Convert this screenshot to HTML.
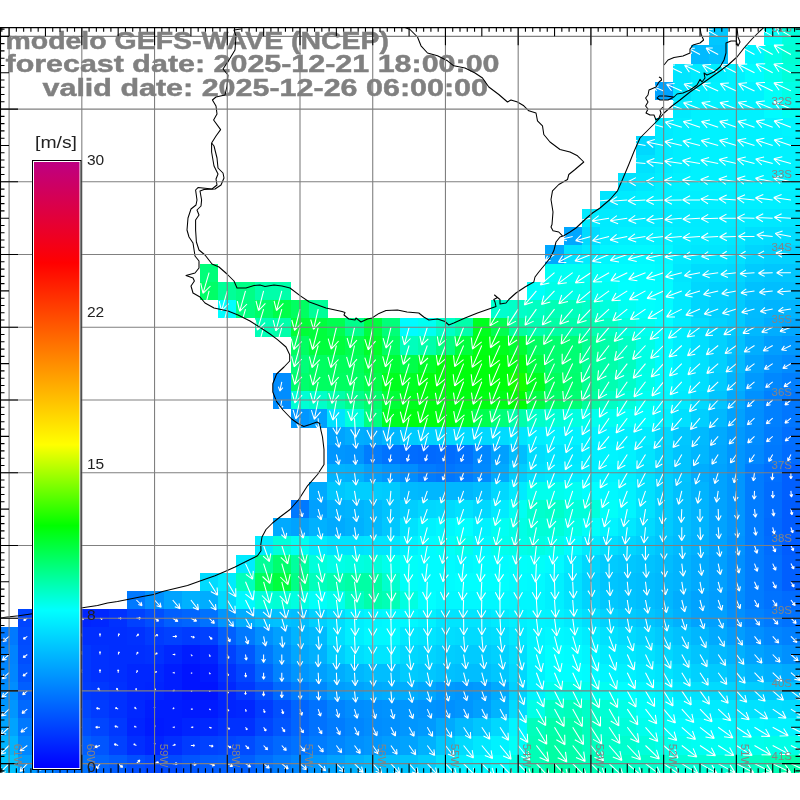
<!DOCTYPE html><html><head><meta charset="utf-8"><style>html,body{margin:0;padding:0;background:#fff;width:800px;height:800px;overflow:hidden}</style></head><body><svg width="800" height="800" viewBox="0 0 800 800" style="position:absolute;left:0;top:0">
<defs><filter id="gs" x="0" y="0" width="100%" height="100%" filterUnits="userSpaceOnUse" color-interpolation-filters="sRGB"><feColorMatrix type="saturate" values="0"/></filter></defs>
<rect width="800" height="800" fill="#fff"/>
<g shape-rendering="crispEdges">
<rect x="709.09" y="27.27" width="18.48" height="18.48" fill="#00c7ff"/>
<rect x="763.64" y="27.27" width="18.48" height="18.48" fill="#00fff9"/>
<rect x="781.82" y="27.27" width="18.48" height="18.48" fill="#00ffdb"/>
<rect x="690.91" y="45.45" width="18.48" height="18.49" fill="#00baff"/>
<rect x="709.09" y="45.45" width="18.48" height="18.49" fill="#00c1ff"/>
<rect x="745.45" y="45.45" width="18.49" height="18.49" fill="#00f5ff"/>
<rect x="763.64" y="45.45" width="18.48" height="18.49" fill="#00ffe7"/>
<rect x="781.82" y="45.45" width="18.48" height="18.49" fill="#00ffd4"/>
<rect x="672.73" y="63.64" width="18.48" height="18.48" fill="#00e5ff"/>
<rect x="690.91" y="63.64" width="18.48" height="18.48" fill="#00ebff"/>
<rect x="709.09" y="63.64" width="18.48" height="18.48" fill="#00efff"/>
<rect x="727.27" y="63.64" width="18.48" height="18.48" fill="#00f2ff"/>
<rect x="745.45" y="63.64" width="18.49" height="18.48" fill="#00fcff"/>
<rect x="763.64" y="63.64" width="18.48" height="18.48" fill="#00ffed"/>
<rect x="781.82" y="63.64" width="18.48" height="18.48" fill="#00ffdb"/>
<rect x="654.55" y="81.82" width="18.48" height="18.48" fill="#00a3ff"/>
<rect x="672.73" y="81.82" width="18.48" height="18.48" fill="#00e5ff"/>
<rect x="690.91" y="81.82" width="18.48" height="18.48" fill="#00efff"/>
<rect x="709.09" y="81.82" width="54.85" height="18.48" fill="#00f2ff"/>
<rect x="763.64" y="81.82" width="18.48" height="18.48" fill="#00fff9"/>
<rect x="781.82" y="81.82" width="18.48" height="18.48" fill="#00ffe7"/>
<rect x="672.73" y="100.0" width="18.48" height="18.48" fill="#00ebff"/>
<rect x="690.91" y="100.0" width="73.03" height="18.48" fill="#00f2ff"/>
<rect x="763.64" y="100.0" width="18.48" height="18.48" fill="#00fcff"/>
<rect x="781.82" y="100.0" width="18.48" height="18.48" fill="#00fff3"/>
<rect x="654.55" y="118.18" width="18.48" height="18.48" fill="#00ebff"/>
<rect x="672.73" y="118.18" width="18.48" height="18.48" fill="#00efff"/>
<rect x="690.91" y="118.18" width="91.21" height="18.48" fill="#00f2ff"/>
<rect x="781.82" y="118.18" width="18.48" height="18.48" fill="#00f5ff"/>
<rect x="636.36" y="136.36" width="18.49" height="18.49" fill="#00d8ff"/>
<rect x="654.55" y="136.36" width="18.48" height="18.49" fill="#00ebff"/>
<rect x="672.73" y="136.36" width="18.48" height="18.49" fill="#00efff"/>
<rect x="690.91" y="136.36" width="109.39" height="18.49" fill="#00f2ff"/>
<rect x="636.36" y="154.55" width="18.49" height="18.48" fill="#00e2ff"/>
<rect x="654.55" y="154.55" width="18.48" height="18.48" fill="#00ebff"/>
<rect x="672.73" y="154.55" width="18.48" height="18.48" fill="#00efff"/>
<rect x="690.91" y="154.55" width="109.39" height="18.48" fill="#00f2ff"/>
<rect x="618.18" y="172.73" width="18.48" height="18.48" fill="#00e2ff"/>
<rect x="636.36" y="172.73" width="18.49" height="18.48" fill="#00e8ff"/>
<rect x="654.55" y="172.73" width="18.48" height="18.48" fill="#00efff"/>
<rect x="672.73" y="172.73" width="127.57" height="18.48" fill="#00f2ff"/>
<rect x="600.0" y="190.91" width="18.48" height="18.48" fill="#00e5ff"/>
<rect x="618.18" y="190.91" width="18.48" height="18.48" fill="#00ebff"/>
<rect x="636.36" y="190.91" width="163.94" height="18.48" fill="#00efff"/>
<rect x="581.82" y="209.09" width="182.12" height="18.48" fill="#00ebff"/>
<rect x="763.64" y="209.09" width="18.48" height="18.48" fill="#00e8ff"/>
<rect x="781.82" y="209.09" width="18.48" height="18.48" fill="#00e5ff"/>
<rect x="563.64" y="227.27" width="18.48" height="18.48" fill="#00a7ff"/>
<rect x="581.82" y="227.27" width="18.48" height="18.48" fill="#00dbff"/>
<rect x="600.0" y="227.27" width="18.48" height="18.48" fill="#00ecff"/>
<rect x="618.18" y="227.27" width="36.67" height="18.48" fill="#00f0ff"/>
<rect x="654.55" y="227.27" width="18.48" height="18.48" fill="#00f1ff"/>
<rect x="672.73" y="227.27" width="18.48" height="18.48" fill="#00edff"/>
<rect x="690.91" y="227.27" width="18.48" height="18.48" fill="#00ecff"/>
<rect x="709.09" y="227.27" width="18.48" height="18.48" fill="#00ebff"/>
<rect x="727.27" y="227.27" width="18.48" height="18.48" fill="#00e8ff"/>
<rect x="745.45" y="227.27" width="18.49" height="18.48" fill="#00e0ff"/>
<rect x="763.64" y="227.27" width="18.48" height="18.48" fill="#00deff"/>
<rect x="781.82" y="227.27" width="18.48" height="18.48" fill="#00ddff"/>
<rect x="545.45" y="245.45" width="18.49" height="18.49" fill="#00a7ff"/>
<rect x="563.64" y="245.45" width="18.48" height="18.49" fill="#00e2ff"/>
<rect x="581.82" y="245.45" width="18.48" height="18.49" fill="#00ebff"/>
<rect x="600.0" y="245.45" width="18.48" height="18.49" fill="#00f6ff"/>
<rect x="618.18" y="245.45" width="18.48" height="18.49" fill="#00f8ff"/>
<rect x="636.36" y="245.45" width="18.49" height="18.49" fill="#00f9ff"/>
<rect x="654.55" y="245.45" width="18.48" height="18.49" fill="#00f7ff"/>
<rect x="672.73" y="245.45" width="18.48" height="18.49" fill="#00ebff"/>
<rect x="690.91" y="245.45" width="18.48" height="18.49" fill="#00e7ff"/>
<rect x="709.09" y="245.45" width="18.48" height="18.49" fill="#00e6ff"/>
<rect x="727.27" y="245.45" width="18.48" height="18.49" fill="#00e2ff"/>
<rect x="745.45" y="245.45" width="18.49" height="18.49" fill="#00d6ff"/>
<rect x="763.64" y="245.45" width="36.66" height="18.49" fill="#00d2ff"/>
<rect x="200.0" y="263.64" width="18.48" height="18.48" fill="#00ff79"/>
<rect x="545.45" y="263.64" width="54.85" height="18.48" fill="#00fff3"/>
<rect x="600.0" y="263.64" width="18.48" height="18.48" fill="#00fffe"/>
<rect x="618.18" y="263.64" width="18.48" height="18.48" fill="#00feff"/>
<rect x="636.36" y="263.64" width="18.49" height="18.48" fill="#00fdff"/>
<rect x="654.55" y="263.64" width="18.48" height="18.48" fill="#00faff"/>
<rect x="672.73" y="263.64" width="18.48" height="18.48" fill="#00e6ff"/>
<rect x="690.91" y="263.64" width="36.66" height="18.48" fill="#00dcff"/>
<rect x="727.27" y="263.64" width="18.48" height="18.48" fill="#00d8ff"/>
<rect x="745.45" y="263.64" width="18.49" height="18.48" fill="#00cbff"/>
<rect x="763.64" y="263.64" width="36.66" height="18.48" fill="#00c7ff"/>
<rect x="200.0" y="281.82" width="18.48" height="18.48" fill="#00ff67"/>
<rect x="218.18" y="281.82" width="18.48" height="18.48" fill="#00ff98"/>
<rect x="236.36" y="281.82" width="18.49" height="18.48" fill="#00ff86"/>
<rect x="254.55" y="281.82" width="36.66" height="18.48" fill="#00ffaa"/>
<rect x="527.27" y="281.82" width="18.48" height="18.48" fill="#00fff9"/>
<rect x="545.45" y="281.82" width="36.67" height="18.48" fill="#00ffe7"/>
<rect x="581.82" y="281.82" width="18.48" height="18.48" fill="#00ffed"/>
<rect x="600.0" y="281.82" width="18.48" height="18.48" fill="#00fff4"/>
<rect x="618.18" y="281.82" width="18.48" height="18.48" fill="#00ffff"/>
<rect x="636.36" y="281.82" width="18.49" height="18.48" fill="#00fdff"/>
<rect x="654.55" y="281.82" width="18.48" height="18.48" fill="#00fcff"/>
<rect x="672.73" y="281.82" width="18.48" height="18.48" fill="#00e9ff"/>
<rect x="690.91" y="281.82" width="18.48" height="18.48" fill="#00d7ff"/>
<rect x="709.09" y="281.82" width="18.48" height="18.48" fill="#00d2ff"/>
<rect x="727.27" y="281.82" width="18.48" height="18.48" fill="#00cfff"/>
<rect x="745.45" y="281.82" width="18.49" height="18.48" fill="#00c1ff"/>
<rect x="763.64" y="281.82" width="36.66" height="18.48" fill="#00beff"/>
<rect x="218.18" y="300.0" width="18.48" height="18.48" fill="#00ffff"/>
<rect x="236.36" y="300.0" width="18.49" height="18.48" fill="#00ff7f"/>
<rect x="254.55" y="300.0" width="18.48" height="18.48" fill="#00ff67"/>
<rect x="272.73" y="300.0" width="18.48" height="18.48" fill="#00ff49"/>
<rect x="290.91" y="300.0" width="18.48" height="18.48" fill="#00ff61"/>
<rect x="309.09" y="300.0" width="18.48" height="18.48" fill="#00ff98"/>
<rect x="490.91" y="300.0" width="18.48" height="18.48" fill="#00ffce"/>
<rect x="509.09" y="300.0" width="18.48" height="18.48" fill="#00ffc8"/>
<rect x="527.27" y="300.0" width="18.48" height="18.48" fill="#00ffc2"/>
<rect x="545.45" y="300.0" width="18.49" height="18.48" fill="#00ffb6"/>
<rect x="563.64" y="300.0" width="18.48" height="18.48" fill="#00ffbc"/>
<rect x="581.82" y="300.0" width="18.48" height="18.48" fill="#00ffc8"/>
<rect x="600.0" y="300.0" width="18.48" height="18.48" fill="#00ffde"/>
<rect x="618.18" y="300.0" width="18.48" height="18.48" fill="#00fff2"/>
<rect x="636.36" y="300.0" width="18.49" height="18.48" fill="#00fffd"/>
<rect x="654.55" y="300.0" width="18.48" height="18.48" fill="#00fcff"/>
<rect x="672.73" y="300.0" width="18.48" height="18.48" fill="#00eaff"/>
<rect x="690.91" y="300.0" width="18.48" height="18.48" fill="#00d6ff"/>
<rect x="709.09" y="300.0" width="18.48" height="18.48" fill="#00cfff"/>
<rect x="727.27" y="300.0" width="18.48" height="18.48" fill="#00cbff"/>
<rect x="745.45" y="300.0" width="18.49" height="18.48" fill="#00bbff"/>
<rect x="763.64" y="300.0" width="36.66" height="18.48" fill="#00b4ff"/>
<rect x="254.55" y="318.18" width="18.48" height="18.48" fill="#00ffb6"/>
<rect x="272.73" y="318.18" width="18.48" height="18.48" fill="#00ffaa"/>
<rect x="290.91" y="318.18" width="18.48" height="18.48" fill="#00ff37"/>
<rect x="309.09" y="318.18" width="18.48" height="18.48" fill="#00ff3d"/>
<rect x="327.27" y="318.18" width="18.48" height="18.48" fill="#00ff4f"/>
<rect x="345.45" y="318.18" width="18.49" height="18.48" fill="#00ff8c"/>
<rect x="363.64" y="318.18" width="18.48" height="18.48" fill="#00ff3d"/>
<rect x="381.82" y="318.18" width="18.48" height="18.48" fill="#00ff79"/>
<rect x="400.0" y="318.18" width="18.48" height="18.48" fill="#00fcff"/>
<rect x="418.18" y="318.18" width="18.48" height="18.48" fill="#00fff3"/>
<rect x="436.36" y="318.18" width="18.49" height="18.48" fill="#00ffc8"/>
<rect x="454.55" y="318.18" width="18.48" height="18.48" fill="#00ffaa"/>
<rect x="472.73" y="318.18" width="18.48" height="18.48" fill="#00ff1e"/>
<rect x="490.91" y="318.18" width="18.48" height="18.48" fill="#00ff4f"/>
<rect x="509.09" y="318.18" width="18.48" height="18.48" fill="#00ff9e"/>
<rect x="527.27" y="318.18" width="18.48" height="18.48" fill="#00ffb0"/>
<rect x="545.45" y="318.18" width="18.49" height="18.48" fill="#00ffa4"/>
<rect x="563.64" y="318.18" width="18.48" height="18.48" fill="#00ffaa"/>
<rect x="581.82" y="318.18" width="18.48" height="18.48" fill="#00ffb0"/>
<rect x="600.0" y="318.18" width="18.48" height="18.48" fill="#00ffc2"/>
<rect x="618.18" y="318.18" width="18.48" height="18.48" fill="#00ffdc"/>
<rect x="636.36" y="318.18" width="18.49" height="18.48" fill="#00ffef"/>
<rect x="654.55" y="318.18" width="18.48" height="18.48" fill="#00feff"/>
<rect x="672.73" y="318.18" width="18.48" height="18.48" fill="#00eeff"/>
<rect x="690.91" y="318.18" width="18.48" height="18.48" fill="#00ddff"/>
<rect x="709.09" y="318.18" width="18.48" height="18.48" fill="#00d3ff"/>
<rect x="727.27" y="318.18" width="18.48" height="18.48" fill="#00cbff"/>
<rect x="745.45" y="318.18" width="18.49" height="18.48" fill="#00b9ff"/>
<rect x="763.64" y="318.18" width="18.48" height="18.48" fill="#00adff"/>
<rect x="781.82" y="318.18" width="18.48" height="18.48" fill="#00a7ff"/>
<rect x="290.91" y="336.36" width="18.48" height="18.49" fill="#00ff61"/>
<rect x="309.09" y="336.36" width="36.66" height="18.49" fill="#00ff3d"/>
<rect x="345.45" y="336.36" width="18.49" height="18.49" fill="#00ff4f"/>
<rect x="363.64" y="336.36" width="18.48" height="18.49" fill="#00ff2a"/>
<rect x="381.82" y="336.36" width="18.48" height="18.49" fill="#00ff61"/>
<rect x="400.0" y="336.36" width="18.48" height="18.49" fill="#00ffbc"/>
<rect x="418.18" y="336.36" width="18.48" height="18.49" fill="#00ffaa"/>
<rect x="436.36" y="336.36" width="18.49" height="18.49" fill="#00ff7f"/>
<rect x="454.55" y="336.36" width="18.48" height="18.49" fill="#00ff3d"/>
<rect x="472.73" y="336.36" width="18.48" height="18.49" fill="#00ff12"/>
<rect x="490.91" y="336.36" width="18.48" height="18.49" fill="#00ff1e"/>
<rect x="509.09" y="336.36" width="18.48" height="18.49" fill="#00ff31"/>
<rect x="527.27" y="336.36" width="18.48" height="18.49" fill="#00ff61"/>
<rect x="545.45" y="336.36" width="18.49" height="18.49" fill="#00ff6d"/>
<rect x="563.64" y="336.36" width="18.48" height="18.49" fill="#00ff73"/>
<rect x="581.82" y="336.36" width="18.48" height="18.49" fill="#00ff92"/>
<rect x="600.0" y="336.36" width="18.48" height="18.49" fill="#00ffa9"/>
<rect x="618.18" y="336.36" width="18.48" height="18.49" fill="#00ffc4"/>
<rect x="636.36" y="336.36" width="18.49" height="18.49" fill="#00ffe5"/>
<rect x="654.55" y="336.36" width="18.48" height="18.49" fill="#00fdff"/>
<rect x="672.73" y="336.36" width="18.48" height="18.49" fill="#00edff"/>
<rect x="690.91" y="336.36" width="18.48" height="18.49" fill="#00dfff"/>
<rect x="709.09" y="336.36" width="18.48" height="18.49" fill="#00d2ff"/>
<rect x="727.27" y="336.36" width="18.48" height="18.49" fill="#00c3ff"/>
<rect x="745.45" y="336.36" width="18.49" height="18.49" fill="#00aeff"/>
<rect x="763.64" y="336.36" width="18.48" height="18.49" fill="#009eff"/>
<rect x="781.82" y="336.36" width="18.48" height="18.49" fill="#0098ff"/>
<rect x="290.91" y="354.55" width="18.48" height="18.48" fill="#00ff79"/>
<rect x="309.09" y="354.55" width="18.48" height="18.48" fill="#00ff61"/>
<rect x="327.27" y="354.55" width="36.67" height="18.48" fill="#00ff5b"/>
<rect x="363.64" y="354.55" width="18.48" height="18.48" fill="#00ff3d"/>
<rect x="381.82" y="354.55" width="18.48" height="18.48" fill="#00ff37"/>
<rect x="400.0" y="354.55" width="18.48" height="18.48" fill="#00ff49"/>
<rect x="418.18" y="354.55" width="18.48" height="18.48" fill="#00ff2a"/>
<rect x="436.36" y="354.55" width="73.03" height="18.48" fill="#00ff0c"/>
<rect x="509.09" y="354.55" width="18.48" height="18.48" fill="#00ff12"/>
<rect x="527.27" y="354.55" width="18.48" height="18.48" fill="#00ff43"/>
<rect x="545.45" y="354.55" width="18.49" height="18.48" fill="#00ff6d"/>
<rect x="563.64" y="354.55" width="18.48" height="18.48" fill="#00ff73"/>
<rect x="581.82" y="354.55" width="18.48" height="18.48" fill="#00ff98"/>
<rect x="600.0" y="354.55" width="18.48" height="18.48" fill="#00ffaa"/>
<rect x="618.18" y="354.55" width="18.48" height="18.48" fill="#00ffc0"/>
<rect x="636.36" y="354.55" width="18.49" height="18.48" fill="#00ffe3"/>
<rect x="654.55" y="354.55" width="18.48" height="18.48" fill="#00fdff"/>
<rect x="672.73" y="354.55" width="18.48" height="18.48" fill="#00eeff"/>
<rect x="690.91" y="354.55" width="18.48" height="18.48" fill="#00e1ff"/>
<rect x="709.09" y="354.55" width="18.48" height="18.48" fill="#00d1ff"/>
<rect x="727.27" y="354.55" width="18.48" height="18.48" fill="#00bcff"/>
<rect x="745.45" y="354.55" width="18.49" height="18.48" fill="#00a3ff"/>
<rect x="763.64" y="354.55" width="18.48" height="18.48" fill="#0093ff"/>
<rect x="781.82" y="354.55" width="18.48" height="18.48" fill="#008bff"/>
<rect x="272.73" y="372.73" width="18.48" height="18.48" fill="#008dff"/>
<rect x="290.91" y="372.73" width="18.48" height="18.48" fill="#00ff6d"/>
<rect x="309.09" y="372.73" width="54.85" height="18.48" fill="#00ff61"/>
<rect x="363.64" y="372.73" width="18.48" height="18.48" fill="#00ff49"/>
<rect x="381.82" y="372.73" width="18.48" height="18.48" fill="#00ff1e"/>
<rect x="400.0" y="372.73" width="18.48" height="18.48" fill="#00ff24"/>
<rect x="418.18" y="372.73" width="91.21" height="18.48" fill="#00ff0c"/>
<rect x="509.09" y="372.73" width="18.48" height="18.48" fill="#13ff00"/>
<rect x="527.27" y="372.73" width="18.48" height="18.48" fill="#00ff1e"/>
<rect x="545.45" y="372.73" width="18.49" height="18.48" fill="#00ff5b"/>
<rect x="563.64" y="372.73" width="18.48" height="18.48" fill="#00ff6d"/>
<rect x="581.82" y="372.73" width="18.48" height="18.48" fill="#00ff92"/>
<rect x="600.0" y="372.73" width="18.48" height="18.48" fill="#00ffb2"/>
<rect x="618.18" y="372.73" width="18.48" height="18.48" fill="#00ffc8"/>
<rect x="636.36" y="372.73" width="18.49" height="18.48" fill="#00ffe7"/>
<rect x="654.55" y="372.73" width="18.48" height="18.48" fill="#00fcff"/>
<rect x="672.73" y="372.73" width="18.48" height="18.48" fill="#00eeff"/>
<rect x="690.91" y="372.73" width="18.48" height="18.48" fill="#00dfff"/>
<rect x="709.09" y="372.73" width="18.48" height="18.48" fill="#00ccff"/>
<rect x="727.27" y="372.73" width="18.48" height="18.48" fill="#00b3ff"/>
<rect x="745.45" y="372.73" width="18.49" height="18.48" fill="#0099ff"/>
<rect x="763.64" y="372.73" width="18.48" height="18.48" fill="#0088ff"/>
<rect x="781.82" y="372.73" width="18.48" height="18.48" fill="#007fff"/>
<rect x="272.73" y="390.91" width="18.48" height="18.48" fill="#008dff"/>
<rect x="290.91" y="390.91" width="18.48" height="18.48" fill="#00ffd4"/>
<rect x="309.09" y="390.91" width="18.48" height="18.48" fill="#00ffc8"/>
<rect x="327.27" y="390.91" width="18.48" height="18.48" fill="#00ffaa"/>
<rect x="345.45" y="390.91" width="18.49" height="18.48" fill="#00ff8c"/>
<rect x="363.64" y="390.91" width="18.48" height="18.48" fill="#00ff6d"/>
<rect x="381.82" y="390.91" width="18.48" height="18.48" fill="#00ff37"/>
<rect x="400.0" y="390.91" width="18.48" height="18.48" fill="#00ff1e"/>
<rect x="418.18" y="390.91" width="73.03" height="18.48" fill="#00ff12"/>
<rect x="490.91" y="390.91" width="18.48" height="18.48" fill="#00ff18"/>
<rect x="509.09" y="390.91" width="18.48" height="18.48" fill="#00ff06"/>
<rect x="527.27" y="390.91" width="18.48" height="18.48" fill="#00ff43"/>
<rect x="545.45" y="390.91" width="18.49" height="18.48" fill="#00ff67"/>
<rect x="563.64" y="390.91" width="18.48" height="18.48" fill="#00ff73"/>
<rect x="581.82" y="390.91" width="18.48" height="18.48" fill="#00ff9e"/>
<rect x="600.0" y="390.91" width="18.48" height="18.48" fill="#00ffc5"/>
<rect x="618.18" y="390.91" width="18.48" height="18.48" fill="#00ffd9"/>
<rect x="636.36" y="390.91" width="18.49" height="18.48" fill="#00fff2"/>
<rect x="654.55" y="390.91" width="18.48" height="18.48" fill="#00f8ff"/>
<rect x="672.73" y="390.91" width="18.48" height="18.48" fill="#00eaff"/>
<rect x="690.91" y="390.91" width="18.48" height="18.48" fill="#00d9ff"/>
<rect x="709.09" y="390.91" width="18.48" height="18.48" fill="#00c4ff"/>
<rect x="727.27" y="390.91" width="18.48" height="18.48" fill="#00a9ff"/>
<rect x="745.45" y="390.91" width="18.49" height="18.48" fill="#0091ff"/>
<rect x="763.64" y="390.91" width="18.48" height="18.48" fill="#0080ff"/>
<rect x="781.82" y="390.91" width="18.48" height="18.48" fill="#0077ff"/>
<rect x="290.91" y="409.09" width="18.48" height="18.48" fill="#0096ff"/>
<rect x="309.09" y="409.09" width="18.48" height="18.48" fill="#00a0ff"/>
<rect x="327.27" y="409.09" width="18.48" height="18.48" fill="#00e2ff"/>
<rect x="345.45" y="409.09" width="18.49" height="18.48" fill="#00ffdb"/>
<rect x="363.64" y="409.09" width="18.48" height="18.48" fill="#00ff7f"/>
<rect x="381.82" y="409.09" width="18.48" height="18.48" fill="#00ff24"/>
<rect x="400.0" y="409.09" width="54.85" height="18.48" fill="#00ff12"/>
<rect x="454.55" y="409.09" width="18.48" height="18.48" fill="#00ff24"/>
<rect x="472.73" y="409.09" width="18.48" height="18.48" fill="#00ff4f"/>
<rect x="490.91" y="409.09" width="18.48" height="18.48" fill="#00ff79"/>
<rect x="509.09" y="409.09" width="18.48" height="18.48" fill="#00ffaa"/>
<rect x="527.27" y="409.09" width="18.48" height="18.48" fill="#00ffc8"/>
<rect x="545.45" y="409.09" width="18.49" height="18.48" fill="#00ffd4"/>
<rect x="563.64" y="409.09" width="18.48" height="18.48" fill="#00ffe1"/>
<rect x="581.82" y="409.09" width="18.48" height="18.48" fill="#00ffed"/>
<rect x="600.0" y="409.09" width="18.48" height="18.48" fill="#00fff0"/>
<rect x="618.18" y="409.09" width="18.48" height="18.48" fill="#00fff7"/>
<rect x="636.36" y="409.09" width="18.49" height="18.48" fill="#00fcff"/>
<rect x="654.55" y="409.09" width="18.48" height="18.48" fill="#00f0ff"/>
<rect x="672.73" y="409.09" width="18.48" height="18.48" fill="#00e0ff"/>
<rect x="690.91" y="409.09" width="18.48" height="18.48" fill="#00cfff"/>
<rect x="709.09" y="409.09" width="18.48" height="18.48" fill="#00b9ff"/>
<rect x="727.27" y="409.09" width="18.48" height="18.48" fill="#00a2ff"/>
<rect x="745.45" y="409.09" width="18.49" height="18.48" fill="#008fff"/>
<rect x="763.64" y="409.09" width="18.48" height="18.48" fill="#0080ff"/>
<rect x="781.82" y="409.09" width="18.48" height="18.48" fill="#0076ff"/>
<rect x="327.27" y="427.27" width="18.48" height="18.48" fill="#00a3ff"/>
<rect x="345.45" y="427.27" width="18.49" height="18.48" fill="#00adff"/>
<rect x="363.64" y="427.27" width="18.48" height="18.48" fill="#00aaff"/>
<rect x="381.82" y="427.27" width="18.48" height="18.48" fill="#00b7ff"/>
<rect x="400.0" y="427.27" width="18.48" height="18.48" fill="#00cbff"/>
<rect x="418.18" y="427.27" width="18.48" height="18.48" fill="#00d1ff"/>
<rect x="436.36" y="427.27" width="18.49" height="18.48" fill="#00d8ff"/>
<rect x="454.55" y="427.27" width="18.48" height="18.48" fill="#00dbff"/>
<rect x="472.73" y="427.27" width="18.48" height="18.48" fill="#00d8ff"/>
<rect x="490.91" y="427.27" width="18.48" height="18.48" fill="#00dbff"/>
<rect x="509.09" y="427.27" width="18.48" height="18.48" fill="#00e5ff"/>
<rect x="527.27" y="427.27" width="18.48" height="18.48" fill="#00efff"/>
<rect x="545.45" y="427.27" width="73.03" height="18.48" fill="#00f2ff"/>
<rect x="618.18" y="427.27" width="18.48" height="18.48" fill="#00efff"/>
<rect x="636.36" y="427.27" width="18.49" height="18.48" fill="#00ebff"/>
<rect x="654.55" y="427.27" width="18.48" height="18.48" fill="#00d8ff"/>
<rect x="672.73" y="427.27" width="18.48" height="18.48" fill="#00c7ff"/>
<rect x="690.91" y="427.27" width="18.48" height="18.48" fill="#00baff"/>
<rect x="709.09" y="427.27" width="18.48" height="18.48" fill="#00aaff"/>
<rect x="727.27" y="427.27" width="18.48" height="18.48" fill="#009aff"/>
<rect x="745.45" y="427.27" width="18.49" height="18.48" fill="#008dff"/>
<rect x="763.64" y="427.27" width="18.48" height="18.48" fill="#007cff"/>
<rect x="781.82" y="427.27" width="18.48" height="18.48" fill="#006fff"/>
<rect x="327.27" y="445.45" width="18.48" height="18.49" fill="#0096ff"/>
<rect x="345.45" y="445.45" width="18.49" height="18.49" fill="#0093ff"/>
<rect x="363.64" y="445.45" width="18.48" height="18.49" fill="#007cff"/>
<rect x="381.82" y="445.45" width="18.48" height="18.49" fill="#0072ff"/>
<rect x="400.0" y="445.45" width="18.48" height="18.49" fill="#006cff"/>
<rect x="418.18" y="445.45" width="18.48" height="18.49" fill="#0069ff"/>
<rect x="436.36" y="445.45" width="18.49" height="18.49" fill="#006cff"/>
<rect x="454.55" y="445.45" width="18.48" height="18.49" fill="#0072ff"/>
<rect x="472.73" y="445.45" width="18.48" height="18.49" fill="#0086ff"/>
<rect x="490.91" y="445.45" width="18.48" height="18.49" fill="#00a0ff"/>
<rect x="509.09" y="445.45" width="18.48" height="18.49" fill="#00beff"/>
<rect x="527.27" y="445.45" width="18.48" height="18.49" fill="#00deff"/>
<rect x="545.45" y="445.45" width="18.49" height="18.49" fill="#00e5ff"/>
<rect x="563.64" y="445.45" width="18.48" height="18.49" fill="#00e8ff"/>
<rect x="581.82" y="445.45" width="18.48" height="18.49" fill="#00efff"/>
<rect x="600.0" y="445.45" width="18.48" height="18.49" fill="#00f5ff"/>
<rect x="618.18" y="445.45" width="18.48" height="18.49" fill="#00f2ff"/>
<rect x="636.36" y="445.45" width="18.49" height="18.49" fill="#00e5ff"/>
<rect x="654.55" y="445.45" width="18.48" height="18.49" fill="#00d4ff"/>
<rect x="672.73" y="445.45" width="18.48" height="18.49" fill="#00c4ff"/>
<rect x="690.91" y="445.45" width="18.48" height="18.49" fill="#00b7ff"/>
<rect x="709.09" y="445.45" width="18.48" height="18.49" fill="#00a7ff"/>
<rect x="727.27" y="445.45" width="18.48" height="18.49" fill="#0096ff"/>
<rect x="745.45" y="445.45" width="18.49" height="18.49" fill="#0089ff"/>
<rect x="763.64" y="445.45" width="18.48" height="18.49" fill="#0079ff"/>
<rect x="781.82" y="445.45" width="18.48" height="18.49" fill="#006cff"/>
<rect x="327.27" y="463.64" width="18.48" height="18.48" fill="#00b4ff"/>
<rect x="345.45" y="463.64" width="18.49" height="18.48" fill="#00b1ff"/>
<rect x="363.64" y="463.64" width="18.48" height="18.48" fill="#00a0ff"/>
<rect x="381.82" y="463.64" width="18.48" height="18.48" fill="#0096ff"/>
<rect x="400.0" y="463.64" width="18.48" height="18.48" fill="#008dff"/>
<rect x="418.18" y="463.64" width="18.48" height="18.48" fill="#007cff"/>
<rect x="436.36" y="463.64" width="18.49" height="18.48" fill="#0076ff"/>
<rect x="454.55" y="463.64" width="18.48" height="18.48" fill="#007cff"/>
<rect x="472.73" y="463.64" width="18.48" height="18.48" fill="#0089ff"/>
<rect x="490.91" y="463.64" width="18.48" height="18.48" fill="#00aaff"/>
<rect x="509.09" y="463.64" width="18.48" height="18.48" fill="#00ceff"/>
<rect x="527.27" y="463.64" width="18.48" height="18.48" fill="#00e2ff"/>
<rect x="545.45" y="463.64" width="18.49" height="18.48" fill="#00e8ff"/>
<rect x="563.64" y="463.64" width="18.48" height="18.48" fill="#00ebff"/>
<rect x="581.82" y="463.64" width="18.48" height="18.48" fill="#00efff"/>
<rect x="600.0" y="463.64" width="18.48" height="18.48" fill="#00f2ff"/>
<rect x="618.18" y="463.64" width="18.48" height="18.48" fill="#00efff"/>
<rect x="636.36" y="463.64" width="18.49" height="18.48" fill="#00e2ff"/>
<rect x="654.55" y="463.64" width="18.48" height="18.48" fill="#00d1ff"/>
<rect x="672.73" y="463.64" width="18.48" height="18.48" fill="#00c4ff"/>
<rect x="690.91" y="463.64" width="18.48" height="18.48" fill="#00adff"/>
<rect x="709.09" y="463.64" width="18.48" height="18.48" fill="#00a3ff"/>
<rect x="727.27" y="463.64" width="18.48" height="18.48" fill="#0096ff"/>
<rect x="745.45" y="463.64" width="18.49" height="18.48" fill="#007cff"/>
<rect x="763.64" y="463.64" width="18.48" height="18.48" fill="#006fff"/>
<rect x="781.82" y="463.64" width="18.48" height="18.48" fill="#005fff"/>
<rect x="309.09" y="481.82" width="18.48" height="18.48" fill="#00aaff"/>
<rect x="327.27" y="481.82" width="18.48" height="18.48" fill="#00c7ff"/>
<rect x="345.45" y="481.82" width="36.67" height="18.48" fill="#00ceff"/>
<rect x="381.82" y="481.82" width="18.48" height="18.48" fill="#00cbff"/>
<rect x="400.0" y="481.82" width="18.48" height="18.48" fill="#00baff"/>
<rect x="418.18" y="481.82" width="54.85" height="18.48" fill="#00b7ff"/>
<rect x="472.73" y="481.82" width="18.48" height="18.48" fill="#00beff"/>
<rect x="490.91" y="481.82" width="18.48" height="18.48" fill="#00d8ff"/>
<rect x="509.09" y="481.82" width="18.48" height="18.48" fill="#00ebff"/>
<rect x="527.27" y="481.82" width="36.67" height="18.48" fill="#00ffed"/>
<rect x="563.64" y="481.82" width="18.48" height="18.48" fill="#00fff3"/>
<rect x="581.82" y="481.82" width="18.48" height="18.48" fill="#00ffff"/>
<rect x="600.0" y="481.82" width="18.48" height="18.48" fill="#00f8ff"/>
<rect x="618.18" y="481.82" width="18.48" height="18.48" fill="#00f2ff"/>
<rect x="636.36" y="481.82" width="18.49" height="18.48" fill="#00e2ff"/>
<rect x="654.55" y="481.82" width="18.48" height="18.48" fill="#00d1ff"/>
<rect x="672.73" y="481.82" width="18.48" height="18.48" fill="#00c1ff"/>
<rect x="690.91" y="481.82" width="18.48" height="18.48" fill="#00b4ff"/>
<rect x="709.09" y="481.82" width="18.48" height="18.48" fill="#00a3ff"/>
<rect x="727.27" y="481.82" width="18.48" height="18.48" fill="#0096ff"/>
<rect x="745.45" y="481.82" width="18.49" height="18.48" fill="#007cff"/>
<rect x="763.64" y="481.82" width="18.48" height="18.48" fill="#006cff"/>
<rect x="781.82" y="481.82" width="18.48" height="18.48" fill="#005fff"/>
<rect x="290.91" y="500.0" width="18.48" height="18.48" fill="#0079ff"/>
<rect x="309.09" y="500.0" width="18.48" height="18.48" fill="#00a0ff"/>
<rect x="327.27" y="500.0" width="18.48" height="18.48" fill="#00b1ff"/>
<rect x="345.45" y="500.0" width="18.49" height="18.48" fill="#00b4ff"/>
<rect x="363.64" y="500.0" width="18.48" height="18.48" fill="#00baff"/>
<rect x="381.82" y="500.0" width="18.48" height="18.48" fill="#00c4ff"/>
<rect x="400.0" y="500.0" width="18.48" height="18.48" fill="#00ceff"/>
<rect x="418.18" y="500.0" width="18.48" height="18.48" fill="#00d8ff"/>
<rect x="436.36" y="500.0" width="18.49" height="18.48" fill="#00dbff"/>
<rect x="454.55" y="500.0" width="18.48" height="18.48" fill="#00e2ff"/>
<rect x="472.73" y="500.0" width="18.48" height="18.48" fill="#00d8ff"/>
<rect x="490.91" y="500.0" width="18.48" height="18.48" fill="#00ebff"/>
<rect x="509.09" y="500.0" width="18.48" height="18.48" fill="#00fff3"/>
<rect x="527.27" y="500.0" width="18.48" height="18.48" fill="#00ffce"/>
<rect x="545.45" y="500.0" width="18.49" height="18.48" fill="#00ffc8"/>
<rect x="563.64" y="500.0" width="36.66" height="18.48" fill="#00ffdb"/>
<rect x="600.0" y="500.0" width="18.48" height="18.48" fill="#00fff9"/>
<rect x="618.18" y="500.0" width="18.48" height="18.48" fill="#00f5ff"/>
<rect x="636.36" y="500.0" width="18.49" height="18.48" fill="#00e2ff"/>
<rect x="654.55" y="500.0" width="18.48" height="18.48" fill="#00ceff"/>
<rect x="672.73" y="500.0" width="18.48" height="18.48" fill="#00beff"/>
<rect x="690.91" y="500.0" width="18.48" height="18.48" fill="#00b4ff"/>
<rect x="709.09" y="500.0" width="18.48" height="18.48" fill="#00a3ff"/>
<rect x="727.27" y="500.0" width="18.48" height="18.48" fill="#0096ff"/>
<rect x="745.45" y="500.0" width="18.49" height="18.48" fill="#007cff"/>
<rect x="763.64" y="500.0" width="18.48" height="18.48" fill="#006cff"/>
<rect x="781.82" y="500.0" width="18.48" height="18.48" fill="#005cff"/>
<rect x="272.73" y="518.18" width="18.48" height="18.48" fill="#00aaff"/>
<rect x="290.91" y="518.18" width="18.48" height="18.48" fill="#00a3ff"/>
<rect x="309.09" y="518.18" width="18.48" height="18.48" fill="#00b1ff"/>
<rect x="327.27" y="518.18" width="18.48" height="18.48" fill="#00aaff"/>
<rect x="345.45" y="518.18" width="18.49" height="18.48" fill="#00b1ff"/>
<rect x="363.64" y="518.18" width="18.48" height="18.48" fill="#00baff"/>
<rect x="381.82" y="518.18" width="18.48" height="18.48" fill="#00c7ff"/>
<rect x="400.0" y="518.18" width="18.48" height="18.48" fill="#00e2ff"/>
<rect x="418.18" y="518.18" width="18.48" height="18.48" fill="#00f2ff"/>
<rect x="436.36" y="518.18" width="18.49" height="18.48" fill="#00f8ff"/>
<rect x="454.55" y="518.18" width="18.48" height="18.48" fill="#00ffff"/>
<rect x="472.73" y="518.18" width="18.48" height="18.48" fill="#00f2ff"/>
<rect x="490.91" y="518.18" width="18.48" height="18.48" fill="#00fff3"/>
<rect x="509.09" y="518.18" width="18.48" height="18.48" fill="#00ffe6"/>
<rect x="527.27" y="518.18" width="36.67" height="18.48" fill="#00ffd7"/>
<rect x="563.64" y="518.18" width="18.48" height="18.48" fill="#00ffe7"/>
<rect x="581.82" y="518.18" width="18.48" height="18.48" fill="#00fffa"/>
<rect x="600.0" y="518.18" width="18.48" height="18.48" fill="#00f4ff"/>
<rect x="618.18" y="518.18" width="18.48" height="18.48" fill="#00e8ff"/>
<rect x="636.36" y="518.18" width="18.49" height="18.48" fill="#00daff"/>
<rect x="654.55" y="518.18" width="18.48" height="18.48" fill="#00cbff"/>
<rect x="672.73" y="518.18" width="18.48" height="18.48" fill="#00beff"/>
<rect x="690.91" y="518.18" width="18.48" height="18.48" fill="#00b4ff"/>
<rect x="709.09" y="518.18" width="18.48" height="18.48" fill="#00a3ff"/>
<rect x="727.27" y="518.18" width="18.48" height="18.48" fill="#0096ff"/>
<rect x="745.45" y="518.18" width="18.49" height="18.48" fill="#007cff"/>
<rect x="763.64" y="518.18" width="18.48" height="18.48" fill="#0069ff"/>
<rect x="781.82" y="518.18" width="18.48" height="18.48" fill="#005cff"/>
<rect x="254.55" y="536.36" width="18.48" height="18.49" fill="#00ebff"/>
<rect x="272.73" y="536.36" width="18.48" height="18.49" fill="#00ffdb"/>
<rect x="290.91" y="536.36" width="18.48" height="18.49" fill="#00fff3"/>
<rect x="309.09" y="536.36" width="18.48" height="18.49" fill="#00ebff"/>
<rect x="327.27" y="536.36" width="36.67" height="18.49" fill="#00e2ff"/>
<rect x="363.64" y="536.36" width="36.66" height="18.49" fill="#00e5ff"/>
<rect x="400.0" y="536.36" width="18.48" height="18.49" fill="#00f2ff"/>
<rect x="418.18" y="536.36" width="18.48" height="18.49" fill="#00fcff"/>
<rect x="436.36" y="536.36" width="18.49" height="18.49" fill="#00fff9"/>
<rect x="454.55" y="536.36" width="18.48" height="18.49" fill="#00ffed"/>
<rect x="472.73" y="536.36" width="18.48" height="18.49" fill="#00f8ff"/>
<rect x="490.91" y="536.36" width="18.48" height="18.49" fill="#00ffed"/>
<rect x="509.09" y="536.36" width="18.48" height="18.49" fill="#00ffe8"/>
<rect x="527.27" y="536.36" width="18.48" height="18.49" fill="#00ffe2"/>
<rect x="545.45" y="536.36" width="18.49" height="18.49" fill="#00ffeb"/>
<rect x="563.64" y="536.36" width="18.48" height="18.49" fill="#00fcff"/>
<rect x="581.82" y="536.36" width="18.48" height="18.49" fill="#00ebff"/>
<rect x="600.0" y="536.36" width="18.48" height="18.49" fill="#00deff"/>
<rect x="618.18" y="536.36" width="18.48" height="18.49" fill="#00d6ff"/>
<rect x="636.36" y="536.36" width="18.49" height="18.49" fill="#00ceff"/>
<rect x="654.55" y="536.36" width="18.48" height="18.49" fill="#00c4ff"/>
<rect x="672.73" y="536.36" width="18.48" height="18.49" fill="#00baff"/>
<rect x="690.91" y="536.36" width="18.48" height="18.49" fill="#00b1ff"/>
<rect x="709.09" y="536.36" width="18.48" height="18.49" fill="#00a3ff"/>
<rect x="727.27" y="536.36" width="18.48" height="18.49" fill="#0093ff"/>
<rect x="745.45" y="536.36" width="18.49" height="18.49" fill="#007cff"/>
<rect x="763.64" y="536.36" width="18.48" height="18.49" fill="#006cff"/>
<rect x="781.82" y="536.36" width="18.48" height="18.49" fill="#005cff"/>
<rect x="236.36" y="554.55" width="18.49" height="18.48" fill="#00ebff"/>
<rect x="254.55" y="554.55" width="18.48" height="18.48" fill="#00ff98"/>
<rect x="272.73" y="554.55" width="18.48" height="18.48" fill="#00ff6d"/>
<rect x="290.91" y="554.55" width="18.48" height="18.48" fill="#00ff9e"/>
<rect x="309.09" y="554.55" width="18.48" height="18.48" fill="#00ffdb"/>
<rect x="327.27" y="554.55" width="18.48" height="18.48" fill="#00ffe7"/>
<rect x="345.45" y="554.55" width="18.49" height="18.48" fill="#00ffe1"/>
<rect x="363.64" y="554.55" width="18.48" height="18.48" fill="#00ffdb"/>
<rect x="381.82" y="554.55" width="18.48" height="18.48" fill="#00ffed"/>
<rect x="400.0" y="554.55" width="18.48" height="18.48" fill="#00fff9"/>
<rect x="418.18" y="554.55" width="36.67" height="18.48" fill="#00fcff"/>
<rect x="454.55" y="554.55" width="18.48" height="18.48" fill="#00f8ff"/>
<rect x="472.73" y="554.55" width="36.66" height="18.48" fill="#00fcff"/>
<rect x="509.09" y="554.55" width="18.48" height="18.48" fill="#00fffb"/>
<rect x="527.27" y="554.55" width="18.48" height="18.48" fill="#00fff9"/>
<rect x="545.45" y="554.55" width="18.49" height="18.48" fill="#00fbff"/>
<rect x="563.64" y="554.55" width="18.48" height="18.48" fill="#00eaff"/>
<rect x="581.82" y="554.55" width="18.48" height="18.48" fill="#00d7ff"/>
<rect x="600.0" y="554.55" width="18.48" height="18.48" fill="#00cbff"/>
<rect x="618.18" y="554.55" width="18.48" height="18.48" fill="#00c7ff"/>
<rect x="636.36" y="554.55" width="18.49" height="18.48" fill="#00c3ff"/>
<rect x="654.55" y="554.55" width="18.48" height="18.48" fill="#00bdff"/>
<rect x="672.73" y="554.55" width="18.48" height="18.48" fill="#00b4ff"/>
<rect x="690.91" y="554.55" width="18.48" height="18.48" fill="#00aaff"/>
<rect x="709.09" y="554.55" width="18.48" height="18.48" fill="#00a0ff"/>
<rect x="727.27" y="554.55" width="18.48" height="18.48" fill="#0090ff"/>
<rect x="745.45" y="554.55" width="18.49" height="18.48" fill="#007cff"/>
<rect x="763.64" y="554.55" width="18.48" height="18.48" fill="#006fff"/>
<rect x="781.82" y="554.55" width="18.48" height="18.48" fill="#005fff"/>
<rect x="200.0" y="572.73" width="18.48" height="18.48" fill="#00dbff"/>
<rect x="218.18" y="572.73" width="18.48" height="18.48" fill="#00ebff"/>
<rect x="236.36" y="572.73" width="18.49" height="18.48" fill="#00ffbc"/>
<rect x="254.55" y="572.73" width="18.48" height="18.48" fill="#00ff5b"/>
<rect x="272.73" y="572.73" width="18.48" height="18.48" fill="#00ff3d"/>
<rect x="290.91" y="572.73" width="18.48" height="18.48" fill="#00ff86"/>
<rect x="309.09" y="572.73" width="18.48" height="18.48" fill="#00ffbc"/>
<rect x="327.27" y="572.73" width="18.48" height="18.48" fill="#00ffb0"/>
<rect x="345.45" y="572.73" width="36.67" height="18.48" fill="#00ffa4"/>
<rect x="381.82" y="572.73" width="18.48" height="18.48" fill="#00ffce"/>
<rect x="400.0" y="572.73" width="18.48" height="18.48" fill="#00fff9"/>
<rect x="418.18" y="572.73" width="36.67" height="18.48" fill="#00fcff"/>
<rect x="454.55" y="572.73" width="54.84" height="18.48" fill="#00ffff"/>
<rect x="509.09" y="572.73" width="18.48" height="18.48" fill="#00fcff"/>
<rect x="527.27" y="572.73" width="18.48" height="18.48" fill="#00faff"/>
<rect x="545.45" y="572.73" width="18.49" height="18.48" fill="#00f1ff"/>
<rect x="563.64" y="572.73" width="18.48" height="18.48" fill="#00e2ff"/>
<rect x="581.82" y="572.73" width="18.48" height="18.48" fill="#00d0ff"/>
<rect x="600.0" y="572.73" width="18.48" height="18.48" fill="#00c5ff"/>
<rect x="618.18" y="572.73" width="18.48" height="18.48" fill="#00c1ff"/>
<rect x="636.36" y="572.73" width="18.49" height="18.48" fill="#00beff"/>
<rect x="654.55" y="572.73" width="18.48" height="18.48" fill="#00b9ff"/>
<rect x="672.73" y="572.73" width="18.48" height="18.48" fill="#00b4ff"/>
<rect x="690.91" y="572.73" width="18.48" height="18.48" fill="#00aaff"/>
<rect x="709.09" y="572.73" width="18.48" height="18.48" fill="#00a0ff"/>
<rect x="727.27" y="572.73" width="18.48" height="18.48" fill="#0090ff"/>
<rect x="745.45" y="572.73" width="18.49" height="18.48" fill="#007cff"/>
<rect x="763.64" y="572.73" width="18.48" height="18.48" fill="#006fff"/>
<rect x="781.82" y="572.73" width="18.48" height="18.48" fill="#005fff"/>
<rect x="127.27" y="590.91" width="18.48" height="18.48" fill="#0079ff"/>
<rect x="145.45" y="590.91" width="18.49" height="18.48" fill="#0090ff"/>
<rect x="163.64" y="590.91" width="18.48" height="18.48" fill="#00a3ff"/>
<rect x="181.82" y="590.91" width="18.48" height="18.48" fill="#00b1ff"/>
<rect x="200.0" y="590.91" width="18.48" height="18.48" fill="#00adff"/>
<rect x="218.18" y="590.91" width="18.48" height="18.48" fill="#00d8ff"/>
<rect x="236.36" y="590.91" width="18.49" height="18.48" fill="#00f8ff"/>
<rect x="254.55" y="590.91" width="18.48" height="18.48" fill="#00ffdb"/>
<rect x="272.73" y="590.91" width="18.48" height="18.48" fill="#00ffd4"/>
<rect x="290.91" y="590.91" width="18.48" height="18.48" fill="#00ffe1"/>
<rect x="309.09" y="590.91" width="18.48" height="18.48" fill="#00fff9"/>
<rect x="327.27" y="590.91" width="18.48" height="18.48" fill="#00ffed"/>
<rect x="345.45" y="590.91" width="18.49" height="18.48" fill="#00ffc2"/>
<rect x="363.64" y="590.91" width="18.48" height="18.48" fill="#00ffaa"/>
<rect x="381.82" y="590.91" width="18.48" height="18.48" fill="#00ffb6"/>
<rect x="400.0" y="590.91" width="18.48" height="18.48" fill="#00ffe1"/>
<rect x="418.18" y="590.91" width="18.48" height="18.48" fill="#00ffff"/>
<rect x="436.36" y="590.91" width="73.03" height="18.48" fill="#00f8ff"/>
<rect x="509.09" y="590.91" width="36.66" height="18.48" fill="#00f7ff"/>
<rect x="545.45" y="590.91" width="18.49" height="18.48" fill="#00f0ff"/>
<rect x="563.64" y="590.91" width="18.48" height="18.48" fill="#00e3ff"/>
<rect x="581.82" y="590.91" width="18.48" height="18.48" fill="#00d4ff"/>
<rect x="600.0" y="590.91" width="18.48" height="18.48" fill="#00c8ff"/>
<rect x="618.18" y="590.91" width="18.48" height="18.48" fill="#00c3ff"/>
<rect x="636.36" y="590.91" width="18.49" height="18.48" fill="#00beff"/>
<rect x="654.55" y="590.91" width="18.48" height="18.48" fill="#00b8ff"/>
<rect x="672.73" y="590.91" width="18.48" height="18.48" fill="#00adff"/>
<rect x="690.91" y="590.91" width="18.48" height="18.48" fill="#00a3ff"/>
<rect x="709.09" y="590.91" width="18.48" height="18.48" fill="#009dff"/>
<rect x="727.27" y="590.91" width="18.48" height="18.48" fill="#008dff"/>
<rect x="745.45" y="590.91" width="18.49" height="18.48" fill="#007cff"/>
<rect x="763.64" y="590.91" width="18.48" height="18.48" fill="#0072ff"/>
<rect x="781.82" y="590.91" width="18.48" height="18.48" fill="#006cff"/>
<rect x="18.18" y="609.09" width="18.48" height="18.48" fill="#0045ff"/>
<rect x="36.36" y="609.09" width="18.49" height="18.48" fill="#0038ff"/>
<rect x="54.55" y="609.09" width="18.48" height="18.48" fill="#002bff"/>
<rect x="72.73" y="609.09" width="18.48" height="18.48" fill="#0024ff"/>
<rect x="90.91" y="609.09" width="18.48" height="18.48" fill="#0027ff"/>
<rect x="109.09" y="609.09" width="18.48" height="18.48" fill="#0031ff"/>
<rect x="127.27" y="609.09" width="18.48" height="18.48" fill="#0041ff"/>
<rect x="145.45" y="609.09" width="18.49" height="18.48" fill="#004eff"/>
<rect x="163.64" y="609.09" width="18.48" height="18.48" fill="#005fff"/>
<rect x="181.82" y="609.09" width="18.48" height="18.48" fill="#0065ff"/>
<rect x="200.0" y="609.09" width="18.48" height="18.48" fill="#0072ff"/>
<rect x="218.18" y="609.09" width="18.48" height="18.48" fill="#0096ff"/>
<rect x="236.36" y="609.09" width="18.49" height="18.48" fill="#00adff"/>
<rect x="254.55" y="609.09" width="18.48" height="18.48" fill="#00beff"/>
<rect x="272.73" y="609.09" width="18.48" height="18.48" fill="#00c1ff"/>
<rect x="290.91" y="609.09" width="18.48" height="18.48" fill="#00beff"/>
<rect x="309.09" y="609.09" width="18.48" height="18.48" fill="#00d1ff"/>
<rect x="327.27" y="609.09" width="18.48" height="18.48" fill="#00deff"/>
<rect x="345.45" y="609.09" width="18.49" height="18.48" fill="#00efff"/>
<rect x="363.64" y="609.09" width="18.48" height="18.48" fill="#00f5ff"/>
<rect x="381.82" y="609.09" width="36.66" height="18.48" fill="#00f8ff"/>
<rect x="418.18" y="609.09" width="18.48" height="18.48" fill="#00f2ff"/>
<rect x="436.36" y="609.09" width="54.85" height="18.48" fill="#00e5ff"/>
<rect x="490.91" y="609.09" width="18.48" height="18.48" fill="#00ebff"/>
<rect x="509.09" y="609.09" width="18.48" height="18.48" fill="#00f1ff"/>
<rect x="527.27" y="609.09" width="18.48" height="18.48" fill="#00f5ff"/>
<rect x="545.45" y="609.09" width="18.49" height="18.48" fill="#00f3ff"/>
<rect x="563.64" y="609.09" width="18.48" height="18.48" fill="#00ebff"/>
<rect x="581.82" y="609.09" width="18.48" height="18.48" fill="#00dfff"/>
<rect x="600.0" y="609.09" width="18.48" height="18.48" fill="#00d3ff"/>
<rect x="618.18" y="609.09" width="18.48" height="18.48" fill="#00cbff"/>
<rect x="636.36" y="609.09" width="18.49" height="18.48" fill="#00c5ff"/>
<rect x="654.55" y="609.09" width="18.48" height="18.48" fill="#00bdff"/>
<rect x="672.73" y="609.09" width="18.48" height="18.48" fill="#00b1ff"/>
<rect x="690.91" y="609.09" width="18.48" height="18.48" fill="#00a3ff"/>
<rect x="709.09" y="609.09" width="18.48" height="18.48" fill="#00a0ff"/>
<rect x="727.27" y="609.09" width="18.48" height="18.48" fill="#0090ff"/>
<rect x="745.45" y="609.09" width="18.49" height="18.48" fill="#0083ff"/>
<rect x="763.64" y="609.09" width="18.48" height="18.48" fill="#0079ff"/>
<rect x="781.82" y="609.09" width="18.48" height="18.48" fill="#0072ff"/>
<rect x="0.0" y="627.27" width="18.48" height="18.48" fill="#0079ff"/>
<rect x="18.18" y="627.27" width="18.48" height="18.48" fill="#004bff"/>
<rect x="36.36" y="627.27" width="18.49" height="18.48" fill="#003bff"/>
<rect x="54.55" y="627.27" width="18.48" height="18.48" fill="#002bff"/>
<rect x="72.73" y="627.27" width="54.84" height="18.48" fill="#002eff"/>
<rect x="127.27" y="627.27" width="18.48" height="18.48" fill="#0031ff"/>
<rect x="145.45" y="627.27" width="18.49" height="18.48" fill="#003bff"/>
<rect x="163.64" y="627.27" width="18.48" height="18.48" fill="#0041ff"/>
<rect x="181.82" y="627.27" width="18.48" height="18.48" fill="#003bff"/>
<rect x="200.0" y="627.27" width="18.48" height="18.48" fill="#0041ff"/>
<rect x="218.18" y="627.27" width="18.48" height="18.48" fill="#005fff"/>
<rect x="236.36" y="627.27" width="18.49" height="18.48" fill="#0079ff"/>
<rect x="254.55" y="627.27" width="18.48" height="18.48" fill="#0090ff"/>
<rect x="272.73" y="627.27" width="18.48" height="18.48" fill="#00a0ff"/>
<rect x="290.91" y="627.27" width="18.48" height="18.48" fill="#00b4ff"/>
<rect x="309.09" y="627.27" width="18.48" height="18.48" fill="#00baff"/>
<rect x="327.27" y="627.27" width="18.48" height="18.48" fill="#00deff"/>
<rect x="345.45" y="627.27" width="18.49" height="18.48" fill="#00efff"/>
<rect x="363.64" y="627.27" width="36.66" height="18.48" fill="#00f8ff"/>
<rect x="400.0" y="627.27" width="18.48" height="18.48" fill="#00e8ff"/>
<rect x="418.18" y="627.27" width="18.48" height="18.48" fill="#00e5ff"/>
<rect x="436.36" y="627.27" width="18.49" height="18.48" fill="#00deff"/>
<rect x="454.55" y="627.27" width="36.66" height="18.48" fill="#00dbff"/>
<rect x="490.91" y="627.27" width="18.48" height="18.48" fill="#00deff"/>
<rect x="509.09" y="627.27" width="18.48" height="18.48" fill="#00e9ff"/>
<rect x="527.27" y="627.27" width="18.48" height="18.48" fill="#00f4ff"/>
<rect x="545.45" y="627.27" width="18.49" height="18.48" fill="#00f8ff"/>
<rect x="563.64" y="627.27" width="18.48" height="18.48" fill="#00f5ff"/>
<rect x="581.82" y="627.27" width="18.48" height="18.48" fill="#00ecff"/>
<rect x="600.0" y="627.27" width="18.48" height="18.48" fill="#00e1ff"/>
<rect x="618.18" y="627.27" width="18.48" height="18.48" fill="#00daff"/>
<rect x="636.36" y="627.27" width="18.49" height="18.48" fill="#00d3ff"/>
<rect x="654.55" y="627.27" width="18.48" height="18.48" fill="#00caff"/>
<rect x="672.73" y="627.27" width="18.48" height="18.48" fill="#00c1ff"/>
<rect x="690.91" y="627.27" width="18.48" height="18.48" fill="#00b7ff"/>
<rect x="709.09" y="627.27" width="18.48" height="18.48" fill="#00aaff"/>
<rect x="727.27" y="627.27" width="18.48" height="18.48" fill="#009dff"/>
<rect x="745.45" y="627.27" width="18.49" height="18.48" fill="#0090ff"/>
<rect x="763.64" y="627.27" width="18.48" height="18.48" fill="#0086ff"/>
<rect x="781.82" y="627.27" width="18.48" height="18.48" fill="#0080ff"/>
<rect x="0.0" y="645.45" width="18.48" height="18.49" fill="#0083ff"/>
<rect x="18.18" y="645.45" width="18.48" height="18.49" fill="#004eff"/>
<rect x="36.36" y="645.45" width="18.49" height="18.49" fill="#003eff"/>
<rect x="54.55" y="645.45" width="18.48" height="18.49" fill="#002eff"/>
<rect x="72.73" y="645.45" width="18.48" height="18.49" fill="#0038ff"/>
<rect x="90.91" y="645.45" width="18.48" height="18.49" fill="#0031ff"/>
<rect x="109.09" y="645.45" width="36.66" height="18.49" fill="#002eff"/>
<rect x="145.45" y="645.45" width="18.49" height="18.49" fill="#0031ff"/>
<rect x="163.64" y="645.45" width="18.48" height="18.49" fill="#0027ff"/>
<rect x="181.82" y="645.45" width="18.48" height="18.49" fill="#001dff"/>
<rect x="200.0" y="645.45" width="18.48" height="18.49" fill="#0024ff"/>
<rect x="218.18" y="645.45" width="18.48" height="18.49" fill="#0041ff"/>
<rect x="236.36" y="645.45" width="18.49" height="18.49" fill="#0058ff"/>
<rect x="254.55" y="645.45" width="18.48" height="18.49" fill="#0079ff"/>
<rect x="272.73" y="645.45" width="18.48" height="18.49" fill="#0090ff"/>
<rect x="290.91" y="645.45" width="18.48" height="18.49" fill="#00a7ff"/>
<rect x="309.09" y="645.45" width="18.48" height="18.49" fill="#00b1ff"/>
<rect x="327.27" y="645.45" width="18.48" height="18.49" fill="#00ceff"/>
<rect x="345.45" y="645.45" width="18.49" height="18.49" fill="#00deff"/>
<rect x="363.64" y="645.45" width="36.66" height="18.49" fill="#00e5ff"/>
<rect x="400.0" y="645.45" width="18.48" height="18.49" fill="#00d8ff"/>
<rect x="418.18" y="645.45" width="18.48" height="18.49" fill="#00d4ff"/>
<rect x="436.36" y="645.45" width="18.49" height="18.49" fill="#00ceff"/>
<rect x="454.55" y="645.45" width="36.66" height="18.49" fill="#00cbff"/>
<rect x="490.91" y="645.45" width="18.48" height="18.49" fill="#00d1ff"/>
<rect x="509.09" y="645.45" width="18.48" height="18.49" fill="#00deff"/>
<rect x="527.27" y="645.45" width="18.48" height="18.49" fill="#00f5ff"/>
<rect x="545.45" y="645.45" width="18.49" height="18.49" fill="#00ffff"/>
<rect x="563.64" y="645.45" width="18.48" height="18.49" fill="#00fcff"/>
<rect x="581.82" y="645.45" width="18.48" height="18.49" fill="#00f5ff"/>
<rect x="600.0" y="645.45" width="18.48" height="18.49" fill="#00ebff"/>
<rect x="618.18" y="645.45" width="18.48" height="18.49" fill="#00e8ff"/>
<rect x="636.36" y="645.45" width="18.49" height="18.49" fill="#00e2ff"/>
<rect x="654.55" y="645.45" width="18.48" height="18.49" fill="#00d8ff"/>
<rect x="672.73" y="645.45" width="18.48" height="18.49" fill="#00ceff"/>
<rect x="690.91" y="645.45" width="18.48" height="18.49" fill="#00c4ff"/>
<rect x="709.09" y="645.45" width="18.48" height="18.49" fill="#00baff"/>
<rect x="727.27" y="645.45" width="18.48" height="18.49" fill="#00b1ff"/>
<rect x="745.45" y="645.45" width="18.49" height="18.49" fill="#00a3ff"/>
<rect x="763.64" y="645.45" width="18.48" height="18.49" fill="#009aff"/>
<rect x="781.82" y="645.45" width="18.48" height="18.49" fill="#0090ff"/>
<rect x="0.0" y="663.64" width="18.48" height="18.48" fill="#0086ff"/>
<rect x="18.18" y="663.64" width="18.48" height="18.48" fill="#0055ff"/>
<rect x="36.36" y="663.64" width="18.49" height="18.48" fill="#0045ff"/>
<rect x="54.55" y="663.64" width="18.48" height="18.48" fill="#0034ff"/>
<rect x="72.73" y="663.64" width="18.48" height="18.48" fill="#0038ff"/>
<rect x="90.91" y="663.64" width="18.48" height="18.48" fill="#0031ff"/>
<rect x="109.09" y="663.64" width="18.48" height="18.48" fill="#002eff"/>
<rect x="127.27" y="663.64" width="36.67" height="18.48" fill="#0027ff"/>
<rect x="163.64" y="663.64" width="18.48" height="18.48" fill="#001dff"/>
<rect x="181.82" y="663.64" width="18.48" height="18.48" fill="#0014ff"/>
<rect x="200.0" y="663.64" width="18.48" height="18.48" fill="#001aff"/>
<rect x="218.18" y="663.64" width="18.48" height="18.48" fill="#0031ff"/>
<rect x="236.36" y="663.64" width="18.49" height="18.48" fill="#0045ff"/>
<rect x="254.55" y="663.64" width="18.48" height="18.48" fill="#0065ff"/>
<rect x="272.73" y="663.64" width="18.48" height="18.48" fill="#0083ff"/>
<rect x="290.91" y="663.64" width="18.48" height="18.48" fill="#0096ff"/>
<rect x="309.09" y="663.64" width="18.48" height="18.48" fill="#00a0ff"/>
<rect x="327.27" y="663.64" width="18.48" height="18.48" fill="#00adff"/>
<rect x="345.45" y="663.64" width="18.49" height="18.48" fill="#00b7ff"/>
<rect x="363.64" y="663.64" width="36.66" height="18.48" fill="#00beff"/>
<rect x="400.0" y="663.64" width="18.48" height="18.48" fill="#00cbff"/>
<rect x="418.18" y="663.64" width="18.48" height="18.48" fill="#00c7ff"/>
<rect x="436.36" y="663.64" width="18.49" height="18.48" fill="#00c1ff"/>
<rect x="454.55" y="663.64" width="36.66" height="18.48" fill="#00beff"/>
<rect x="490.91" y="663.64" width="18.48" height="18.48" fill="#00c7ff"/>
<rect x="509.09" y="663.64" width="18.48" height="18.48" fill="#00d8ff"/>
<rect x="527.27" y="663.64" width="18.48" height="18.48" fill="#00f2ff"/>
<rect x="545.45" y="663.64" width="36.67" height="18.48" fill="#00ffff"/>
<rect x="581.82" y="663.64" width="18.48" height="18.48" fill="#00fcff"/>
<rect x="600.0" y="663.64" width="18.48" height="18.48" fill="#00f5ff"/>
<rect x="618.18" y="663.64" width="18.48" height="18.48" fill="#00f2ff"/>
<rect x="636.36" y="663.64" width="18.49" height="18.48" fill="#00ebff"/>
<rect x="654.55" y="663.64" width="18.48" height="18.48" fill="#00e5ff"/>
<rect x="672.73" y="663.64" width="18.48" height="18.48" fill="#00dbff"/>
<rect x="690.91" y="663.64" width="18.48" height="18.48" fill="#00d1ff"/>
<rect x="709.09" y="663.64" width="18.48" height="18.48" fill="#00cbff"/>
<rect x="727.27" y="663.64" width="18.48" height="18.48" fill="#00c1ff"/>
<rect x="745.45" y="663.64" width="18.49" height="18.48" fill="#00b7ff"/>
<rect x="763.64" y="663.64" width="18.48" height="18.48" fill="#00b1ff"/>
<rect x="781.82" y="663.64" width="18.48" height="18.48" fill="#00aaff"/>
<rect x="0.0" y="681.82" width="18.48" height="18.48" fill="#008dff"/>
<rect x="18.18" y="681.82" width="18.48" height="18.48" fill="#005fff"/>
<rect x="36.36" y="681.82" width="18.49" height="18.48" fill="#004eff"/>
<rect x="54.55" y="681.82" width="18.48" height="18.48" fill="#003eff"/>
<rect x="72.73" y="681.82" width="18.48" height="18.48" fill="#003bff"/>
<rect x="90.91" y="681.82" width="18.48" height="18.48" fill="#0038ff"/>
<rect x="109.09" y="681.82" width="18.48" height="18.48" fill="#0031ff"/>
<rect x="127.27" y="681.82" width="18.48" height="18.48" fill="#0027ff"/>
<rect x="145.45" y="681.82" width="18.49" height="18.48" fill="#0024ff"/>
<rect x="163.64" y="681.82" width="18.48" height="18.48" fill="#001dff"/>
<rect x="181.82" y="681.82" width="36.66" height="18.48" fill="#0014ff"/>
<rect x="218.18" y="681.82" width="18.48" height="18.48" fill="#0027ff"/>
<rect x="236.36" y="681.82" width="18.49" height="18.48" fill="#0038ff"/>
<rect x="254.55" y="681.82" width="18.48" height="18.48" fill="#004eff"/>
<rect x="272.73" y="681.82" width="18.48" height="18.48" fill="#0069ff"/>
<rect x="290.91" y="681.82" width="18.48" height="18.48" fill="#007cff"/>
<rect x="309.09" y="681.82" width="18.48" height="18.48" fill="#0089ff"/>
<rect x="327.27" y="681.82" width="18.48" height="18.48" fill="#009dff"/>
<rect x="345.45" y="681.82" width="18.49" height="18.48" fill="#00a3ff"/>
<rect x="363.64" y="681.82" width="18.48" height="18.48" fill="#00aaff"/>
<rect x="381.82" y="681.82" width="36.66" height="18.48" fill="#00adff"/>
<rect x="418.18" y="681.82" width="18.48" height="18.48" fill="#00a7ff"/>
<rect x="436.36" y="681.82" width="18.49" height="18.48" fill="#009aff"/>
<rect x="454.55" y="681.82" width="18.48" height="18.48" fill="#0096ff"/>
<rect x="472.73" y="681.82" width="18.48" height="18.48" fill="#009aff"/>
<rect x="490.91" y="681.82" width="18.48" height="18.48" fill="#00aaff"/>
<rect x="509.09" y="681.82" width="18.48" height="18.48" fill="#00d1ff"/>
<rect x="527.27" y="681.82" width="18.48" height="18.48" fill="#00f2ff"/>
<rect x="545.45" y="681.82" width="18.49" height="18.48" fill="#00ffed"/>
<rect x="563.64" y="681.82" width="18.48" height="18.48" fill="#00ffe7"/>
<rect x="581.82" y="681.82" width="18.48" height="18.48" fill="#00ffed"/>
<rect x="600.0" y="681.82" width="18.48" height="18.48" fill="#00fff3"/>
<rect x="618.18" y="681.82" width="18.48" height="18.48" fill="#00ffff"/>
<rect x="636.36" y="681.82" width="18.49" height="18.48" fill="#00f8ff"/>
<rect x="654.55" y="681.82" width="18.48" height="18.48" fill="#00f2ff"/>
<rect x="672.73" y="681.82" width="18.48" height="18.48" fill="#00e8ff"/>
<rect x="690.91" y="681.82" width="18.48" height="18.48" fill="#00e2ff"/>
<rect x="709.09" y="681.82" width="18.48" height="18.48" fill="#00dbff"/>
<rect x="727.27" y="681.82" width="18.48" height="18.48" fill="#00d4ff"/>
<rect x="745.45" y="681.82" width="18.49" height="18.48" fill="#00ceff"/>
<rect x="763.64" y="681.82" width="18.48" height="18.48" fill="#00c7ff"/>
<rect x="781.82" y="681.82" width="18.48" height="18.48" fill="#00c4ff"/>
<rect x="0.0" y="700.0" width="18.48" height="18.48" fill="#0096ff"/>
<rect x="18.18" y="700.0" width="18.48" height="18.48" fill="#0069ff"/>
<rect x="36.36" y="700.0" width="18.49" height="18.48" fill="#0058ff"/>
<rect x="54.55" y="700.0" width="18.48" height="18.48" fill="#0048ff"/>
<rect x="72.73" y="700.0" width="18.48" height="18.48" fill="#0045ff"/>
<rect x="90.91" y="700.0" width="18.48" height="18.48" fill="#003bff"/>
<rect x="109.09" y="700.0" width="18.48" height="18.48" fill="#0031ff"/>
<rect x="127.27" y="700.0" width="18.48" height="18.48" fill="#0027ff"/>
<rect x="145.45" y="700.0" width="36.67" height="18.48" fill="#001dff"/>
<rect x="181.82" y="700.0" width="36.66" height="18.48" fill="#001aff"/>
<rect x="218.18" y="700.0" width="18.48" height="18.48" fill="#0024ff"/>
<rect x="236.36" y="700.0" width="18.49" height="18.48" fill="#0027ff"/>
<rect x="254.55" y="700.0" width="18.48" height="18.48" fill="#003bff"/>
<rect x="272.73" y="700.0" width="18.48" height="18.48" fill="#004eff"/>
<rect x="290.91" y="700.0" width="18.48" height="18.48" fill="#0065ff"/>
<rect x="309.09" y="700.0" width="18.48" height="18.48" fill="#0072ff"/>
<rect x="327.27" y="700.0" width="18.48" height="18.48" fill="#0083ff"/>
<rect x="345.45" y="700.0" width="18.49" height="18.48" fill="#008dff"/>
<rect x="363.64" y="700.0" width="18.48" height="18.48" fill="#0090ff"/>
<rect x="381.82" y="700.0" width="18.48" height="18.48" fill="#0093ff"/>
<rect x="400.0" y="700.0" width="18.48" height="18.48" fill="#0096ff"/>
<rect x="418.18" y="700.0" width="18.48" height="18.48" fill="#0093ff"/>
<rect x="436.36" y="700.0" width="18.49" height="18.48" fill="#0090ff"/>
<rect x="454.55" y="700.0" width="18.48" height="18.48" fill="#0096ff"/>
<rect x="472.73" y="700.0" width="18.48" height="18.48" fill="#00a0ff"/>
<rect x="490.91" y="700.0" width="18.48" height="18.48" fill="#00b4ff"/>
<rect x="509.09" y="700.0" width="18.48" height="18.48" fill="#00dbff"/>
<rect x="527.27" y="700.0" width="18.48" height="18.48" fill="#00ffe7"/>
<rect x="545.45" y="700.0" width="18.49" height="18.48" fill="#00ffc2"/>
<rect x="563.64" y="700.0" width="18.48" height="18.48" fill="#00ffbc"/>
<rect x="581.82" y="700.0" width="18.48" height="18.48" fill="#00ffc8"/>
<rect x="600.0" y="700.0" width="18.48" height="18.48" fill="#00ffd4"/>
<rect x="618.18" y="700.0" width="18.48" height="18.48" fill="#00ffe7"/>
<rect x="636.36" y="700.0" width="18.49" height="18.48" fill="#00fff9"/>
<rect x="654.55" y="700.0" width="18.48" height="18.48" fill="#00fcff"/>
<rect x="672.73" y="700.0" width="18.48" height="18.48" fill="#00f5ff"/>
<rect x="690.91" y="700.0" width="18.48" height="18.48" fill="#00efff"/>
<rect x="709.09" y="700.0" width="18.48" height="18.48" fill="#00ebff"/>
<rect x="727.27" y="700.0" width="18.48" height="18.48" fill="#00e5ff"/>
<rect x="745.45" y="700.0" width="18.49" height="18.48" fill="#00e2ff"/>
<rect x="763.64" y="700.0" width="18.48" height="18.48" fill="#00deff"/>
<rect x="781.82" y="700.0" width="18.48" height="18.48" fill="#00dbff"/>
<rect x="0.0" y="718.18" width="18.48" height="18.48" fill="#00a3ff"/>
<rect x="18.18" y="718.18" width="18.48" height="18.48" fill="#0079ff"/>
<rect x="36.36" y="718.18" width="18.49" height="18.48" fill="#0065ff"/>
<rect x="54.55" y="718.18" width="18.48" height="18.48" fill="#0055ff"/>
<rect x="72.73" y="718.18" width="18.48" height="18.48" fill="#004eff"/>
<rect x="90.91" y="718.18" width="18.48" height="18.48" fill="#0045ff"/>
<rect x="109.09" y="718.18" width="18.48" height="18.48" fill="#0038ff"/>
<rect x="127.27" y="718.18" width="18.48" height="18.48" fill="#0024ff"/>
<rect x="145.45" y="718.18" width="18.49" height="18.48" fill="#001aff"/>
<rect x="163.64" y="718.18" width="18.48" height="18.48" fill="#001dff"/>
<rect x="181.82" y="718.18" width="18.48" height="18.48" fill="#0024ff"/>
<rect x="200.0" y="718.18" width="18.48" height="18.48" fill="#0027ff"/>
<rect x="218.18" y="718.18" width="36.67" height="18.48" fill="#0031ff"/>
<rect x="254.55" y="718.18" width="18.48" height="18.48" fill="#0045ff"/>
<rect x="272.73" y="718.18" width="18.48" height="18.48" fill="#0055ff"/>
<rect x="290.91" y="718.18" width="18.48" height="18.48" fill="#0065ff"/>
<rect x="309.09" y="718.18" width="18.48" height="18.48" fill="#0072ff"/>
<rect x="327.27" y="718.18" width="18.48" height="18.48" fill="#007cff"/>
<rect x="345.45" y="718.18" width="18.49" height="18.48" fill="#0086ff"/>
<rect x="363.64" y="718.18" width="18.48" height="18.48" fill="#008dff"/>
<rect x="381.82" y="718.18" width="18.48" height="18.48" fill="#0090ff"/>
<rect x="400.0" y="718.18" width="18.48" height="18.48" fill="#0096ff"/>
<rect x="418.18" y="718.18" width="18.48" height="18.48" fill="#009aff"/>
<rect x="436.36" y="718.18" width="18.49" height="18.48" fill="#00aaff"/>
<rect x="454.55" y="718.18" width="18.48" height="18.48" fill="#00baff"/>
<rect x="472.73" y="718.18" width="18.48" height="18.48" fill="#00c7ff"/>
<rect x="490.91" y="718.18" width="18.48" height="18.48" fill="#00d8ff"/>
<rect x="509.09" y="718.18" width="18.48" height="18.48" fill="#00f5ff"/>
<rect x="527.27" y="718.18" width="18.48" height="18.48" fill="#00ffbc"/>
<rect x="545.45" y="718.18" width="36.67" height="18.48" fill="#00ffaa"/>
<rect x="581.82" y="718.18" width="18.48" height="18.48" fill="#00ffbc"/>
<rect x="600.0" y="718.18" width="18.48" height="18.48" fill="#00ffce"/>
<rect x="618.18" y="718.18" width="18.48" height="18.48" fill="#00ffdb"/>
<rect x="636.36" y="718.18" width="18.49" height="18.48" fill="#00ffed"/>
<rect x="654.55" y="718.18" width="18.48" height="18.48" fill="#00fff9"/>
<rect x="672.73" y="718.18" width="18.48" height="18.48" fill="#00fcff"/>
<rect x="690.91" y="718.18" width="36.66" height="18.48" fill="#00f8ff"/>
<rect x="727.27" y="718.18" width="36.67" height="18.48" fill="#00f5ff"/>
<rect x="763.64" y="718.18" width="36.66" height="18.48" fill="#00f2ff"/>
<rect x="0.0" y="736.36" width="18.48" height="18.49" fill="#00b4ff"/>
<rect x="18.18" y="736.36" width="18.48" height="18.49" fill="#0086ff"/>
<rect x="36.36" y="736.36" width="18.49" height="18.49" fill="#0072ff"/>
<rect x="54.55" y="736.36" width="18.48" height="18.49" fill="#0062ff"/>
<rect x="72.73" y="736.36" width="18.48" height="18.49" fill="#005fff"/>
<rect x="90.91" y="736.36" width="18.48" height="18.49" fill="#0055ff"/>
<rect x="109.09" y="736.36" width="18.48" height="18.49" fill="#0041ff"/>
<rect x="127.27" y="736.36" width="18.48" height="18.49" fill="#002eff"/>
<rect x="145.45" y="736.36" width="18.49" height="18.49" fill="#0024ff"/>
<rect x="163.64" y="736.36" width="18.48" height="18.49" fill="#002eff"/>
<rect x="181.82" y="736.36" width="18.48" height="18.49" fill="#003bff"/>
<rect x="200.0" y="736.36" width="18.48" height="18.49" fill="#0041ff"/>
<rect x="218.18" y="736.36" width="18.48" height="18.49" fill="#0045ff"/>
<rect x="236.36" y="736.36" width="18.49" height="18.49" fill="#004bff"/>
<rect x="254.55" y="736.36" width="18.48" height="18.49" fill="#005cff"/>
<rect x="272.73" y="736.36" width="18.48" height="18.49" fill="#0069ff"/>
<rect x="290.91" y="736.36" width="18.48" height="18.49" fill="#0072ff"/>
<rect x="309.09" y="736.36" width="18.48" height="18.49" fill="#007cff"/>
<rect x="327.27" y="736.36" width="18.48" height="18.49" fill="#0086ff"/>
<rect x="345.45" y="736.36" width="18.49" height="18.49" fill="#0090ff"/>
<rect x="363.64" y="736.36" width="18.48" height="18.49" fill="#0096ff"/>
<rect x="381.82" y="736.36" width="18.48" height="18.49" fill="#009dff"/>
<rect x="400.0" y="736.36" width="18.48" height="18.49" fill="#00a3ff"/>
<rect x="418.18" y="736.36" width="18.48" height="18.49" fill="#00b1ff"/>
<rect x="436.36" y="736.36" width="18.49" height="18.49" fill="#00c7ff"/>
<rect x="454.55" y="736.36" width="18.48" height="18.49" fill="#00dbff"/>
<rect x="472.73" y="736.36" width="18.48" height="18.49" fill="#00e8ff"/>
<rect x="490.91" y="736.36" width="18.48" height="18.49" fill="#00f2ff"/>
<rect x="509.09" y="736.36" width="18.48" height="18.49" fill="#00fff9"/>
<rect x="527.27" y="736.36" width="18.48" height="18.49" fill="#00ffb6"/>
<rect x="545.45" y="736.36" width="18.49" height="18.49" fill="#00ffa4"/>
<rect x="563.64" y="736.36" width="18.48" height="18.49" fill="#00ffaa"/>
<rect x="581.82" y="736.36" width="18.48" height="18.49" fill="#00ffbc"/>
<rect x="600.0" y="736.36" width="18.48" height="18.49" fill="#00ffc8"/>
<rect x="618.18" y="736.36" width="18.48" height="18.49" fill="#00ffce"/>
<rect x="636.36" y="736.36" width="18.49" height="18.49" fill="#00ffdb"/>
<rect x="654.55" y="736.36" width="18.48" height="18.49" fill="#00ffe7"/>
<rect x="672.73" y="736.36" width="18.48" height="18.49" fill="#00ffed"/>
<rect x="690.91" y="736.36" width="54.84" height="18.49" fill="#00fff3"/>
<rect x="745.45" y="736.36" width="18.49" height="18.49" fill="#00ffed"/>
<rect x="763.64" y="736.36" width="36.66" height="18.49" fill="#00ffe7"/>
<rect x="0.0" y="754.55" width="18.48" height="18.48" fill="#00c4ff"/>
<rect x="18.18" y="754.55" width="18.48" height="18.48" fill="#009aff"/>
<rect x="36.36" y="754.55" width="18.49" height="18.48" fill="#0083ff"/>
<rect x="54.55" y="754.55" width="18.48" height="18.48" fill="#006fff"/>
<rect x="72.73" y="754.55" width="18.48" height="18.48" fill="#0072ff"/>
<rect x="90.91" y="754.55" width="18.48" height="18.48" fill="#0065ff"/>
<rect x="109.09" y="754.55" width="18.48" height="18.48" fill="#005cff"/>
<rect x="127.27" y="754.55" width="18.48" height="18.48" fill="#004eff"/>
<rect x="145.45" y="754.55" width="18.49" height="18.48" fill="#0045ff"/>
<rect x="163.64" y="754.55" width="18.48" height="18.48" fill="#004bff"/>
<rect x="181.82" y="754.55" width="18.48" height="18.48" fill="#0055ff"/>
<rect x="200.0" y="754.55" width="18.48" height="18.48" fill="#005cff"/>
<rect x="218.18" y="754.55" width="36.67" height="18.48" fill="#005fff"/>
<rect x="254.55" y="754.55" width="18.48" height="18.48" fill="#006fff"/>
<rect x="272.73" y="754.55" width="18.48" height="18.48" fill="#007cff"/>
<rect x="290.91" y="754.55" width="18.48" height="18.48" fill="#0086ff"/>
<rect x="309.09" y="754.55" width="18.48" height="18.48" fill="#0096ff"/>
<rect x="327.27" y="754.55" width="18.48" height="18.48" fill="#00a3ff"/>
<rect x="345.45" y="754.55" width="18.49" height="18.48" fill="#00b1ff"/>
<rect x="363.64" y="754.55" width="18.48" height="18.48" fill="#00baff"/>
<rect x="381.82" y="754.55" width="18.48" height="18.48" fill="#00beff"/>
<rect x="400.0" y="754.55" width="18.48" height="18.48" fill="#00c4ff"/>
<rect x="418.18" y="754.55" width="18.48" height="18.48" fill="#00ceff"/>
<rect x="436.36" y="754.55" width="18.49" height="18.48" fill="#00e2ff"/>
<rect x="454.55" y="754.55" width="18.48" height="18.48" fill="#00efff"/>
<rect x="472.73" y="754.55" width="18.48" height="18.48" fill="#00f8ff"/>
<rect x="490.91" y="754.55" width="18.48" height="18.48" fill="#00ffff"/>
<rect x="509.09" y="754.55" width="18.48" height="18.48" fill="#00ffe1"/>
<rect x="527.27" y="754.55" width="18.48" height="18.48" fill="#00ffb6"/>
<rect x="545.45" y="754.55" width="18.49" height="18.48" fill="#00ffa4"/>
<rect x="563.64" y="754.55" width="18.48" height="18.48" fill="#00ffaa"/>
<rect x="581.82" y="754.55" width="18.48" height="18.48" fill="#00ffb6"/>
<rect x="600.0" y="754.55" width="18.48" height="18.48" fill="#00ffbc"/>
<rect x="618.18" y="754.55" width="18.48" height="18.48" fill="#00ffc2"/>
<rect x="636.36" y="754.55" width="18.49" height="18.48" fill="#00ffc8"/>
<rect x="654.55" y="754.55" width="18.48" height="18.48" fill="#00ffce"/>
<rect x="672.73" y="754.55" width="54.84" height="18.48" fill="#00ffd4"/>
<rect x="727.27" y="754.55" width="18.48" height="18.48" fill="#00ffce"/>
<rect x="745.45" y="754.55" width="18.49" height="18.48" fill="#00ffc2"/>
<rect x="763.64" y="754.55" width="18.48" height="18.48" fill="#00ffb6"/>
<rect x="781.82" y="754.55" width="18.48" height="18.48" fill="#00ffaa"/>
</g>
<path d="M718.2 36.4L705.8 29.2M705.8 29.2L712.8 29.3M705.8 29.2L709.4 35.2M772.7 36.4L756.8 26.9M756.8 26.9L765.9 27.2M756.8 26.9L761.4 34.7M790.9 36.4L774.4 26.5M774.4 26.5L783.8 26.8M774.4 26.5L779.1 34.6M700.0 54.5L688.3 48.3M688.3 48.3L694.8 48.2M688.3 48.3L691.8 53.8M718.2 54.5L706.0 48.0M706.0 48.0L712.8 47.9M706.0 48.0L709.7 53.7M754.5 54.5L738.8 45.9M738.8 45.9L747.6 45.9M738.8 45.9L743.5 53.4M772.7 54.5L756.1 45.4M756.1 45.4L765.4 45.4M756.1 45.4L761.1 53.2M790.9 54.5L774.0 45.1M774.0 45.1L783.5 45.1M774.0 45.1L779.0 53.2M681.8 72.7L666.7 65.6M666.7 65.6L674.9 65.1M666.7 65.6L671.5 72.2M700.0 72.7L684.5 65.2M684.5 65.2L692.9 64.8M684.5 65.2L689.4 72.1M718.2 72.7L702.5 65.0M702.5 65.0L711.1 64.6M702.5 65.0L707.4 72.0M736.4 72.7L720.5 64.8M720.5 64.8L729.2 64.4M720.5 64.8L725.4 71.9M754.5 72.7L738.2 64.5M738.2 64.5L747.2 64.1M738.2 64.5L743.3 71.9M772.7 72.7L756.0 64.1M756.0 64.1L765.2 63.8M756.0 64.1L761.1 71.8M790.9 72.7L773.8 63.9M773.8 63.9L783.2 63.6M773.8 63.9L779.0 71.7M663.6 90.9L653.1 86.5M653.1 86.5L658.7 85.9M653.1 86.5L656.6 90.9M681.8 90.9L666.5 84.3M666.5 84.3L674.6 83.5M666.5 84.3L671.5 90.8M700.0 90.9L684.0 83.9M684.0 83.9L692.5 83.1M684.0 83.9L689.2 90.7M718.2 90.9L702.0 83.7M702.0 83.7L710.6 82.9M702.0 83.7L707.2 90.6M736.4 90.9L720.2 83.5M720.2 83.5L728.9 82.9M720.2 83.5L725.4 90.5M754.5 90.9L738.5 83.4M738.5 83.4L747.1 82.8M738.5 83.4L743.6 90.5M772.7 90.9L755.9 83.0M755.9 83.0L765.0 82.4M755.9 83.0L761.3 90.4M790.9 90.9L773.8 82.7M773.8 82.7L783.1 82.2M773.8 82.7L779.2 90.3M681.8 109.1L665.7 102.9M665.7 102.9L674.1 101.7M665.7 102.9L671.2 109.4M700.0 109.1L683.5 102.6M683.5 102.6L692.1 101.5M683.5 102.6L689.0 109.3M718.2 109.1L701.7 102.5M701.7 102.5L710.3 101.4M701.7 102.5L707.2 109.2M736.4 109.1L720.0 102.4M720.0 102.4L728.6 101.3M720.0 102.4L725.4 109.1M754.5 109.1L738.2 102.2M738.2 102.2L746.8 101.3M738.2 102.2L743.6 109.1M772.7 109.1L755.9 101.9M755.9 101.9L764.8 101.0M755.9 101.9L761.4 109.0M790.9 109.1L773.8 101.6M773.8 101.6L782.9 100.7M773.8 101.6L779.3 108.9M663.6 127.3L647.1 122.5M647.1 122.5L655.3 120.6M647.1 122.5L653.1 128.5M681.8 127.3L665.2 122.0M665.2 122.0L673.6 120.3M665.2 122.0L671.0 128.2M700.0 127.3L683.2 121.5M683.2 121.5L691.8 120.0M683.2 121.5L689.0 128.0M718.2 127.3L701.4 121.4M701.4 121.4L710.0 119.9M701.4 121.4L707.2 127.9M736.4 127.3L719.7 121.3M719.7 121.3L728.2 119.9M719.7 121.3L725.4 127.8M754.5 127.3L737.9 121.2M737.9 121.2L746.5 119.8M737.9 121.2L743.6 127.7M772.7 127.3L756.1 121.0M756.1 121.0L764.7 119.8M756.1 121.0L761.8 127.7M790.9 127.3L774.1 120.8M774.1 120.8L782.8 119.6M774.1 120.8L779.8 127.6M645.5 145.5L630.1 142.7M630.1 142.7L637.3 140.2M630.1 142.7L636.0 147.5M663.6 145.5L646.8 142.0M646.8 142.0L654.8 139.5M646.8 142.0L653.2 147.5M681.8 145.5L664.8 141.5M664.8 141.5L673.0 139.1M664.8 141.5L671.1 147.2M700.0 145.5L682.8 140.9M682.8 140.9L691.3 138.8M682.8 140.9L689.1 147.0M718.2 145.5L701.1 140.5M701.1 140.5L709.6 138.6M701.1 140.5L707.3 146.7M736.4 145.5L719.4 140.2M719.4 140.2L727.9 138.4M719.4 140.2L725.4 146.5M754.5 145.5L737.6 140.1M737.6 140.1L746.2 138.4M737.6 140.1L743.6 146.4M772.7 145.5L755.9 140.0M755.9 140.0L764.4 138.3M755.9 140.0L761.8 146.3M790.9 145.5L774.1 139.8M774.1 139.8L782.6 138.3M774.1 139.8L780.0 146.2M645.5 163.6L629.1 162.0M629.1 162.0L636.5 158.8M629.1 162.0L635.7 166.6M663.6 163.6L646.6 161.6M646.6 161.6L654.4 158.4M646.6 161.6L653.4 166.5M681.8 163.6L664.5 161.0M664.5 161.0L672.6 158.0M664.5 161.0L671.3 166.2M700.0 163.6L682.5 160.5M682.5 160.5L690.8 157.7M682.5 160.5L689.3 166.0M718.2 163.6L700.8 160.0M700.8 160.0L709.1 157.4M700.8 160.0L707.4 165.7M736.4 163.6L719.1 159.6M719.1 159.6L727.5 157.2M719.1 159.6L725.5 165.4M754.5 163.6L737.4 159.1M737.4 159.1L745.8 157.0M737.4 159.1L743.7 165.1M772.7 163.6L755.6 158.9M755.6 158.9L764.1 156.9M755.6 158.9L761.8 165.0M790.9 163.6L773.8 158.8M773.8 158.8L782.3 156.8M773.8 158.8L780.0 164.9M627.3 181.8L610.8 181.8M610.8 181.8L617.9 177.9M610.8 181.8L617.9 185.7M645.5 181.8L628.5 181.5M628.5 181.5L635.9 177.6M628.5 181.5L635.7 185.7M663.6 181.8L646.2 181.1M646.2 181.1L653.8 177.3M646.2 181.1L653.5 185.6M681.8 181.8L664.1 180.6M664.1 180.6L672.0 176.9M664.1 180.6L671.4 185.3M700.0 181.8L682.4 180.1M682.4 180.1L690.3 176.6M682.4 180.1L689.5 185.0M718.2 181.8L700.6 179.6M700.6 179.6L708.7 176.3M700.6 179.6L707.6 184.7M736.4 181.8L718.8 179.1M718.8 179.1L727.0 176.1M718.8 179.1L725.7 184.4M754.5 181.8L737.1 178.6M737.1 178.6L745.3 175.9M737.1 178.6L743.8 184.2M772.7 181.8L755.4 178.2M755.4 178.2L763.7 175.6M755.4 178.2L761.9 183.9M790.9 181.8L773.6 177.8M773.6 177.8L782.0 175.4M773.6 177.8L780.1 183.6M609.1 200.0L592.5 201.5M592.5 201.5L599.2 196.9M592.5 201.5L599.9 204.8M627.3 200.0L610.1 201.3M610.1 201.3L617.2 196.6M610.1 201.3L617.8 204.8M645.5 200.0L628.0 201.0M628.0 201.0L635.2 196.4M628.0 201.0L635.7 204.7M663.6 200.0L646.2 200.7M646.2 200.7L653.5 196.2M646.2 200.7L653.8 204.5M681.8 200.0L664.3 200.2M664.3 200.2L671.8 195.9M664.3 200.2L671.9 204.2M700.0 200.0L682.5 199.7M682.5 199.7L690.1 195.7M682.5 199.7L689.9 204.0M718.2 200.0L700.7 199.1M700.7 199.1L708.4 195.4M700.7 199.1L708.0 203.7M736.4 200.0L718.9 198.7M718.9 198.7L726.7 195.1M718.9 198.7L726.1 203.4M754.5 200.0L737.2 198.2M737.2 198.2L745.0 194.8M737.2 198.2L744.2 203.1M772.7 200.0L755.4 197.8M755.4 197.8L763.3 194.6M755.4 197.8L762.3 202.9M790.9 200.0L773.6 197.5M773.6 197.5L781.6 194.5M773.6 197.5L780.4 202.7M590.9 218.2L574.0 221.2M574.0 221.2L580.5 215.9M574.0 221.2L581.9 223.9M609.1 218.2L592.1 220.9M592.1 220.9L598.7 215.7M592.1 220.9L600.0 223.8M627.3 218.2L610.2 220.7M610.2 220.7L616.9 215.6M610.2 220.7L618.1 223.7M645.5 218.2L628.4 220.4M628.4 220.4L635.2 215.4M628.4 220.4L636.2 223.5M663.6 218.2L646.5 220.2M646.5 220.2L653.4 215.3M646.5 220.2L654.3 223.4M681.8 218.2L664.7 219.7M664.7 219.7L671.7 215.0M664.7 219.7L672.4 223.1M700.0 218.2L682.8 219.2M682.8 219.2L689.9 214.7M682.8 219.2L690.4 222.8M718.2 218.2L701.0 218.7M701.0 218.7L708.2 214.4M701.0 218.7L708.5 222.6M736.4 218.2L719.2 218.2M719.2 218.2L726.5 214.1M719.2 218.2L726.5 222.3M754.5 218.2L737.3 217.8M737.3 217.8L744.8 213.9M737.3 217.8L744.6 222.1M772.7 218.2L755.8 217.5M755.8 217.5L763.2 213.8M755.8 217.5L762.9 221.8M790.9 218.2L774.3 217.2M774.3 217.2L781.6 213.7M774.3 217.2L781.2 221.6M572.7 236.4L561.4 239.2M561.4 239.2L565.6 235.3M561.4 239.2L566.9 240.7M590.9 236.4L575.6 240.7M575.6 240.7L581.1 235.2M575.6 240.7L583.2 242.5M609.1 236.4L592.4 240.8M592.4 240.8L598.5 234.9M592.4 240.8L600.6 242.9M627.3 236.4L610.1 240.0M610.1 240.0L616.6 234.4M610.1 240.0L618.3 242.5M645.5 236.4L628.1 239.2M628.1 239.2L634.9 233.9M628.1 239.2L636.2 242.1M663.6 236.4L646.1 238.4M646.1 238.4L653.1 233.4M646.1 238.4L654.1 241.7M681.8 236.4L664.6 238.1M664.6 238.1L671.5 233.3M664.6 238.1L672.4 241.5M700.0 236.4L682.8 237.8M682.8 237.8L689.8 233.1M682.8 237.8L690.5 241.3M718.2 236.4L701.1 237.5M701.1 237.5L708.1 233.0M701.1 237.5L708.7 241.1M736.4 236.4L719.5 237.0M719.5 237.0L726.6 232.7M719.5 237.0L726.9 240.7M754.5 236.4L738.3 236.4M738.3 236.4L745.2 232.5M738.3 236.4L745.2 240.2M772.7 236.4L756.7 234.9M756.7 234.9L763.9 231.7M756.7 234.9L763.2 239.3M790.9 236.4L775.1 233.4M775.1 233.4L782.6 230.9M775.1 233.4L781.2 238.4M554.5 254.5L544.9 261.2M544.9 261.2L547.5 256.1M544.9 261.2L550.6 260.6M572.7 254.5L558.3 262.3M558.3 262.3L562.6 255.6M558.3 262.3L566.3 262.4M590.9 254.5L574.9 261.0M574.9 261.0L580.3 254.4M574.9 261.0L583.3 262.0M609.1 254.5L592.4 261.4M592.4 261.4L597.9 254.5M592.4 261.4L601.2 262.4M627.3 254.5L610.2 260.6M610.2 260.6L616.1 254.0M610.2 260.6L619.0 262.1M645.5 254.5L628.0 259.6M628.0 259.6L634.3 253.3M628.0 259.6L636.7 261.6M663.6 254.5L646.0 258.4M646.0 258.4L652.6 252.6M646.0 258.4L654.5 261.0M681.8 254.5L664.8 257.1M664.8 257.1L671.5 252.0M664.8 257.1L672.7 260.1M700.0 254.5L683.3 256.8M683.3 256.8L689.9 251.9M683.3 256.8L691.0 259.8M718.2 254.5L701.5 256.4M701.5 256.4L708.2 251.6M701.5 256.4L709.1 259.6M736.4 254.5L719.9 255.8M719.9 255.8L726.7 251.3M719.9 255.8L727.3 259.1M754.5 254.5L739.1 255.1M739.1 255.1L745.6 251.2M739.1 255.1L745.9 258.5M772.7 254.5L757.6 254.5M757.6 254.5L764.1 250.9M757.6 254.5L764.1 258.1M790.9 254.5L775.8 253.1M775.8 253.1L782.6 250.2M775.8 253.1L781.9 257.3M209.1 272.7L203.0 293.4M203.0 293.4L200.7 283.1M203.0 293.4L210.5 286.0M554.5 272.7L540.3 284.9M540.3 284.9L543.5 276.3M540.3 284.9L549.3 283.0M572.7 272.7L557.8 283.9M557.8 283.9L561.5 275.6M557.8 283.9L566.8 282.7M590.9 272.7L575.3 283.0M575.3 283.0L579.5 274.9M575.3 283.0L584.4 282.3M609.1 272.7L593.1 281.9M593.1 281.9L597.8 274.2M593.1 281.9L602.1 281.8M627.3 272.7L610.8 280.8M610.8 280.8L615.9 273.4M610.8 280.8L619.7 281.2M645.5 272.7L628.5 279.6M628.5 279.6L634.1 272.6M628.5 279.6L637.4 280.7M663.6 272.7L646.4 278.4M646.4 278.4L652.4 271.9M646.4 278.4L655.1 280.1M681.8 272.7L665.5 276.9M665.5 276.9L671.5 271.2M665.5 276.9L673.5 279.0M700.0 272.7L684.3 275.7M684.3 275.7L690.3 270.7M684.3 275.7L691.7 278.1M718.2 272.7L702.4 275.1M702.4 275.1L708.6 270.3M702.4 275.1L709.7 277.8M736.4 272.7L720.8 274.5M720.8 274.5L727.0 270.0M720.8 274.5L727.9 277.4M754.5 272.7L740.0 273.8M740.0 273.8L746.0 269.9M740.0 273.8L746.5 276.8M772.7 272.7L758.4 273.3M758.4 273.3L764.4 269.6M758.4 273.3L764.7 276.4M790.9 272.7L776.6 272.7M776.6 272.7L782.7 269.3M776.6 272.7L782.7 276.1M209.1 290.9L203.8 312.2M203.8 312.2L201.0 301.8M203.8 312.2L211.1 304.3M227.3 290.9L221.5 310.9M221.5 310.9L219.2 301.0M221.5 310.9L228.7 303.7M245.5 290.9L239.7 311.3M239.7 311.3L237.3 301.2M239.7 311.3L247.0 304.0M263.6 290.9L258.5 310.6M258.5 310.6L256.0 300.9M258.5 310.6L265.4 303.4M281.8 290.9L276.5 310.6M276.5 310.6L274.1 300.9M276.5 310.6L283.4 303.4M536.4 290.9L524.4 305.1M524.4 305.1L526.1 296.2M524.4 305.1L532.9 301.9M554.5 290.9L541.5 304.6M541.5 304.6L543.8 295.7M541.5 304.6L550.3 301.9M572.7 290.9L558.8 303.8M558.8 303.8L561.7 295.0M558.8 303.8L567.9 301.6M590.9 290.9L576.4 302.9M576.4 302.9L579.8 294.3M576.4 302.9L585.5 301.2M609.1 290.9L594.0 301.9M594.0 301.9L597.9 293.6M594.0 301.9L603.1 300.8M627.3 290.9L611.7 300.8M611.7 300.8L616.0 292.9M611.7 300.8L620.7 300.2M645.5 290.9L629.3 299.7M629.3 299.7L634.2 292.1M629.3 299.7L638.3 299.7M663.6 290.9L647.0 298.5M647.0 298.5L652.3 291.3M647.0 298.5L655.9 299.2M681.8 290.9L665.9 296.9M665.9 296.9L671.3 290.6M665.9 296.9L674.2 298.1M700.0 290.9L685.1 295.4M685.1 295.4L690.4 290.0M685.1 295.4L692.6 297.0M718.2 290.9L703.4 294.6M703.4 294.6L708.9 289.5M703.4 294.6L710.6 296.5M736.4 290.9L721.7 293.7M721.7 293.7L727.3 289.0M721.7 293.7L728.7 296.0M754.5 290.9L740.9 292.9M740.9 292.9L746.3 288.8M740.9 292.9L747.2 295.3M772.7 290.9L759.3 292.4M759.3 292.4L764.7 288.5M759.3 292.4L765.4 294.9M790.9 290.9L777.4 291.9M777.4 291.9L783.0 288.3M777.4 291.9L783.4 294.7M227.3 309.1L222.7 326.9M222.7 326.9L220.4 318.2M222.7 326.9L228.9 320.4M245.5 309.1L239.7 329.7M239.7 329.7L237.3 319.5M239.7 329.7L247.0 322.2M263.6 309.1L257.4 330.1M257.4 330.1L255.1 319.6M257.4 330.1L265.1 322.6M281.8 309.1L275.8 331.0M275.8 331.0L273.2 320.2M275.8 331.0L283.6 323.0M300.0 309.1L294.6 330.5M294.6 330.5L291.8 320.0M294.6 330.5L302.0 322.6M318.2 309.1L313.5 329.4M313.5 329.4L310.7 319.6M313.5 329.4L320.3 321.8M500.0 309.1L490.0 325.9M490.0 325.9L490.3 316.3M490.0 325.9L498.3 321.1M518.2 309.1L507.5 325.6M507.5 325.6L508.2 316.0M507.5 325.6L516.0 321.1M536.4 309.1L525.0 325.3M525.0 325.3L526.0 315.7M525.0 325.3L533.7 321.1M554.5 309.1L542.3 325.0M542.3 325.0L543.8 315.3M542.3 325.0L551.3 321.1M572.7 309.1L559.8 324.3M559.8 324.3L561.7 314.7M559.8 324.3L569.0 320.9M590.9 309.1L577.3 323.3M577.3 323.3L579.7 314.0M577.3 323.3L586.5 320.4M609.1 309.1L594.9 322.1M594.9 322.1L597.9 313.1M594.9 322.1L604.1 319.9M627.3 309.1L612.7 320.8M612.7 320.8L616.1 312.3M612.7 320.8L621.7 319.3M645.5 309.1L630.3 319.6M630.3 319.6L634.3 311.5M630.3 319.6L639.3 318.7M663.6 309.1L647.9 318.5M647.9 318.5L652.4 310.7M647.9 318.5L656.9 318.2M681.8 309.1L666.6 316.9M666.6 316.9L671.3 309.9M666.6 316.9L675.0 317.1M700.0 309.1L685.8 315.2M685.8 315.2L690.4 309.2M685.8 315.2L693.3 316.0M718.2 309.1L704.2 314.2M704.2 314.2L708.9 308.7M704.2 314.2L711.4 315.4M736.4 309.1L722.4 313.4M722.4 313.4L727.4 308.2M722.4 313.4L729.4 314.9M754.5 309.1L741.6 312.4M741.6 312.4L746.4 307.9M741.6 312.4L747.9 314.0M772.7 309.1L760.2 311.6M760.2 311.6L765.0 307.5M760.2 311.6L766.2 313.5M790.9 309.1L778.3 310.9M778.3 310.9L783.3 307.1M778.3 310.9L784.1 313.1M263.6 327.3L258.3 346.7M258.3 346.7L256.0 337.1M258.3 346.7L265.2 339.6M281.8 327.3L276.3 346.9M276.3 346.9L274.0 337.2M276.3 346.9L283.3 339.8M300.0 327.3L293.8 349.6M293.8 349.6L291.2 338.5M293.8 349.6L301.8 341.5M318.2 327.3L312.5 349.5M312.5 349.5L309.6 338.6M312.5 349.5L320.2 341.3M336.4 327.3L331.2 349.2M331.2 349.2L328.2 338.6M331.2 349.2L338.6 341.0M354.5 327.3L350.0 347.9M350.0 347.9L347.1 338.0M350.0 347.9L356.9 340.1M372.7 327.3L368.2 349.8M368.2 349.8L364.8 339.1M368.2 349.8L375.5 341.2M390.9 327.3L386.0 348.2M386.0 348.2L383.1 338.1M386.0 348.2L393.1 340.4M409.1 327.3L404.3 344.9M404.3 344.9L402.2 336.2M404.3 344.9L410.5 338.5M427.3 327.3L421.7 345.1M421.7 345.1L419.9 336.2M421.7 345.1L428.3 338.8M445.5 327.3L439.0 345.9M439.0 345.9L437.3 336.3M439.0 345.9L446.2 339.4M463.6 327.3L456.3 346.3M456.3 346.3L454.9 336.4M456.3 346.3L463.9 339.9M481.8 327.3L472.5 349.1M472.5 349.1L471.3 337.5M472.5 349.1L481.7 341.9M500.0 327.3L490.4 347.7M490.4 347.7L489.7 336.6M490.4 347.7L499.4 341.2M518.2 327.3L508.6 345.6M508.6 345.6L508.4 335.5M508.6 345.6L517.1 340.0M536.4 327.3L526.3 344.8M526.3 344.8L526.4 334.9M526.3 344.8L534.8 339.7M554.5 327.3L543.6 344.6M543.6 344.6L544.2 334.6M543.6 344.6L552.4 339.8M572.7 327.3L561.1 344.0M561.1 344.0L562.1 334.1M561.1 344.0L570.1 339.6M590.9 327.3L578.6 343.3M578.6 343.3L580.1 333.5M578.6 343.3L587.7 339.4M609.1 327.3L596.3 342.4M596.3 342.4L598.2 332.9M596.3 342.4L605.4 339.0M627.3 327.3L614.2 341.4M614.2 341.4L616.5 332.2M614.2 341.4L623.2 338.4M645.5 327.3L632.1 340.5M632.1 340.5L634.7 331.6M632.1 340.5L640.9 338.0M663.6 327.3L650.0 339.6M650.0 339.6L652.9 331.1M650.0 339.6L658.8 337.6M681.8 327.3L668.4 338.3M668.4 338.3L671.5 330.4M668.4 338.3L676.8 336.8M700.0 327.3L687.1 336.9M687.1 336.9L690.4 329.7M687.1 336.9L694.9 335.8M718.2 327.3L705.5 335.8M705.5 335.8L708.9 329.1M705.5 335.8L713.0 335.2M736.4 327.3L723.8 334.8M723.8 334.8L727.4 328.6M723.8 334.8L731.0 334.5M754.5 327.3L742.9 333.4M742.9 333.4L746.4 328.0M742.9 333.4L749.4 333.5M772.7 327.3L761.7 332.4M761.7 332.4L765.2 327.6M761.7 332.4L767.6 332.8M790.9 327.3L780.0 331.6M780.0 331.6L783.6 327.2M780.0 331.6L785.7 332.4M300.0 345.5L294.2 366.8M294.2 366.8L291.6 356.3M294.2 366.8L301.8 359.0M318.2 345.5L312.0 367.6M312.0 367.6L309.4 356.6M312.0 367.6L319.9 359.6M336.4 345.5L330.8 367.7M330.8 367.7L327.9 356.9M330.8 367.7L338.5 359.5M354.5 345.5L349.7 367.5M349.7 367.5L346.6 356.9M349.7 367.5L357.0 359.2M372.7 345.5L368.3 368.5M368.3 368.5L364.8 357.6M368.3 368.5L375.7 359.6M390.9 345.5L385.4 366.9M385.4 366.9L382.7 356.4M385.4 366.9L392.9 359.0M409.1 345.5L403.2 364.5M403.2 364.5L401.2 355.0M403.2 364.5L410.3 357.7M427.3 345.5L420.6 364.7M420.6 364.7L418.9 354.9M420.6 364.7L428.0 358.0M445.5 345.5L437.8 365.4M437.8 365.4L436.3 355.0M437.8 365.4L445.8 358.7M463.6 345.5L454.7 366.6M454.7 366.6L453.5 355.4M454.7 366.6L463.5 359.7M481.8 345.5L472.2 367.4M472.2 367.4L471.1 355.7M472.2 367.4L481.5 360.3M500.0 345.5L490.3 367.1M490.3 367.1L489.3 355.5M490.3 367.1L499.6 360.1M518.2 345.5L508.4 366.6M508.4 366.6L507.6 355.2M508.4 366.6L517.6 359.8M536.4 345.5L526.8 365.4M526.8 365.4L526.2 354.6M526.8 365.4L535.7 359.1M554.5 345.5L544.6 364.9M544.6 364.9L544.3 354.2M544.6 364.9L553.5 358.9M572.7 345.5L562.1 364.3M562.1 364.3L562.2 353.7M562.1 364.3L571.1 358.8M590.9 345.5L579.8 363.2M579.8 363.2L580.3 353.0M579.8 363.2L588.8 358.2M609.1 345.5L596.7 361.6M596.7 361.6L598.1 351.7M596.7 361.6L605.8 357.7M627.3 345.5L614.5 360.6M614.5 360.6L616.4 351.1M614.5 360.6L623.6 357.1M645.5 345.5L632.6 359.4M632.6 359.4L634.8 350.4M632.6 359.4L641.4 356.5M663.6 345.5L650.6 358.4M650.6 358.4L653.1 349.7M650.6 358.4L659.3 355.9M681.8 345.5L669.0 357.1M669.0 357.1L671.7 349.1M669.0 357.1L677.2 355.2M700.0 345.5L687.5 355.8M687.5 355.8L690.4 348.4M687.5 355.8L695.3 354.3M718.2 345.5L706.3 354.8M706.3 354.8L709.1 348.0M706.3 354.8L713.6 353.6M736.4 345.5L725.0 353.6M725.0 353.6L727.9 347.4M725.0 353.6L731.8 352.8M754.5 345.5L744.2 352.1M744.2 352.1L747.1 346.8M744.2 352.1L750.2 351.7M772.7 345.5L763.2 350.9M763.2 350.9L766.0 346.3M763.2 350.9L768.5 350.8M790.9 345.5L781.5 350.1M781.5 350.1L784.4 345.9M781.5 350.1L786.7 350.4M300.0 363.6L294.7 384.5M294.7 384.5L292.0 374.3M294.7 384.5L301.9 376.8M318.2 363.6L312.8 385.1M312.8 385.1L310.0 374.6M312.8 385.1L320.2 377.2M336.4 363.6L331.4 385.3M331.4 385.3L328.4 374.8M331.4 385.3L338.7 377.2M354.5 363.6L350.1 385.4M350.1 385.4L346.8 375.0M350.1 385.4L357.2 377.1M372.7 363.6L368.6 386.2M368.6 386.2L365.0 375.6M368.6 386.2L375.7 377.5M390.9 363.6L385.4 386.1M385.4 386.1L382.4 375.2M385.4 386.1L393.1 377.8M409.1 363.6L402.3 385.3M402.3 385.3L400.1 374.4M402.3 385.3L410.4 377.6M427.3 363.6L418.9 385.5M418.9 385.5L417.3 374.2M418.9 385.5L427.7 378.1M445.5 363.6L436.6 386.1M436.6 386.1L435.1 374.4M436.6 386.1L445.7 378.6M463.6 363.6L454.6 386.0M454.6 386.0L453.2 374.3M454.6 386.0L463.8 378.6M481.8 363.6L472.5 385.9M472.5 385.9L471.2 374.2M472.5 385.9L481.8 378.6M500.0 363.6L490.5 385.8M490.5 385.8L489.3 374.1M490.5 385.8L499.8 378.6M518.2 363.6L508.5 385.6M508.5 385.6L507.4 373.9M508.5 385.6L517.8 378.5M536.4 363.6L526.9 384.4M526.9 384.4L526.0 373.2M526.9 384.4L535.9 377.8M554.5 363.6L545.3 383.4M545.3 383.4L544.6 372.7M545.3 383.4L553.9 377.1M572.7 363.6L563.3 383.1M563.3 383.1L562.7 372.5M563.3 383.1L572.0 377.0M590.9 363.6L581.6 382.2M581.6 382.2L581.2 372.1M581.6 382.2L590.0 376.5M609.1 363.6L597.5 380.4M597.5 380.4L598.5 370.4M597.5 380.4L606.4 376.0M627.3 363.6L615.2 379.4M615.2 379.4L616.6 369.8M615.2 379.4L624.1 375.5M645.5 363.6L633.2 378.3M633.2 378.3L635.0 369.1M633.2 378.3L641.9 374.9M663.6 363.6L651.2 377.1M651.2 377.1L653.3 368.4M651.2 377.1L659.8 374.3M681.8 363.6L669.5 375.9M669.5 375.9L671.8 367.7M669.5 375.9L677.7 373.6M700.0 363.6L687.9 374.7M687.9 374.7L690.5 367.1M687.9 374.7L695.7 372.8M718.2 363.6L706.8 373.5M706.8 373.5L709.3 366.6M706.8 373.5L714.0 372.0M736.4 363.6L726.0 372.1M726.0 372.1L728.4 366.0M726.0 372.1L732.5 371.0M754.5 363.6L745.5 370.5M745.5 370.5L747.7 365.4M745.5 370.5L751.0 369.7M772.7 363.6L764.4 369.3M764.4 369.3L766.6 364.9M764.4 369.3L769.3 368.9M790.9 363.6L782.8 368.5M782.8 368.5L785.1 364.5M782.8 368.5L787.5 368.3M281.8 381.8L279.8 391.2M279.8 391.2L278.4 386.7M279.8 391.2L282.9 387.7M300.0 381.8L294.9 403.0M294.9 403.0L292.1 392.7M294.9 403.0L302.1 395.1M318.2 381.8L313.3 403.4M313.3 403.4L310.3 393.0M313.3 403.4L320.5 395.3M336.4 381.8L331.9 403.5M331.9 403.5L328.7 393.1M331.9 403.5L339.0 395.2M354.5 381.8L350.6 403.5M350.6 403.5L347.1 393.3M350.6 403.5L357.4 395.2M372.7 381.8L369.2 404.2M369.2 404.2L365.4 393.8M369.2 404.2L376.0 395.5M390.9 381.8L385.8 405.0M385.8 405.0L382.5 393.8M385.8 405.0L393.5 396.3M409.1 381.8L402.7 404.5M402.7 404.5L400.1 393.3M402.7 404.5L410.8 396.3M427.3 381.8L419.3 404.6M419.3 404.6L417.3 392.9M419.3 404.6L428.1 396.7M445.5 381.8L437.3 404.5M437.3 404.5L435.4 392.8M437.3 404.5L446.2 396.7M463.6 381.8L455.2 404.4M455.2 404.4L453.5 392.7M455.2 404.4L464.2 396.7M481.8 381.8L473.1 404.3M473.1 404.3L471.5 392.6M473.1 404.3L482.2 396.7M500.0 381.8L491.0 404.2M491.0 404.2L489.5 392.5M491.0 404.2L500.1 396.8M518.2 381.8L508.6 404.7M508.6 404.7L507.3 392.6M508.6 404.7L518.2 397.2M536.4 381.8L527.0 403.6M527.0 403.6L525.8 392.0M527.0 403.6L536.2 396.5M554.5 381.8L545.5 402.1M545.5 402.1L544.6 391.3M545.5 402.1L554.2 395.6M572.7 381.8L563.7 401.6M563.7 401.6L562.8 391.0M563.7 401.6L572.3 395.3M590.9 381.8L582.0 400.8M582.0 400.8L581.3 390.5M582.0 400.8L590.3 394.8M609.1 381.8L598.4 398.9M598.4 398.9L598.9 389.0M598.4 398.9L607.0 394.1M627.3 381.8L616.1 398.0M616.1 398.0L617.0 388.4M616.1 398.0L624.7 393.7M645.5 381.8L634.0 396.9M634.0 396.9L635.3 387.7M634.0 396.9L642.5 393.2M663.6 381.8L651.9 395.9M651.9 395.9L653.6 387.1M651.9 395.9L660.3 392.6M681.8 381.8L670.1 394.7M670.1 394.7L672.0 386.4M670.1 394.7L678.2 392.0M700.0 381.8L688.5 393.3M688.5 393.3L690.7 385.7M688.5 393.3L696.2 391.1M718.2 381.8L707.5 392.0M707.5 392.0L709.7 385.1M707.5 392.0L714.5 390.1M736.4 381.8L727.0 390.3M727.0 390.3L729.0 384.5M727.0 390.3L733.0 388.9M754.5 381.8L746.5 388.7M746.5 388.7L748.3 383.9M746.5 388.7L751.6 387.7M772.7 381.8L765.6 387.6M765.6 387.6L767.3 383.4M765.6 387.6L770.0 386.8M790.9 381.8L784.0 386.8M784.0 386.8L785.8 383.0M784.0 386.8L788.2 386.3M281.8 400.0L280.2 409.4M280.2 409.4L278.6 405.0M280.2 409.4L283.1 405.8M300.0 400.0L295.8 418.9M295.8 418.9L293.1 409.8M295.8 418.9L302.1 411.8M318.2 400.0L314.3 419.3M314.3 419.3L311.4 410.1M314.3 419.3L320.6 411.9M336.4 400.0L332.8 420.1M332.8 420.1L329.5 410.6M332.8 420.1L339.1 412.3M354.5 400.0L351.3 420.8M351.3 420.8L347.7 411.1M351.3 420.8L357.6 412.7M372.7 400.0L369.8 421.6M369.8 421.6L365.9 411.6M369.8 421.6L376.2 413.0M390.9 400.0L386.5 422.7M386.5 422.7L383.0 411.9M386.5 422.7L393.8 414.0M409.1 400.0L403.2 423.0M403.2 423.0L400.3 411.7M403.2 423.0L411.2 414.5M427.3 400.0L420.0 422.9M420.0 422.9L417.7 411.3M420.0 422.9L428.5 414.8M445.5 400.0L437.9 422.8M437.9 422.8L435.7 411.2M437.9 422.8L446.5 414.8M463.6 400.0L455.7 422.7M455.7 422.7L453.7 411.1M455.7 422.7L464.5 414.8M481.8 400.0L473.6 422.5M473.6 422.5L471.8 410.9M473.6 422.5L482.5 414.8M500.0 400.0L491.5 422.3M491.5 422.3L489.9 410.7M491.5 422.3L500.4 414.8M518.2 400.0L509.3 422.6M509.3 422.6L507.7 410.8M509.3 422.6L518.5 415.0M536.4 400.0L527.8 421.1M527.8 421.1L526.4 410.0M527.8 421.1L536.5 414.1M554.5 400.0L546.1 420.2M546.1 420.2L544.9 409.6M546.1 420.2L554.5 413.6M572.7 400.0L564.2 419.9M564.2 419.9L563.1 409.3M564.2 419.9L572.5 413.4M590.9 400.0L582.5 418.9M582.5 418.9L581.6 408.8M582.5 418.9L590.6 412.8M609.1 400.0L599.4 417.2M599.4 417.2L599.5 407.5M599.4 417.2L607.6 412.1M627.3 400.0L617.1 416.4M617.1 416.4L617.5 406.9M617.1 416.4L625.3 411.8M645.5 400.0L634.8 415.4M634.8 415.4L635.7 406.3M634.8 415.4L643.1 411.3M663.6 400.0L652.7 414.5M652.7 414.5L653.9 405.7M652.7 414.5L660.8 410.9M681.8 400.0L670.9 413.2M670.9 413.2L672.4 404.9M670.9 413.2L678.7 410.1M700.0 400.0L689.4 411.7M689.4 411.7L691.2 404.1M689.4 411.7L696.7 409.2M718.2 400.0L708.5 410.1M708.5 410.1L710.2 403.5M708.5 410.1L715.1 408.1M736.4 400.0L727.9 408.4M727.9 408.4L729.5 402.8M727.9 408.4L733.5 406.8M754.5 400.0L747.3 406.8M747.3 406.8L748.8 402.2M747.3 406.8L752.0 405.6M772.7 400.0L766.4 405.7M766.4 405.7L767.7 401.8M766.4 405.7L770.5 404.8M790.9 400.0L784.9 405.1M784.9 405.1L786.3 401.5M784.9 405.1L788.7 404.4M300.0 418.2L298.6 428.5M298.6 428.5L296.8 423.7M298.6 428.5L301.6 424.4M318.2 418.2L318.3 429.3M318.3 429.3L315.6 424.6M318.3 429.3L320.9 424.5M336.4 418.2L336.9 434.6M336.9 434.6L332.8 427.7M336.9 434.6L340.6 427.4M354.5 418.2L355.6 437.4M355.6 437.4L350.6 429.4M355.6 437.4L359.7 428.9M372.7 418.2L371.4 439.5M371.4 439.5L366.9 430.1M371.4 439.5L377.1 430.7M390.9 418.2L386.8 441.4M386.8 441.4L383.1 430.5M386.8 441.4L394.1 432.4M409.1 418.2L403.6 441.5M403.6 441.5L400.4 430.2M403.6 441.5L411.5 432.8M427.3 418.2L420.6 441.2M420.6 441.2L418.0 429.8M420.6 441.2L428.9 432.9M445.5 418.2L437.8 440.9M437.8 440.9L435.7 429.4M437.8 440.9L446.5 433.0M463.6 418.2L455.8 440.4M455.8 440.4L453.9 429.0M455.8 440.4L464.4 432.7M481.8 418.2L474.0 439.3M474.0 439.3L472.3 428.4M474.0 439.3L482.4 432.1M500.0 418.2L492.4 438.3M492.4 438.3L490.9 427.8M492.4 438.3L500.4 431.5M518.2 418.2L510.8 437.2M510.8 437.2L509.4 427.3M510.8 437.2L518.5 430.8M536.4 418.2L529.0 436.4M529.0 436.4L527.8 426.9M529.0 436.4L536.5 430.4M554.5 418.2L547.1 436.1M547.1 436.1L546.0 426.7M547.1 436.1L554.6 430.2M572.7 418.2L565.3 435.8M565.3 435.8L564.3 426.5M565.3 435.8L572.6 430.0M590.9 418.2L582.2 434.9M582.2 434.9L582.0 425.7M582.2 434.9L589.9 429.8M609.1 418.2L598.5 433.7M598.5 433.7L599.4 424.5M598.5 433.7L606.7 429.6M627.3 418.2L616.1 433.1M616.1 433.1L617.4 424.0M616.1 433.1L624.4 429.3M645.5 418.2L633.8 432.3M633.8 432.3L635.4 423.5M633.8 432.3L642.2 429.0M663.6 418.2L652.2 431.5M652.2 431.5L653.9 423.1M652.2 431.5L660.3 428.5M681.8 418.2L671.2 430.6M671.2 430.6L672.8 422.8M671.2 430.6L678.7 427.8M700.0 418.2L690.4 429.6M690.4 429.6L691.8 422.4M690.4 429.6L697.2 427.0M718.2 418.2L709.3 427.8M709.3 427.8L710.8 421.6M709.3 427.8L715.4 425.8M736.4 418.2L728.3 426.1M728.3 426.1L729.9 420.8M728.3 426.1L733.6 424.6M754.5 418.2L747.3 424.8M747.3 424.8L748.9 420.2M747.3 424.8L752.0 423.7M772.7 418.2L766.3 423.8M766.3 423.8L767.7 419.9M766.3 423.8L770.4 422.9M790.9 418.2L784.9 423.2M784.9 423.2L786.3 419.6M784.9 423.2L788.7 422.5M336.4 436.4L339.1 447.5M339.1 447.5L335.3 443.4M339.1 447.5L340.6 442.0M354.5 436.4L356.2 448.5M356.2 448.5L352.6 443.7M356.2 448.5L358.3 442.9M372.7 436.4L372.9 448.3M372.9 448.3L370.0 443.2M372.9 448.3L375.7 443.1M390.9 436.4L389.6 449.3M389.6 449.3L387.1 443.5M389.6 449.3L393.3 444.1M409.1 436.4L406.0 450.6M406.0 450.6L404.0 443.8M406.0 450.6L410.7 445.2M427.3 436.4L423.5 451.0M423.5 451.0L421.6 443.8M423.5 451.0L428.6 445.6M445.5 436.4L440.9 451.3M440.9 451.3L439.3 443.8M440.9 451.3L446.4 446.0M463.6 436.4L458.3 451.3M458.3 451.3L457.0 443.7M458.3 451.3L464.1 446.2M481.8 436.4L476.4 451.0M476.4 451.0L475.2 443.4M476.4 451.0L482.2 446.0M500.0 436.4L494.4 451.2M494.4 451.2L493.2 443.5M494.4 451.2L500.3 446.2M518.2 436.4L512.2 451.9M512.2 451.9L511.1 443.8M512.2 451.9L518.5 446.7M536.4 436.4L530.0 452.6M530.0 452.6L528.8 444.1M530.0 452.6L536.6 447.2M554.5 436.4L547.9 452.8M547.9 452.8L546.8 444.2M547.9 452.8L554.7 447.3M572.7 436.4L565.9 452.8M565.9 452.8L565.0 444.1M565.9 452.8L572.7 447.3M590.9 436.4L581.8 451.6M581.8 451.6L582.1 442.9M581.8 451.6L589.3 447.2M609.1 436.4L597.9 450.1M597.9 450.1L599.4 441.5M597.9 450.1L605.9 446.9M627.3 436.4L616.3 449.9M616.3 449.9L617.8 441.5M616.3 449.9L624.2 446.7M645.5 436.4L634.7 449.8M634.7 449.8L636.1 441.5M634.7 449.8L642.5 446.6M663.6 436.4L653.9 448.6M653.9 448.6L655.2 441.1M653.9 448.6L661.0 445.7M681.8 436.4L673.0 447.6M673.0 447.6L674.1 440.7M673.0 447.6L679.4 444.9M700.0 436.4L691.9 446.8M691.9 446.8L692.9 440.4M691.9 446.8L697.8 444.3M718.2 436.4L710.4 445.4M710.4 445.4L711.6 439.7M710.4 445.4L715.9 443.4M736.4 436.4L729.1 444.1M729.1 444.1L730.4 439.1M729.1 444.1L734.0 442.5M754.5 436.4L747.7 443.0M747.7 443.0L749.0 438.5M747.7 443.0L752.2 441.8M772.7 436.4L766.5 441.8M766.5 441.8L767.9 438.0M766.5 441.8L770.5 441.0M790.9 436.4L785.2 440.9M785.2 440.9L786.6 437.6M785.2 440.9L788.7 440.3M336.4 454.5L338.9 464.6M338.9 464.6L335.4 460.9M338.9 464.6L340.2 459.7M354.5 454.5L355.7 464.6M355.7 464.6L352.8 460.6M355.7 464.6L357.6 460.0M372.7 454.5L372.6 462.8M372.6 462.8L370.7 459.3M372.6 462.8L374.6 459.3M390.9 454.5L389.8 462.0M389.8 462.0L388.5 458.5M389.8 462.0L392.0 459.1M409.1 454.5L407.2 461.3M407.2 461.3L406.4 458.0M407.2 461.3L409.6 458.9M427.3 454.5L425.3 461.0M425.3 461.0L424.6 457.8M425.3 461.0L427.7 458.7M445.5 454.5L443.2 461.2M443.2 461.2L442.6 457.8M443.2 461.2L445.8 458.9M463.6 454.5L461.1 461.7M461.1 461.7L460.5 458.0M461.1 461.7L463.9 459.2M481.8 454.5L478.6 463.0M478.6 463.0L478.0 458.6M478.6 463.0L482.0 460.2M500.0 454.5L496.2 465.0M496.2 465.0L495.3 459.6M496.2 465.0L500.3 461.4M518.2 454.5L513.6 467.3M513.6 467.3L512.5 460.7M513.6 467.3L518.6 462.9M536.4 454.5L530.6 469.6M530.6 469.6L529.5 461.8M530.6 469.6L536.6 464.5M554.5 454.5L548.4 470.1M548.4 470.1L547.4 462.0M548.4 470.1L554.7 464.9M572.7 454.5L565.3 469.8M565.3 469.8L564.9 461.5M565.3 469.8L572.1 465.0M590.9 454.5L581.7 469.4M581.7 469.4L582.1 460.9M581.7 469.4L589.2 465.2M609.1 454.5L598.8 469.3M598.8 469.3L599.7 460.6M598.8 469.3L606.7 465.4M627.3 454.5L617.6 469.4M617.6 469.4L618.2 460.7M617.6 469.4L625.3 465.3M645.5 454.5L636.8 468.8M636.8 468.8L637.1 460.6M636.8 468.8L643.9 464.7M663.6 454.5L655.9 467.8M655.9 467.8L656.0 460.3M655.9 467.8L662.3 464.0M681.8 454.5L674.8 466.7M674.8 466.7L674.9 459.8M674.8 466.7L680.7 463.2M700.0 454.5L693.5 465.8M693.5 465.8L693.6 459.5M693.5 465.8L699.0 462.5M718.2 454.5L711.9 464.4M711.9 464.4L712.3 458.7M711.9 464.4L716.9 461.7M736.4 454.5L730.4 463.0M730.4 463.0L730.9 458.0M730.4 463.0L735.0 460.8M754.5 454.5L749.3 462.2M749.3 462.2L749.7 457.7M749.3 462.2L753.4 460.2M772.7 454.5L768.7 461.5M768.7 461.5L768.8 457.6M768.7 461.5L772.1 459.5M790.9 454.5L787.9 460.9M787.9 460.9L787.7 457.5M787.9 460.9L790.7 458.9M336.4 472.7L339.5 485.1M339.5 485.1L335.2 480.5M339.5 485.1L341.1 479.1M354.5 472.7L356.1 485.1M356.1 485.1L352.5 480.2M356.1 485.1L358.4 479.4M372.7 472.7L372.8 483.9M372.8 483.9L370.1 479.1M372.8 483.9L375.4 479.1M390.9 472.7L389.7 483.0M389.7 483.0L387.8 478.3M389.7 483.0L392.6 478.9M409.1 472.7L406.7 482.0M406.7 482.0L405.5 477.5M406.7 482.0L409.9 478.6M427.3 472.7L424.7 480.6M424.7 480.6L423.9 476.6M424.7 480.6L427.7 477.8M445.5 472.7L442.9 480.1M442.9 480.1L442.2 476.3M442.9 480.1L445.7 477.5M463.6 472.7L460.8 480.5M460.8 480.5L460.1 476.5M460.8 480.5L463.8 477.9M481.8 472.7L478.7 481.5M478.7 481.5L477.9 477.0M478.7 481.5L482.1 478.5M500.0 472.7L496.1 484.0M496.1 484.0L495.1 478.3M496.1 484.0L500.5 480.1M518.2 472.7L513.5 486.8M513.5 486.8L512.1 479.7M513.5 486.8L518.8 481.9M536.4 472.7L530.8 488.2M530.8 488.2L529.5 480.2M530.8 488.2L536.9 482.9M554.5 472.7L548.5 488.5M548.5 488.5L547.3 480.3M548.5 488.5L554.8 483.2M572.7 472.7L565.7 488.4M565.7 488.4L565.0 480.0M565.7 488.4L572.4 483.4M590.9 472.7L582.9 488.3M582.9 488.3L582.7 479.7M582.9 488.3L590.0 483.5M609.1 472.7L600.2 488.0M600.2 488.0L600.3 479.4M600.2 488.0L607.6 483.6M627.3 472.7L618.9 488.1M618.9 488.1L618.9 479.5M618.9 488.1L626.1 483.5M645.5 472.7L638.0 487.4M638.0 487.4L637.7 479.3M638.0 487.4L644.7 482.9M663.6 472.7L657.2 486.4M657.2 486.4L656.7 479.0M657.2 486.4L663.2 482.1M681.8 472.7L676.2 485.6M676.2 485.6L675.6 478.8M676.2 485.6L681.7 481.4M700.0 472.7L695.5 484.1M695.5 484.1L694.7 478.1M695.5 484.1L700.1 480.3M718.2 472.7L714.7 483.6M714.7 483.6L713.6 478.1M714.7 483.6L718.8 479.8M736.4 472.7L734.0 482.8M734.0 482.8L732.6 477.9M734.0 482.8L737.4 479.1M754.5 472.7L753.3 480.9M753.3 480.9L751.9 477.1M753.3 480.9L755.8 477.7M772.7 472.7L772.2 480.0M772.2 480.0L770.7 476.8M772.2 480.0L774.1 477.0M790.9 472.7L790.9 478.8M790.9 478.8L789.5 476.2M790.9 478.8L792.4 476.2M318.2 490.9L321.4 502.4M321.4 502.4L317.3 498.2M321.4 502.4L322.7 496.7M336.4 490.9L339.8 504.8M339.8 504.8L335.0 499.7M339.8 504.8L341.6 498.0M354.5 490.9L356.9 505.6M356.9 505.6L352.4 499.8M356.9 505.6L359.4 498.7M372.7 490.9L373.3 505.7M373.3 505.7L369.5 499.5M373.3 505.7L376.6 499.2M390.9 490.9L389.6 505.4M389.6 505.4L386.7 498.9M389.6 505.4L393.6 499.5M409.1 490.9L406.1 503.8M406.1 503.8L404.3 497.6M406.1 503.8L410.4 499.0M427.3 490.9L423.1 503.2M423.1 503.2L422.0 496.9M423.1 503.2L427.8 498.9M445.5 490.9L441.0 503.1M441.0 503.1L440.0 496.8M441.0 503.1L445.8 498.9M463.6 490.9L459.4 503.2M459.4 503.2L458.3 496.9M459.4 503.2L464.1 498.9M481.8 490.9L477.5 503.7M477.5 503.7L476.3 497.2M477.5 503.7L482.4 499.3M500.0 490.9L495.2 505.8M495.2 505.8L493.7 498.3M495.2 505.8L500.8 500.5M518.2 490.9L513.1 507.3M513.1 507.3L511.4 499.1M513.1 507.3L519.2 501.5M536.4 490.9L530.4 508.8M530.4 508.8L528.7 499.7M530.4 508.8L537.2 502.5M554.5 490.9L548.6 508.8M548.6 508.8L546.9 499.7M548.6 508.8L555.4 502.5M572.7 490.9L566.9 508.7M566.9 508.7L565.2 499.7M566.9 508.7L573.6 502.4M590.9 490.9L584.8 508.3M584.8 508.3L583.3 499.4M584.8 508.3L591.5 502.3M609.1 490.9L602.1 507.7M602.1 507.7L601.1 498.8M602.1 507.7L609.1 502.1M627.3 490.9L620.9 507.5M620.9 507.5L619.7 498.9M620.9 507.5L627.6 501.9M645.5 490.9L640.1 506.4M640.1 506.4L638.7 498.5M640.1 506.4L646.1 501.1M663.6 490.9L659.2 505.4M659.2 505.4L657.7 498.1M659.2 505.4L664.6 500.2M681.8 490.9L678.5 504.3M678.5 504.3L676.7 497.8M678.5 504.3L683.1 499.3M700.0 490.9L697.6 503.4M697.6 503.4L695.7 497.5M697.6 503.4L701.6 498.6M718.2 490.9L716.5 502.2M716.5 502.2L714.5 497.0M716.5 502.2L719.9 497.8M736.4 490.9L735.2 501.2M735.2 501.2L733.3 496.5M735.2 501.2L738.2 497.1M754.5 490.9L754.1 499.2M754.1 499.2L752.3 495.5M754.1 499.2L756.3 495.7M772.7 490.9L772.9 498.0M772.9 498.0L771.2 495.0M772.9 498.0L774.5 494.9M790.9 490.9L791.5 497.0M791.5 497.0L789.8 494.5M791.5 497.0L792.7 494.2M300.0 509.1L302.3 516.8M302.3 516.8L299.5 514.0M302.3 516.8L303.2 512.9M318.2 509.1L321.2 519.9M321.2 519.9L317.3 515.9M321.2 519.9L322.4 514.5M336.4 509.1L339.4 521.2M339.4 521.2L335.2 516.7M339.4 521.2L341.0 515.3M354.5 509.1L356.6 521.7M356.6 521.7L352.7 516.8M356.6 521.7L358.7 515.8M372.7 509.1L373.7 522.3M373.7 522.3L370.2 516.9M373.7 522.3L376.5 516.4M390.9 509.1L390.0 523.1M390.0 523.1L387.1 516.9M390.0 523.1L393.7 517.3M409.1 509.1L406.1 523.6M406.1 523.6L403.9 516.7M406.1 523.6L410.8 518.1M427.3 509.1L422.0 523.8M422.0 523.8L420.8 516.3M422.0 523.8L427.8 518.8M445.5 509.1L440.3 524.1M440.3 524.1L438.9 516.5M440.3 524.1L446.1 518.9M463.6 509.1L458.5 524.7M458.5 524.7L457.0 516.8M458.5 524.7L464.4 519.2M481.8 509.1L477.1 524.0M477.1 524.0L475.6 516.5M477.1 524.0L482.7 518.7M500.0 509.1L495.1 525.6M495.1 525.6L493.3 517.3M495.1 525.6L501.1 519.7M518.2 509.1L513.0 527.1M513.0 527.1L511.0 518.1M513.0 527.1L519.5 520.6M536.4 509.1L531.1 527.9M531.1 527.9L528.9 518.6M531.1 527.9L537.8 521.1M554.5 509.1L549.3 528.1M549.3 528.1L547.0 518.7M549.3 528.1L556.0 521.2M572.7 509.1L567.6 527.7M567.6 527.7L565.4 518.5M567.6 527.7L574.2 520.9M590.9 509.1L585.9 527.7M585.9 527.7L583.6 518.5M585.9 527.7L592.5 520.9M609.1 509.1L604.3 527.0M604.3 527.0L602.1 518.2M604.3 527.0L610.6 520.5M627.3 509.1L623.5 526.7M623.5 526.7L621.0 518.3M623.5 526.7L629.3 520.0M645.5 509.1L642.9 525.3M642.9 525.3L640.1 517.8M642.9 525.3L647.8 519.0M663.6 509.1L662.1 523.9M662.1 523.9L659.2 517.2M662.1 523.9L666.3 517.9M681.8 509.1L681.1 522.6M681.1 522.6L678.2 516.6M681.1 522.6L684.6 517.0M700.0 509.1L700.0 521.8M700.0 521.8L697.0 516.4M700.0 521.8L703.0 516.4M718.2 509.1L718.6 520.5M718.6 520.5L715.7 515.7M718.6 520.5L721.2 515.5M736.4 509.1L737.2 519.4M737.2 519.4L734.4 515.2M737.2 519.4L739.3 514.8M754.5 509.1L755.5 517.3M755.5 517.3L753.1 514.0M755.5 517.3L757.1 513.6M772.7 509.1L773.8 516.1M773.8 516.1L771.7 513.3M773.8 516.1L775.0 512.8M790.9 509.1L792.1 514.9M792.1 514.9L790.2 512.7M792.1 514.9L792.9 512.1M281.8 527.3L285.6 538.6M285.6 538.6L281.3 534.6M285.6 538.6L286.7 532.9M300.0 527.3L303.3 538.2M303.3 538.2L299.3 534.3M303.3 538.2L304.5 532.7M318.2 527.3L321.4 539.3M321.4 539.3L317.1 534.9M321.4 539.3L322.9 533.4M336.4 527.3L339.0 538.9M339.0 538.9L335.1 534.6M339.0 538.9L340.7 533.3M354.5 527.3L356.4 539.6M356.4 539.6L352.7 534.8M356.4 539.6L358.6 533.9M372.7 527.3L373.6 540.5M373.6 540.5L370.1 535.1M373.6 540.5L376.4 534.6M390.9 527.3L390.7 541.6M390.7 541.6L387.4 535.4M390.7 541.6L394.2 535.5M409.1 527.3L407.1 543.6M407.1 543.6L404.1 536.1M407.1 543.6L411.8 537.1M427.3 527.3L422.6 544.4M422.6 544.4L420.6 536.0M422.6 544.4L428.7 538.2M445.5 527.3L440.9 544.8M440.9 544.8L438.7 536.2M440.9 544.8L447.0 538.4M463.6 527.3L459.3 545.2M459.3 545.2L456.9 536.5M459.3 545.2L465.4 538.5M481.8 527.3L477.8 544.6M477.8 544.6L475.4 536.2M477.8 544.6L483.6 538.1M500.0 527.3L496.0 545.5M496.0 545.5L493.4 536.8M496.0 545.5L502.1 538.7M518.2 527.3L514.4 545.9M514.4 545.9L511.6 537.0M514.4 545.9L520.4 538.8M536.4 527.3L532.6 546.2M532.6 546.2L529.7 537.2M532.6 546.2L538.7 539.0M554.5 527.3L550.8 546.3M550.8 546.3L547.9 537.2M550.8 546.3L556.9 539.0M572.7 527.3L569.2 545.9M569.2 545.9L566.3 537.1M569.2 545.9L575.1 538.8M590.9 527.3L587.7 545.5M587.7 545.5L584.7 536.9M587.7 545.5L593.4 538.5M609.1 527.3L606.1 544.9M606.1 544.9L603.2 536.7M606.1 544.9L611.6 538.1M627.3 527.3L625.0 544.1M625.0 544.1L622.0 536.3M625.0 544.1L630.0 537.4M645.5 527.3L643.9 543.0M643.9 543.0L640.8 535.9M643.9 543.0L648.3 536.6M663.6 527.3L662.8 541.9M662.8 541.9L659.7 535.4M662.8 541.9L666.6 535.8M681.8 527.3L681.7 540.8M681.7 540.8L678.6 535.0M681.7 540.8L685.0 535.0M700.0 527.3L700.6 540.0M700.6 540.0L697.3 534.7M700.6 540.0L703.4 534.4M718.2 527.3L719.1 538.7M719.1 538.7L716.0 534.0M719.1 538.7L721.4 533.6M736.4 527.3L737.7 537.6M737.7 537.6L734.7 533.5M737.7 537.6L739.5 532.9M754.5 527.3L756.0 535.4M756.0 535.4L753.5 532.3M756.0 535.4L757.3 531.6M772.7 527.3L774.4 533.9M774.4 533.9L772.1 531.4M774.4 533.9L775.3 530.6M790.9 527.3L792.8 532.8M792.8 532.8L790.7 530.9M792.8 532.8L793.3 530.0M263.6 545.5L269.4 561.7M269.4 561.7L263.1 556.1M269.4 561.7L270.8 553.3M281.8 545.5L287.7 563.8M287.7 563.8L280.8 557.3M287.7 563.8L289.5 554.6M300.0 545.5L305.1 563.5M305.1 563.5L298.6 556.9M305.1 563.5L307.2 554.5M318.2 545.5L322.3 562.2M322.3 562.2L316.5 556.0M322.3 562.2L324.5 554.0M336.4 545.5L339.7 561.5M339.7 561.5L334.5 555.4M339.7 561.5L342.1 553.8M354.5 545.5L356.9 561.7M356.9 561.7L352.0 555.3M356.9 561.7L359.7 554.2M372.7 545.5L373.7 562.1M373.7 562.1L369.3 555.2M373.7 562.1L377.3 554.7M390.9 545.5L390.5 562.1M390.5 562.1L386.7 554.9M390.5 562.1L394.7 555.1M409.1 545.5L407.2 563.1M407.2 563.1L403.8 555.1M407.2 563.1L412.2 556.0M427.3 545.5L423.9 563.4M423.9 563.4L421.1 554.9M423.9 563.4L429.6 556.5M445.5 545.5L442.3 563.7M442.3 563.7L439.3 555.1M442.3 563.7L448.0 556.7M463.6 545.5L460.6 564.1M460.6 564.1L457.5 555.4M460.6 564.1L466.3 556.8M481.8 545.5L479.1 563.4M479.1 563.4L476.0 555.1M479.1 563.4L484.5 556.3M500.0 545.5L497.4 564.1M497.4 564.1L494.1 555.5M497.4 564.1L503.0 556.7M518.2 545.5L515.8 564.3M515.8 564.3L512.4 555.6M515.8 564.3L521.3 556.8M536.4 545.5L534.2 564.4M534.2 564.4L530.6 555.8M534.2 564.4L539.6 556.8M554.5 545.5L552.6 564.2M552.6 564.2L549.0 555.7M552.6 564.2L557.9 556.6M572.7 545.5L571.0 563.7M571.0 563.7L567.4 555.5M571.0 563.7L576.1 556.3M590.9 545.5L589.5 562.6M589.5 562.6L586.0 554.9M589.5 562.6L594.2 555.6M609.1 545.5L607.9 561.6M607.9 561.6L604.6 554.4M607.9 561.6L612.3 554.9M627.3 545.5L626.7 560.9M626.7 560.9L623.3 554.1M626.7 560.9L630.6 554.4M645.5 545.5L645.4 560.3M645.4 560.3L641.9 553.9M645.4 560.3L648.9 553.9M663.6 545.5L664.0 559.5M664.0 559.5L660.5 553.6M664.0 559.5L667.2 553.4M681.8 545.5L682.6 558.7M682.6 558.7L679.1 553.2M682.6 558.7L685.4 552.8M700.0 545.5L701.1 557.9M701.1 557.9L697.7 552.8M701.1 557.9L703.6 552.3M718.2 545.5L720.1 556.7M720.1 556.7L716.6 552.3M720.1 556.7L721.9 551.5M736.4 545.5L738.8 555.3M738.8 555.3L735.4 551.6M738.8 555.3L740.1 550.5M754.5 545.5L757.1 553.3M757.1 553.3L754.1 550.6M757.1 553.3L757.9 549.4M772.7 545.5L775.4 552.0M775.4 552.0L772.7 549.8M775.4 552.0L775.8 548.5M790.9 545.5L793.5 550.7M793.5 550.7L791.2 549.1M793.5 550.7L793.7 547.8M245.5 563.6L252.7 579.3M252.7 579.3L245.9 574.3M252.7 579.3L253.3 570.9M263.6 563.6L269.9 583.5M269.9 583.5L262.5 576.5M269.9 583.5L271.9 573.5M281.8 563.6L287.9 584.6M287.9 584.6L280.3 577.0M287.9 584.6L290.2 574.2M300.0 563.6L305.2 583.6M305.2 583.6L298.2 576.3M305.2 583.6L307.7 573.8M318.2 563.6L322.4 582.4M322.4 582.4L316.1 575.4M322.4 582.4L325.0 573.4M336.4 563.6L339.9 582.3M339.9 582.3L333.9 575.1M339.9 582.3L342.8 573.5M354.5 563.6L357.1 582.6M357.1 582.6L351.5 575.1M357.1 582.6L360.5 573.9M372.7 563.6L374.5 582.8M374.5 582.8L369.2 575.0M374.5 582.8L378.3 574.2M390.9 563.6L391.5 582.5M391.5 582.5L386.8 574.5M391.5 582.5L395.7 574.3M409.1 563.6L408.1 582.2M408.1 582.2L404.1 574.0M408.1 582.2L412.9 574.5M427.3 563.6L425.2 581.8M425.2 581.8L421.8 573.5M425.2 581.8L430.4 574.5M445.5 563.6L443.0 581.8M443.0 581.8L439.8 573.4M443.0 581.8L448.4 574.6M463.6 563.6L461.7 581.7M461.7 581.7L458.3 573.5M461.7 581.7L466.8 574.4M481.8 563.6L480.2 581.8M480.2 581.8L476.6 573.7M480.2 581.8L485.2 574.4M500.0 563.6L498.6 581.9M498.6 581.9L494.9 573.7M498.6 581.9L503.6 574.4M518.2 563.6L517.0 582.1M517.0 582.1L513.1 573.9M517.0 582.1L521.9 574.5M536.4 563.6L535.5 582.2M535.5 582.2L531.5 574.0M535.5 582.2L540.3 574.4M554.5 563.6L554.0 581.9M554.0 581.9L549.9 573.9M554.0 581.9L558.5 574.2M572.7 563.6L572.4 580.7M572.4 580.7L568.5 573.3M572.4 580.7L576.6 573.5M590.9 563.6L590.8 579.2M590.8 579.2L587.1 572.5M590.8 579.2L594.5 572.6M609.1 563.6L609.1 578.3M609.1 578.3L605.6 572.0M609.1 578.3L612.6 572.0M627.3 563.6L627.8 577.9M627.8 577.9L624.2 571.9M627.8 577.9L630.9 571.7M645.5 563.6L646.4 577.5M646.4 577.5L642.7 571.8M646.4 577.5L649.3 571.4M663.6 563.6L664.9 577.0M664.9 577.0L661.2 571.6M664.9 577.0L667.5 571.0M681.8 563.6L683.3 576.3M683.3 576.3L679.6 571.2M683.3 576.3L685.7 570.5M700.0 563.6L701.6 575.5M701.6 575.5L698.1 570.8M701.6 575.5L703.7 570.0M718.2 563.6L720.5 574.6M720.5 574.6L716.9 570.4M720.5 574.6L722.1 569.3M736.4 563.6L739.1 573.1M739.1 573.1L735.7 569.7M739.1 573.1L740.2 568.4M754.5 563.6L757.4 571.4M757.4 571.4L754.3 568.8M757.4 571.4L758.0 567.4M772.7 563.6L775.8 570.3M775.8 570.3L772.9 568.2M775.8 570.3L776.0 566.7M790.9 563.6L793.8 569.0M793.8 569.0L791.3 567.4M793.8 569.0L793.9 566.0M209.1 581.8L217.6 595.2M217.6 595.2L210.8 591.5M217.6 595.2L217.1 587.5M227.3 581.8L235.9 596.7M235.9 596.7L228.6 592.4M235.9 596.7L235.7 588.3M245.5 581.8L253.2 600.2M253.2 600.2L245.5 594.2M253.2 600.2L254.2 590.5M263.6 581.8L269.6 603.2M269.6 603.2L261.9 595.5M269.6 603.2L272.1 592.6M281.8 581.8L287.4 604.1M287.4 604.1L279.7 595.9M287.4 604.1L290.3 593.2M300.0 581.8L304.6 602.5M304.6 602.5L297.7 594.7M304.6 602.5L307.5 592.6M318.2 581.8L322.0 601.4M322.0 601.4L315.7 593.9M322.0 601.4L325.0 592.1M336.4 581.8L339.7 601.8M339.7 601.8L333.5 594.0M339.7 601.8L343.0 592.4M354.5 581.8L357.1 602.2M357.1 602.2L351.2 594.1M357.1 602.2L360.8 592.9M372.7 581.8L374.4 602.3M374.4 602.3L368.8 593.9M374.4 602.3L378.6 593.1M390.9 581.8L391.7 601.3M391.7 601.3L386.7 593.2M391.7 601.3L396.0 592.8M409.1 581.8L409.1 600.4M409.1 600.4L404.7 592.4M409.1 600.4L413.5 592.4M427.3 581.8L426.6 600.1M426.6 600.1L422.5 592.1M426.6 600.1L431.2 592.4M445.5 581.8L444.1 600.0M444.1 600.0L440.4 591.9M444.1 600.0L449.0 592.6M463.6 581.8L462.2 600.2M462.2 600.2L458.4 592.0M462.2 600.2L467.2 592.7M481.8 581.8L480.8 600.2M480.8 600.2L476.9 592.1M480.8 600.2L485.6 592.6M500.0 581.8L499.5 600.2M499.5 600.2L495.3 592.2M499.5 600.2L504.1 592.5M518.2 581.8L518.2 600.1M518.2 600.1L513.8 592.3M518.2 600.1L522.5 592.3M536.4 581.8L536.6 600.0M536.6 600.0L532.2 592.3M536.6 600.0L540.8 592.1M554.5 581.8L555.1 599.5M555.1 599.5L550.7 592.1M555.1 599.5L559.1 591.8M572.7 581.8L573.5 598.2M573.5 598.2L569.3 591.4M573.5 598.2L577.1 591.0M590.9 581.8L591.8 596.8M591.8 596.8L587.9 590.6M591.8 596.8L595.0 590.1M609.1 581.8L610.2 595.9M610.2 595.9L606.4 590.1M610.2 595.9L613.0 589.6M627.3 581.8L628.6 595.5M628.6 595.5L624.8 590.0M628.6 595.5L631.3 589.3M645.5 581.8L647.1 595.3M647.1 595.3L643.2 589.9M647.1 595.3L649.6 589.1M663.6 581.8L665.5 594.9M665.5 594.9L661.6 589.7M665.5 594.9L667.8 588.8M681.8 581.8L683.8 594.4M683.8 594.4L680.0 589.5M683.8 594.4L686.0 588.5M700.0 581.8L702.1 593.6M702.1 593.6L698.4 589.0M702.1 593.6L704.0 588.0M718.2 581.8L721.0 592.6M721.0 592.6L717.2 588.7M721.0 592.6L722.3 587.3M736.4 581.8L739.5 591.2M739.5 591.2L735.9 587.9M739.5 591.2L740.4 586.4M754.5 581.8L757.8 589.5M757.8 589.5L754.6 587.0M757.8 589.5L758.2 585.4M772.7 581.8L776.0 588.3M776.0 588.3L773.1 586.3M776.0 588.3L776.2 584.8M790.9 581.8L794.0 587.0M794.0 587.0L791.5 585.5M794.0 587.0L793.9 584.1M136.4 600.0L142.1 605.7M142.1 605.7L138.3 604.6M142.1 605.7L141.0 601.9M154.5 600.0L161.2 607.3M161.2 607.3L156.6 605.7M161.2 607.3L160.1 602.6M172.7 600.0L180.1 608.8M180.1 608.8L174.8 606.7M180.1 608.8L179.0 603.3M190.9 600.0L198.5 609.9M198.5 609.9L192.9 607.5M198.5 609.9L197.6 603.9M209.1 600.0L216.1 610.0M216.1 610.0L210.7 607.4M216.1 610.0L215.5 604.1M227.3 600.0L235.3 613.4M235.3 613.4L228.7 609.6M235.3 613.4L235.0 605.8M245.5 600.0L253.6 616.2M253.6 616.2L246.2 611.2M253.6 616.2L253.9 607.3M263.6 600.0L270.1 618.2M270.1 618.2L263.0 611.9M270.1 618.2L271.6 608.8M281.8 600.0L286.0 618.9M286.0 618.9L279.7 611.8M286.0 618.9L288.7 609.8M300.0 600.0L303.6 618.8M303.6 618.8L297.6 611.6M303.6 618.8L306.5 609.9M318.2 600.0L321.2 618.3M321.2 618.3L315.6 611.2M321.2 618.3L324.3 609.7M336.4 600.0L338.7 618.7M338.7 618.7L333.3 611.2M338.7 618.7L342.1 610.1M354.5 600.0L356.2 619.8M356.2 619.8L350.8 611.7M356.2 619.8L360.2 610.9M372.7 600.0L373.6 620.4M373.6 620.4L368.4 611.8M373.6 620.4L378.0 611.4M390.9 600.0L390.9 620.1M390.9 620.1L386.1 611.5M390.9 620.1L395.7 611.5M409.1 600.0L409.5 619.1M409.5 619.1L404.8 611.0M409.5 619.1L413.8 610.8M427.3 600.0L427.5 618.4M427.5 618.4L423.0 610.6M427.5 618.4L431.8 610.5M445.5 600.0L445.5 618.1M445.5 618.1L441.1 610.4M445.5 618.1L449.8 610.4M463.6 600.0L463.0 618.1M463.0 618.1L458.9 610.2M463.0 618.1L467.6 610.5M481.8 600.0L481.3 618.1M481.3 618.1L477.2 610.2M481.3 618.1L485.9 610.5M500.0 600.0L500.0 618.1M500.0 618.1L495.7 610.4M500.0 618.1L504.3 610.4M518.2 600.0L519.2 618.1M519.2 618.1L514.5 610.6M519.2 618.1L523.1 610.1M536.4 600.0L537.5 618.0M537.5 618.0L532.7 610.6M537.5 618.0L541.3 610.0M554.5 600.0L555.7 617.5M555.7 617.5L551.1 610.3M555.7 617.5L559.4 609.7M572.7 600.0L574.0 616.5M574.0 616.5L569.6 609.7M574.0 616.5L577.4 609.1M590.9 600.0L592.3 615.2M592.3 615.2L588.1 609.0M592.3 615.2L595.3 608.4M609.1 600.0L610.7 614.3M610.7 614.3L606.6 608.5M610.7 614.3L613.4 607.8M627.3 600.0L629.4 613.8M629.4 613.8L625.2 608.4M629.4 613.8L631.7 607.4M645.5 600.0L648.0 613.3M648.0 613.3L643.8 608.2M648.0 613.3L650.1 607.0M663.6 600.0L666.5 612.7M666.5 612.7L662.3 608.0M666.5 612.7L668.3 606.6M681.8 600.0L684.8 611.9M684.8 611.9L680.7 607.5M684.8 611.9L686.3 606.1M700.0 600.0L703.0 611.0M703.0 611.0L699.1 607.0M703.0 611.0L704.3 605.6M718.2 600.0L721.8 610.3M721.8 610.3L717.8 606.7M721.8 610.3L722.7 605.0M736.4 600.0L740.2 608.8M740.2 608.8L736.5 605.9M740.2 608.8L740.6 604.1M754.5 600.0L758.4 607.3M758.4 607.3L755.0 605.1M758.4 607.3L758.5 603.3M772.7 600.0L776.8 606.3M776.8 606.3L773.6 604.6M776.8 606.3L776.6 602.6M790.9 600.0L795.2 605.6M795.2 605.6L792.1 604.2M795.2 605.6L794.7 602.1M27.3 618.2L23.6 620.6M23.6 620.6L24.6 618.7M23.6 620.6L25.8 620.5M45.5 618.2L43.3 621.0M43.3 621.0L43.5 619.3M43.3 621.0L44.9 620.3M63.6 618.2L63.8 620.9M63.8 620.9L63.1 619.8M63.8 620.9L64.4 619.7M81.8 618.2L83.4 619.8M83.4 619.8L82.3 619.5M83.4 619.8L83.1 618.7M100.0 618.2L102.3 619.3M102.3 619.3L101.0 619.4M102.3 619.3L101.6 618.3M118.2 618.2L121.3 618.5M121.3 618.5L119.9 619.1M121.3 618.5L120.1 617.6M136.4 618.2L140.6 618.2M140.6 618.2L138.8 619.2M140.6 618.2L138.8 617.2M154.5 618.2L158.6 621.2M158.6 621.2L156.1 620.9M158.6 621.2L157.6 619.0M172.7 618.2L177.9 621.5M177.9 621.5L174.9 621.3M177.9 621.5L176.4 618.8M190.9 618.2L196.7 621.2M196.7 621.2L193.5 621.3M196.7 621.2L194.9 618.5M209.1 618.2L214.4 623.5M214.4 623.5L210.9 622.5M214.4 623.5L213.4 620.0M227.3 618.2L233.5 626.5M233.5 626.5L228.9 624.4M233.5 626.5L232.8 621.4M245.5 618.2L251.4 628.9M251.4 628.9L246.3 625.7M251.4 628.9L251.4 622.9M263.6 618.2L268.8 630.7M268.8 630.7L263.6 626.6M268.8 630.7L269.6 624.1M281.8 618.2L285.6 631.4M285.6 631.4L280.8 626.7M285.6 631.4L287.1 624.9M300.0 618.2L302.2 631.5M302.2 631.5L298.1 626.3M302.2 631.5L304.4 625.3M318.2 618.2L320.0 633.2M320.0 633.2L315.7 627.2M320.0 633.2L322.8 626.3M336.4 618.2L337.7 634.3M337.7 634.3L333.3 627.7M337.7 634.3L341.0 627.1M354.5 618.2L355.3 635.6M355.3 635.6L350.8 628.3M355.3 635.6L359.1 628.0M372.7 618.2L372.7 636.2M372.7 636.2L368.5 628.5M372.7 636.2L377.0 628.5M390.9 618.2L391.3 636.3M391.3 636.3L386.8 628.6M391.3 636.3L395.4 628.5M409.1 618.2L409.8 636.3M409.8 636.3L405.2 628.7M409.8 636.3L413.8 628.4M427.3 618.2L427.8 635.9M427.8 635.9L423.4 628.4M427.8 635.9L431.8 628.2M445.5 618.2L445.8 634.9M445.8 634.9L441.7 627.8M445.8 634.9L449.6 627.6M463.6 618.2L463.8 634.9M463.8 634.9L459.8 627.8M463.8 634.9L467.7 627.7M481.8 618.2L481.8 634.9M481.8 634.9L477.9 627.7M481.8 634.9L485.8 627.7M500.0 618.2L501.0 635.4M501.0 635.4L496.5 628.2M501.0 635.4L504.7 627.8M518.2 618.2L520.2 635.7M520.2 635.7L515.2 628.7M520.2 635.7L523.5 627.7M536.4 618.2L538.5 636.1M538.5 636.1L533.4 628.9M538.5 636.1L541.9 627.9M554.5 618.2L556.8 635.9M556.8 635.9L551.6 628.8M556.8 635.9L560.0 627.8M572.7 618.2L575.0 635.2M575.0 635.2L570.0 628.4M575.0 635.2L578.1 627.4M590.9 618.2L593.1 634.2M593.1 634.2L588.4 627.9M593.1 634.2L596.0 626.8M609.1 618.2L611.2 633.3M611.2 633.3L606.7 627.3M611.2 633.3L613.9 626.3M627.3 618.2L629.9 632.6M629.9 632.6L625.4 627.0M629.9 632.6L632.2 625.8M645.5 618.2L648.6 631.9M648.6 631.9L644.0 626.8M648.6 631.9L650.5 625.3M663.6 618.2L667.2 631.2M667.2 631.2L662.6 626.5M667.2 631.2L668.8 624.8M681.8 618.2L685.6 630.1M685.6 630.1L681.2 625.9M685.6 630.1L686.8 624.1M700.0 618.2L703.9 628.9M703.9 628.9L699.7 625.2M703.9 628.9L704.8 623.4M718.2 618.2L722.9 628.3M722.9 628.3L718.5 625.1M722.9 628.3L723.3 622.9M736.4 618.2L741.3 626.7M741.3 626.7L737.1 624.2M741.3 626.7L741.2 621.9M754.5 618.2L759.6 625.4M759.6 625.4L755.7 623.5M759.6 625.4L759.1 621.1M772.7 618.2L777.9 624.3M777.9 624.3L774.2 622.9M777.9 624.3L777.2 620.5M790.9 618.2L796.2 623.5M796.2 623.5L792.7 622.5M796.2 623.5L795.2 620.0M9.1 636.4L2.9 641.5M2.9 641.5L4.3 637.8M2.9 641.5L6.8 640.8M27.3 636.4L23.3 639.1M23.3 639.1L24.4 637.0M23.3 639.1L25.7 638.9M45.5 636.4L41.8 637.4M41.8 637.4L43.1 636.1M41.8 637.4L43.6 637.8M63.6 636.4L61.2 635.1M61.2 635.1L62.6 635.1M61.2 635.1L62.0 636.2M81.8 636.4L80.9 633.6M80.9 633.6L81.9 634.5M80.9 633.6L80.6 635.0M100.0 636.4L100.0 633.4M100.0 633.4L100.7 634.7M100.0 633.4L99.3 634.7M118.2 636.4L119.1 633.6M119.1 633.6L119.4 635.0M119.1 633.6L118.1 634.5M136.4 636.4L138.6 634.1M138.6 634.1L138.2 635.6M138.6 634.1L137.1 634.6M154.5 636.4L157.9 634.7M157.9 634.7L156.9 636.2M157.9 634.7L156.1 634.6M172.7 636.4L176.9 636.4M176.9 636.4L175.1 637.4M176.9 636.4L175.1 635.4M190.9 636.4L194.5 637.6M194.5 637.6L192.7 637.9M194.5 637.6L193.2 636.2M209.1 636.4L212.1 639.3M212.1 639.3L210.1 638.8M212.1 639.3L211.5 637.4M227.3 636.4L230.1 641.8M230.1 641.8L227.6 640.1M230.1 641.8L230.2 638.8M245.5 636.4L248.1 644.0M248.1 644.0L245.2 641.3M248.1 644.0L248.8 640.1M263.6 636.4L265.6 646.0M265.6 646.0L262.4 642.3M265.6 646.0L267.0 641.4M281.8 636.4L282.7 647.5M282.7 647.5L279.7 642.9M282.7 647.5L285.0 642.5M300.0 636.4L301.1 649.1M301.1 649.1L297.6 643.9M301.1 649.1L303.6 643.4M318.2 636.4L319.3 649.6M319.3 649.6L315.7 644.2M319.3 649.6L321.9 643.7M336.4 636.4L337.7 652.5M337.7 652.5L333.3 645.9M337.7 652.5L341.0 645.2M354.5 636.4L355.3 653.8M355.3 653.8L350.8 646.5M355.3 653.8L359.1 646.2M372.7 636.4L372.7 654.5M372.7 654.5L368.4 646.7M372.7 654.5L377.0 646.7M390.9 636.4L391.4 654.5M391.4 654.5L386.9 646.9M391.4 654.5L395.5 646.6M409.1 636.4L410.1 653.3M410.1 653.3L405.6 646.3M410.1 653.3L413.7 645.8M427.3 636.4L428.4 653.0M428.4 653.0L423.9 646.1M428.4 653.0L431.9 645.6M445.5 636.4L446.6 652.5M446.6 652.5L442.3 645.8M446.6 652.5L449.9 645.3M463.6 636.4L464.9 652.2M464.9 652.2L460.6 645.7M464.9 652.2L468.1 645.1M481.8 636.4L483.2 652.2M483.2 652.2L478.8 645.7M483.2 652.2L486.4 645.1M500.0 636.4L502.1 652.4M502.1 652.4L497.4 646.0M502.1 652.4L505.0 645.0M518.2 636.4L521.1 653.1M521.1 653.1L515.9 646.6M521.1 653.1L523.8 645.2M536.4 636.4L540.1 653.9M540.1 653.9L534.3 647.3M540.1 653.9L542.7 645.5M554.5 636.4L559.0 653.9M559.0 653.9L552.9 647.5M559.0 653.9L561.3 645.4M572.7 636.4L577.8 653.6M577.8 653.6L571.5 647.4M577.8 653.6L579.7 645.0M590.9 636.4L596.4 652.7M596.4 652.7L590.1 647.0M596.4 652.7L597.9 644.4M609.1 636.4L614.8 651.7M614.8 651.7L608.7 646.5M614.8 651.7L616.0 643.8M627.3 636.4L633.2 651.0M633.2 651.0L627.2 646.1M633.2 651.0L634.1 643.3M645.5 636.4L651.5 650.3M651.5 650.3L645.6 645.8M651.5 650.3L652.2 642.9M663.6 636.4L669.8 649.5M669.8 649.5L664.0 645.3M669.8 649.5L670.3 642.4M681.8 636.4L688.0 648.7M688.0 648.7L682.4 644.9M688.0 648.7L688.3 641.9M700.0 636.4L706.1 647.8M706.1 647.8L700.8 644.4M706.1 647.8L706.2 641.5M718.2 636.4L724.4 646.6M724.4 646.6L719.3 643.7M724.4 646.6L724.2 640.7M736.4 636.4L742.6 645.3M742.6 645.3L737.8 643.0M742.6 645.3L742.0 640.0M754.5 636.4L760.6 644.1M760.6 644.1L756.2 642.2M760.6 644.1L759.9 639.3M772.7 636.4L778.7 643.1M778.7 643.1L774.6 641.7M778.7 643.1L777.8 638.8M790.9 636.4L797.0 642.4M797.0 642.4L792.9 641.3M797.0 642.4L795.8 638.4M9.1 654.5L2.4 660.3M2.4 660.3L3.9 656.2M2.4 660.3L6.6 659.4M27.3 654.5L23.2 657.6M23.2 657.6L24.2 655.3M23.2 657.6L25.7 657.2M45.5 654.5L41.7 655.8M41.7 655.8L43.0 654.4M41.7 655.8L43.6 656.2M63.6 654.5L61.0 653.2M61.0 653.2L62.4 653.2M61.0 653.2L61.8 654.4M81.8 654.5L80.7 651.2M80.7 651.2L82.0 652.3M80.7 651.2L80.4 652.9M100.0 654.5L100.0 651.4M100.0 651.4L100.7 652.7M100.0 651.4L99.3 652.7M118.2 654.5L119.1 651.8M119.1 651.8L119.4 653.2M119.1 651.8L118.1 652.7M136.4 654.5L138.0 652.1M138.0 652.1L137.9 653.5M138.0 652.1L136.7 652.8M154.5 654.5L157.3 653.1M157.3 653.1L156.5 654.4M157.3 653.1L155.8 653.0M172.7 654.5L175.2 654.5M175.2 654.5L174.2 655.1M175.2 654.5L174.2 653.9M190.9 654.5L192.2 655.9M192.2 655.9L191.4 655.6M192.2 655.9L192.0 655.0M209.1 654.5L210.3 656.5M210.3 656.5L209.3 656.0M210.3 656.5L210.3 655.4M227.3 654.5L228.6 658.5M228.6 658.5L227.1 657.1M228.6 658.5L229.0 656.5M245.5 654.5L246.4 660.1M246.4 660.1L244.6 658.0M246.4 660.1L247.3 657.5M263.6 654.5L263.6 662.6M263.6 662.6L261.7 659.1M263.6 662.6L265.5 659.1M281.8 654.5L281.8 664.4M281.8 664.4L279.5 660.2M281.8 664.4L284.2 660.2M300.0 654.5L300.0 666.2M300.0 666.2L297.2 661.2M300.0 666.2L302.8 661.2M318.2 654.5L318.2 667.0M318.2 667.0L315.2 661.7M318.2 667.0L321.1 661.7M336.4 654.5L336.4 669.4M336.4 669.4L332.8 663.0M336.4 669.4L339.9 663.0M354.5 654.5L354.5 670.7M354.5 670.7L350.7 663.8M354.5 670.7L358.4 663.8M372.7 654.5L372.7 671.2M372.7 671.2L368.8 664.1M372.7 671.2L376.7 664.1M390.9 654.5L391.6 671.2M391.6 671.2L387.3 664.2M391.6 671.2L395.3 663.9M409.1 654.5L411.1 670.1M411.1 670.1L406.5 663.9M411.1 670.1L413.9 662.9M427.3 654.5L429.5 669.8M429.5 669.8L424.9 663.8M429.5 669.8L432.2 662.7M445.5 654.5L447.8 669.2M447.8 669.2L443.3 663.5M447.8 669.2L450.3 662.4M463.6 654.5L466.0 668.9M466.0 668.9L461.6 663.3M466.0 668.9L468.4 662.2M481.8 654.5L484.3 668.9M484.3 668.9L479.8 663.3M484.3 668.9L486.7 662.2M500.0 654.5L503.2 669.3M503.2 669.3L498.3 663.7M503.2 669.3L505.4 662.2M518.2 654.5L522.2 670.2M522.2 670.2L516.8 664.4M522.2 670.2L524.2 662.5M536.4 654.5L541.4 671.8M541.4 671.8L535.1 665.6M541.4 671.8L543.3 663.2M554.5 654.5L560.3 672.0M560.3 672.0L553.7 665.9M560.3 672.0L562.0 663.2M572.7 654.5L579.1 671.7M579.1 671.7L572.3 665.9M579.1 671.7L580.4 662.8M590.9 654.5L597.8 671.2M597.8 671.2L590.9 665.7M597.8 671.2L598.8 662.4M609.1 654.5L615.7 670.4M615.7 670.4L609.1 665.2M615.7 670.4L616.6 662.1M627.3 654.5L634.2 670.0M634.2 670.0L627.5 665.0M634.2 670.0L634.9 661.7M645.5 654.5L652.5 669.4M652.5 669.4L646.0 664.7M652.5 669.4L653.0 661.3M663.6 654.5L670.8 668.5M670.8 668.5L664.4 664.2M670.8 668.5L671.0 660.8M681.8 654.5L689.0 667.6M689.0 667.6L682.8 663.7M689.0 667.6L689.0 660.3M700.0 654.5L707.1 666.7M707.1 666.7L701.2 663.2M707.1 666.7L707.0 659.8M718.2 654.5L725.6 665.6M725.6 665.6L719.8 662.6M725.6 665.6L725.0 659.1M736.4 654.5L743.9 664.5M743.9 664.5L738.3 662.0M743.9 664.5L743.0 658.4M754.5 654.5L762.0 663.2M762.0 663.2L756.7 661.3M762.0 663.2L760.9 657.7M772.7 654.5L780.1 662.2M780.1 662.2L775.1 660.7M780.1 662.2L778.8 657.2M790.9 654.5L798.2 661.2M798.2 661.2L793.5 660.1M798.2 661.2L796.6 656.6M9.1 672.7L2.3 678.7M2.3 678.7L3.8 674.5M2.3 678.7L6.6 677.8M27.3 672.7L23.0 676.1M23.0 676.1L24.0 673.6M23.0 676.1L25.6 675.7M45.5 672.7L41.3 674.3M41.3 674.3L42.7 672.6M41.3 674.3L43.5 674.6M63.6 672.7L60.6 671.3M60.6 671.3L62.2 671.2M60.6 671.3L61.6 672.6M81.8 672.7L80.7 669.3M80.7 669.3L82.0 670.5M80.7 669.3L80.4 671.0M100.0 672.7L100.0 669.6M100.0 669.6L100.7 670.9M100.0 669.6L99.3 670.9M118.2 672.7L118.2 669.8M118.2 669.8L118.9 671.0M118.2 669.8L117.5 671.0M136.4 672.7L137.5 670.5M137.5 670.5L137.5 671.7M137.5 670.5L136.5 671.2M154.5 672.7L156.7 671.4M156.7 671.4L156.1 672.5M156.7 671.4L155.5 671.5M172.7 672.7L174.6 672.7M174.6 672.7L173.8 673.2M174.6 672.7L173.8 672.3M190.9 672.7L192.0 673.4M192.0 673.4L191.4 673.3M192.0 673.4L191.7 672.8M209.1 672.7L210.3 673.9M210.3 673.9L209.5 673.7M210.3 673.9L210.1 673.1M227.3 672.7L228.4 675.7M228.4 675.7L227.2 674.7M228.4 675.7L228.6 674.1M245.5 672.7L245.8 677.1M245.8 677.1L244.6 675.3M245.8 677.1L246.7 675.2M263.6 672.7L263.6 679.3M263.6 679.3L262.1 676.5M263.6 679.3L265.2 676.5M281.8 672.7L281.8 681.5M281.8 681.5L279.7 677.8M281.8 681.5L283.9 677.8M300.0 672.7L300.2 683.1M300.2 683.1L297.6 678.7M300.2 683.1L302.6 678.6M318.2 672.7L318.8 683.9M318.8 683.9L315.9 679.2M318.8 683.9L321.2 679.0M336.4 672.7L337.0 684.9M337.0 684.9L333.9 679.9M337.0 684.9L339.6 679.5M354.5 672.7L355.3 685.7M355.3 685.7L351.9 680.3M355.3 685.7L358.0 680.0M372.7 672.7L373.4 686.2M373.4 686.2L369.9 680.6M373.4 686.2L376.3 680.3M390.9 672.7L391.8 686.2M391.8 686.2L388.2 680.7M391.8 686.2L394.6 680.2M409.1 672.7L411.9 687.0M411.9 687.0L407.3 681.6M411.9 687.0L414.1 680.2M427.3 672.7L430.3 686.7M430.3 686.7L425.7 681.4M430.3 686.7L432.4 680.0M445.5 672.7L448.7 686.1M448.7 686.1L444.1 681.2M448.7 686.1L450.5 679.6M463.6 672.7L467.0 685.8M467.0 685.8L462.4 681.0M467.0 685.8L468.7 679.4M481.8 672.7L485.3 685.8M485.3 685.8L480.7 681.0M485.3 685.8L486.9 679.4M500.0 672.7L504.2 686.4M504.2 686.4L499.1 681.5M504.2 686.4L505.6 679.6M518.2 672.7L523.2 687.5M523.2 687.5L517.5 682.4M523.2 687.5L524.6 680.0M536.4 672.7L542.6 689.3M542.6 689.3L536.0 683.7M542.6 689.3L543.9 680.7M554.5 672.7L561.6 689.7M561.6 689.7L554.5 684.1M561.6 689.7L562.6 680.8M572.7 672.7L580.4 689.5M580.4 689.5L573.1 684.1M580.4 689.5L581.1 680.5M590.9 672.7L598.5 689.4M598.5 689.4L591.3 684.0M598.5 689.4L599.2 680.4M609.1 672.7L616.6 689.1M616.6 689.1L609.5 683.9M616.6 689.1L617.3 680.3M627.3 672.7L635.1 688.7M635.1 688.7L627.9 683.7M635.1 688.7L635.5 680.0M645.5 672.7L653.4 688.0M653.4 688.0L646.4 683.3M653.4 688.0L653.6 679.5M663.6 672.7L671.8 687.3M671.8 687.3L664.9 683.0M671.8 687.3L671.8 679.1M681.8 672.7L690.1 686.3M690.1 686.3L683.3 682.5M690.1 686.3L689.8 678.5M700.0 672.7L708.2 685.4M708.2 685.4L701.7 681.9M708.2 685.4L707.7 678.0M718.2 672.7L726.8 684.5M726.8 684.5L720.3 681.5M726.8 684.5L725.9 677.4M736.4 672.7L745.2 683.3M745.2 683.3L738.9 680.9M745.2 683.3L743.9 676.7M754.5 672.7L763.5 682.2M763.5 682.2L757.4 680.3M763.5 682.2L761.9 676.0M772.7 672.7L781.8 681.3M781.8 681.3L775.9 679.8M781.8 681.3L779.9 675.5M790.9 672.7L800.1 680.4M800.1 680.4L794.3 679.3M800.1 680.4L798.0 674.9M9.1 690.9L2.0 697.3M2.0 697.3L3.5 692.9M2.0 697.3L6.5 696.3M27.3 690.9L22.6 694.8M22.6 694.8L23.7 692.0M22.6 694.8L25.5 694.2M45.5 690.9L40.9 693.0M40.9 693.0L42.3 691.0M40.9 693.0L43.3 693.2M63.6 690.9L59.6 690.9M59.6 690.9L61.4 689.9M59.6 690.9L61.3 691.8M81.8 690.9L78.6 688.9M78.6 688.9L80.4 689.0M78.6 688.9L79.5 690.6M100.0 690.9L97.9 688.0M97.9 688.0L99.5 688.8M97.9 688.0L98.1 689.8M118.2 690.9L116.5 688.2M116.5 688.2L117.9 689.0M116.5 688.2L116.6 689.8M136.4 690.9L136.0 688.4M136.0 688.4L136.7 689.4M136.0 688.4L135.5 689.6M154.5 690.9L155.4 688.8M155.4 688.8L155.6 689.9M155.4 688.8L154.5 689.5M172.7 690.9L174.5 690.2M174.5 690.2L173.9 690.9M174.5 690.2L173.6 690.1M190.9 690.9L192.1 691.2M192.1 691.2L191.5 691.4M192.1 691.2L191.7 690.8M209.1 690.9L210.2 691.6M210.2 691.6L209.5 691.5M210.2 691.6L209.9 691.0M227.3 690.9L228.3 693.2M228.3 693.2L227.3 692.5M228.3 693.2L228.4 692.0M245.5 690.9L245.5 694.5M245.5 694.5L244.6 692.9M245.5 694.5L246.3 692.9M263.6 690.9L263.6 695.9M263.6 695.9L262.4 693.8M263.6 695.9L264.8 693.8M281.8 690.9L281.8 697.7M281.8 697.7L280.2 694.8M281.8 697.7L283.4 694.8M300.0 690.9L300.3 699.2M300.3 699.2L298.2 695.7M300.3 699.2L302.1 695.6M318.2 690.9L318.9 700.2M318.9 700.2L316.4 696.4M318.9 700.2L320.8 696.1M336.4 690.9L337.6 701.7M337.6 701.7L334.5 697.4M337.6 701.7L339.6 696.8M354.5 690.9L355.7 702.3M355.7 702.3L352.5 697.7M355.7 702.3L357.9 697.1M372.7 690.9L373.9 702.8M373.9 702.8L370.6 698.0M373.9 702.8L376.2 697.4M390.9 690.9L392.0 703.1M392.0 703.1L388.7 698.1M392.0 703.1L394.4 697.6M409.1 690.9L412.3 702.7M412.3 702.7L408.1 698.4M412.3 702.7L413.7 696.9M427.3 690.9L430.6 702.1M430.6 702.1L426.5 698.1M430.6 702.1L431.8 696.5M445.5 690.9L448.6 701.1M448.6 701.1L444.9 697.5M448.6 701.1L449.7 696.0M463.6 690.9L466.9 700.7M466.9 700.7L463.2 697.3M466.9 700.7L467.9 695.7M481.8 690.9L485.4 700.9M485.4 700.9L481.5 697.5M485.4 700.9L486.2 695.8M500.0 690.9L504.4 702.0M504.4 702.0L499.8 698.3M504.4 702.0L505.1 696.2M518.2 690.9L524.1 704.8M524.1 704.8L518.3 700.3M524.1 704.8L524.9 697.4M536.4 690.9L543.8 707.0M543.8 707.0L536.8 701.9M543.8 707.0L544.4 698.3M554.5 690.9L563.0 707.8M563.0 707.8L555.4 702.5M563.0 707.8L563.4 698.5M572.7 690.9L581.2 707.9M581.2 707.9L573.5 702.6M581.2 707.9L581.6 698.6M590.9 690.9L599.3 707.8M599.3 707.8L591.7 702.5M599.3 707.8L599.7 698.5M609.1 690.9L617.5 707.6M617.5 707.6L609.9 702.5M617.5 707.6L617.8 698.5M627.3 690.9L636.0 707.1M636.0 707.1L628.4 702.3M636.0 707.1L636.1 698.1M645.5 690.9L654.6 706.6M654.6 706.6L646.9 702.0M654.6 706.6L654.4 697.7M663.6 690.9L673.0 706.0M673.0 706.0L665.4 701.7M673.0 706.0L672.6 697.3M681.8 690.9L691.2 705.0M691.2 705.0L683.9 701.2M691.2 705.0L690.5 696.7M700.0 690.9L709.5 704.3M709.5 704.3L702.3 700.8M709.5 704.3L708.6 696.3M718.2 690.9L728.2 703.3M728.2 703.3L720.9 700.4M728.2 703.3L726.8 695.6M736.4 690.9L746.7 702.3M746.7 702.3L739.6 699.9M746.7 702.3L745.0 695.0M754.5 690.9L765.2 701.3M765.2 701.3L758.2 699.4M765.2 701.3L763.1 694.3M772.7 690.9L783.5 700.3M783.5 700.3L776.7 698.8M783.5 700.3L781.1 693.7M790.9 690.9L802.1 699.5M802.1 699.5L795.2 698.5M802.1 699.5L799.3 693.2M9.1 709.1L1.5 716.1M1.5 716.1L3.1 711.3M1.5 716.1L6.4 714.9M27.3 709.1L22.0 713.4M22.0 713.4L23.2 710.3M22.0 713.4L25.3 712.8M45.5 709.1L40.5 711.9M40.5 711.9L42.0 709.5M40.5 711.9L43.3 711.9M63.6 709.1L59.3 710.7M59.3 710.7L60.8 709.0M59.3 710.7L61.5 711.0M81.8 709.1L77.4 709.1M77.4 709.1L79.3 708.0M77.4 709.1L79.3 710.1M100.0 709.1L96.4 707.9M96.4 707.9L98.2 707.6M96.4 707.9L97.7 709.3M118.2 709.1L115.4 707.7M115.4 707.7L116.9 707.6M115.4 707.7L116.2 709.0M136.4 709.1L134.6 707.3M134.6 707.3L135.8 707.6M134.6 707.3L134.9 708.5M154.5 709.1L154.5 707.2M154.5 707.2L155.0 708.0M154.5 707.2L154.1 708.0M172.7 709.1L174.1 707.8M174.1 707.8L173.8 708.6M174.1 707.8L173.2 708.0M190.9 709.1L192.6 709.1M192.6 709.1L191.9 709.5M192.6 709.1L191.9 708.7M209.1 709.1L210.6 709.7M210.6 709.7L209.8 709.8M210.6 709.7L210.1 709.1M227.3 709.1L228.8 710.9M228.8 710.9L227.7 710.5M228.8 710.9L228.5 709.7M245.5 709.1L246.2 711.5M246.2 711.5L245.3 710.6M246.2 711.5L246.4 710.3M263.6 709.1L264.7 712.7M264.7 712.7L263.4 711.4M264.7 712.7L265.1 710.9M281.8 709.1L283.2 713.9M283.2 713.9L281.5 712.2M283.2 713.9L283.8 711.5M300.0 709.1L301.9 715.4M301.9 715.4L299.6 713.1M301.9 715.4L302.6 712.2M318.2 709.1L320.6 716.2M320.6 716.2L317.9 713.8M320.6 716.2L321.3 712.6M336.4 709.1L338.7 717.6M338.7 717.6L335.7 714.5M338.7 717.6L339.7 713.4M354.5 709.1L357.3 718.3M357.3 718.3L353.9 715.0M357.3 718.3L358.3 713.7M372.7 709.1L375.5 718.6M375.5 718.6L372.0 715.1M375.5 718.6L376.5 713.9M390.9 709.1L393.8 718.8M393.8 718.8L390.2 715.3M393.8 718.8L394.9 714.0M409.1 709.1L413.0 718.7M413.0 718.7L409.0 715.5M413.0 718.7L413.6 713.7M427.3 709.1L431.3 718.4M431.3 718.4L427.4 715.3M431.3 718.4L431.8 713.4M445.5 709.1L449.5 718.1M449.5 718.1L445.7 715.2M449.5 718.1L449.9 713.2M463.6 709.1L468.1 718.5M468.1 718.5L464.0 715.5M468.1 718.5L468.4 713.4M481.8 709.1L486.8 719.1M486.8 719.1L482.3 716.0M486.8 719.1L487.1 713.6M500.0 709.1L506.1 720.3M506.1 720.3L500.8 716.9M506.1 720.3L506.1 714.1M518.2 709.1L526.2 722.8M526.2 722.8L519.5 718.8M526.2 722.8L526.0 715.1M536.4 709.1L545.7 725.6M545.7 725.6L537.8 720.8M545.7 725.6L545.6 716.3M554.5 709.1L564.1 726.5M564.1 726.5L555.9 721.3M564.1 726.5L564.1 716.8M572.7 709.1L582.3 726.6M582.3 726.6L574.1 721.4M582.3 726.6L582.4 716.8M590.9 709.1L600.5 726.3M600.5 726.3L592.3 721.2M600.5 726.3L600.5 716.6M609.1 709.1L618.8 725.9M618.8 725.9L610.7 721.0M618.8 725.9L618.6 716.4M627.3 709.1L637.8 724.9M637.8 724.9L629.5 720.6M637.8 724.9L637.0 715.6M645.5 709.1L656.7 723.8M656.7 723.8L648.4 720.2M656.7 723.8L655.4 714.8M663.6 709.1L675.4 723.1M675.4 723.1L667.0 719.9M675.4 723.1L673.7 714.3M681.8 709.1L693.8 722.5M693.8 722.5L685.5 719.6M693.8 722.5L691.9 713.9M700.0 709.1L712.1 721.7M712.1 721.7L703.9 719.2M712.1 721.7L709.9 713.4M718.2 709.1L730.8 720.8M730.8 720.8L722.6 718.8M730.8 720.8L728.2 712.8M736.4 709.1L749.2 719.7M749.2 719.7L741.2 718.2M749.2 719.7L746.2 712.1M754.5 709.1L767.7 718.9M767.7 718.9L759.7 717.8M767.7 718.9L764.4 711.6M772.7 709.1L786.1 718.2M786.1 718.2L778.2 717.5M786.1 718.2L782.5 711.1M790.9 709.1L804.4 717.5M804.4 717.5L796.6 717.1M804.4 717.5L800.6 710.7M9.1 727.3L0.8 735.1M0.8 735.1L2.5 729.8M0.8 735.1L6.2 733.7M27.3 727.3L20.9 732.2M20.9 732.2L22.5 728.6M20.9 732.2L24.8 731.6M45.5 727.3L39.7 730.4M39.7 730.4L41.4 727.7M39.7 730.4L42.9 730.4M63.6 727.3L58.5 729.0M58.5 729.0L60.3 727.0M58.5 729.0L61.1 729.5M81.8 727.3L76.8 728.1M76.8 728.1L78.8 726.5M76.8 728.1L79.2 728.9M100.0 727.3L95.6 727.3M95.6 727.3L97.5 726.2M95.6 727.3L97.5 728.3M118.2 727.3L114.8 726.1M114.8 726.1L116.5 725.8M114.8 726.1L116.0 727.4M136.4 727.3L134.3 726.2M134.3 726.2L135.4 726.2M134.3 726.2L134.9 727.2M154.5 727.3L154.9 725.6M154.9 725.6L155.2 726.4M154.9 725.6L154.4 726.2M172.7 727.3L174.6 727.3M174.6 727.3L173.8 727.7M174.6 727.3L173.8 726.8M190.9 727.3L193.2 727.3M193.2 727.3L192.2 727.8M193.2 727.3L192.2 726.7M209.1 727.3L211.5 728.1M211.5 728.1L210.3 728.3M211.5 728.1L210.6 727.1M227.3 727.3L229.7 729.2M229.7 729.2L228.2 729.0M229.7 729.2L229.1 727.8M245.5 727.3L247.2 729.9M247.2 729.9L245.8 729.2M247.2 729.9L247.1 728.4M263.6 727.3L266.0 731.0M266.0 731.0L264.1 730.0M266.0 731.0L265.9 728.8M281.8 727.3L284.7 731.9M284.7 731.9L282.4 730.6M284.7 731.9L284.6 729.2M300.0 727.3L303.4 732.9M303.4 732.9L300.6 731.3M303.4 732.9L303.3 729.7M318.2 727.3L321.8 733.9M321.8 733.9L318.7 731.9M321.8 733.9L321.8 730.2M336.4 727.3L340.0 734.8M340.0 734.8L336.6 732.4M340.0 734.8L340.2 730.7M354.5 727.3L358.5 735.4M358.5 735.4L354.9 732.9M358.5 735.4L358.8 731.0M372.7 727.3L377.0 735.8M377.0 735.8L373.1 733.2M377.0 735.8L377.2 731.2M390.9 727.3L395.5 736.0M395.5 736.0L391.5 733.3M395.5 736.0L395.6 731.2M409.1 727.3L414.1 736.3M414.1 736.3L409.8 733.7M414.1 736.3L414.1 731.3M427.3 727.3L432.6 736.5M432.6 736.5L428.1 733.8M432.6 736.5L432.5 731.3M445.5 727.3L451.7 737.5M451.7 737.5L446.6 734.6M451.7 737.5L451.4 731.6M463.6 727.3L470.8 738.5M470.8 738.5L465.1 735.4M470.8 738.5L470.4 732.0M481.8 727.3L489.8 739.2M489.8 739.2L483.5 736.0M489.8 739.2L489.2 732.2M500.0 727.3L508.5 740.4M508.5 740.4L501.8 736.8M508.5 740.4L508.0 732.7M518.2 727.3L527.8 742.5M527.8 742.5L520.1 738.3M527.8 742.5L527.3 733.7M536.4 727.3L546.8 744.3M546.8 744.3L538.3 739.5M546.8 744.3L546.4 734.5M554.5 727.3L565.0 744.7M565.0 744.7L556.4 739.7M565.0 744.7L564.7 734.8M572.7 727.3L583.5 744.6M583.5 744.6L574.8 739.7M583.5 744.6L583.0 734.6M590.9 727.3L601.7 744.1M601.7 744.1L593.1 739.4M601.7 744.1L601.1 734.3M609.1 727.3L619.9 743.5M619.9 743.5L611.4 739.1M619.9 743.5L619.1 734.0M627.3 727.3L638.9 742.6M638.9 742.6L630.3 738.8M638.9 742.6L637.6 733.3M645.5 727.3L657.8 741.5M657.8 741.5L649.1 738.3M657.8 741.5L655.9 732.5M663.6 727.3L676.7 740.5M676.7 740.5L667.9 737.9M676.7 740.5L674.2 731.7M681.8 727.3L695.5 739.4M695.5 739.4L686.7 737.5M695.5 739.4L692.5 731.0M700.0 727.3L714.3 738.5M714.3 738.5L705.5 737.1M714.3 738.5L710.8 730.3M718.2 727.3L732.9 737.9M732.9 737.9L724.1 736.8M732.9 737.9L729.1 729.9M736.4 727.3L751.4 737.2M751.4 737.2L742.6 736.5M751.4 737.2L747.3 729.4M754.5 727.3L769.9 736.6M769.9 736.6L761.1 736.3M769.9 736.6L765.6 728.9M772.7 727.3L788.3 735.8M788.3 735.8L779.6 735.9M788.3 735.8L783.6 728.5M790.9 727.3L806.8 735.2M806.8 735.2L798.1 735.6M806.8 735.2L801.9 728.0M9.1 745.5L-0.0 754.3M-0.0 754.3L1.8 748.4M-0.0 754.3L6.0 752.7M27.3 745.5L20.0 750.9M20.0 750.9L21.8 746.9M20.0 750.9L24.4 750.3M45.5 745.5L38.8 748.9M38.8 748.9L40.8 745.9M38.8 748.9L42.5 749.0M63.6 745.5L57.8 747.8M57.8 747.8L59.7 745.4M57.8 747.8L60.8 748.2M81.8 745.5L76.1 747.5M76.1 747.5L78.1 745.3M76.1 747.5L79.0 748.0M100.0 745.5L94.8 747.2M94.8 747.2L96.6 745.2M94.8 747.2L97.5 747.7M118.2 745.5L114.2 744.1M114.2 744.1L116.2 743.7M114.2 744.1L115.6 745.6M136.4 745.5L133.7 744.1M133.7 744.1L135.2 744.1M133.7 744.1L134.5 745.3M154.5 745.5L154.7 743.2M154.7 743.2L155.2 744.2M154.7 743.2L154.1 744.1M172.7 745.5L175.5 744.5M175.5 744.5L174.5 745.6M175.5 744.5L174.1 744.3M190.9 745.5L194.7 745.5M194.7 745.5L193.1 746.4M194.7 745.5L193.1 744.6M209.1 745.5L213.2 746.4M213.2 746.4L211.2 747.0M213.2 746.4L211.7 745.0M227.3 745.5L231.0 747.8M231.0 747.8L228.9 747.7M231.0 747.8L230.0 745.9M245.5 745.5L248.9 748.8M248.9 748.8L246.6 748.2M248.9 748.8L248.2 746.6M263.6 745.5L267.6 749.8M267.6 749.8L264.9 748.9M267.6 749.8L266.9 747.0M281.8 745.5L286.3 750.6M286.3 750.6L283.2 749.4M286.3 750.6L285.6 747.3M300.0 745.5L304.8 751.3M304.8 751.3L301.4 749.9M304.8 751.3L304.1 747.6M318.2 745.5L323.3 752.0M323.3 752.0L319.5 750.4M323.3 752.0L322.7 748.0M336.4 745.5L341.6 752.8M341.6 752.8L337.6 750.9M341.6 752.8L341.1 748.4M354.5 745.5L360.3 753.4M360.3 753.4L355.9 751.4M360.3 753.4L359.7 748.7M372.7 745.5L378.6 754.0M378.6 754.0L374.1 751.7M378.6 754.0L378.1 748.9M390.9 745.5L397.1 754.4M397.1 754.4L392.3 752.1M397.1 754.4L396.6 749.1M409.1 745.5L415.7 754.8M415.7 754.8L410.7 752.4M415.7 754.8L415.1 749.2M427.3 745.5L434.7 755.5M434.7 755.5L429.1 753.0M434.7 755.5L433.9 749.4M445.5 745.5L454.2 756.8M454.2 756.8L447.8 754.0M454.2 756.8L453.1 749.9M463.6 745.5L473.5 757.9M473.5 757.9L466.3 754.9M473.5 757.9L472.2 750.2M481.8 745.5L492.6 758.6M492.6 758.6L484.8 755.5M492.6 758.6L491.1 750.4M500.0 745.5L511.1 759.3M511.1 759.3L503.1 756.0M511.1 759.3L509.6 750.7M518.2 745.5L529.7 760.0M529.7 760.0L521.3 756.5M529.7 760.0L528.2 751.1M536.4 745.5L548.6 761.4M548.6 761.4L539.6 757.5M548.6 761.4L547.1 751.7M554.5 745.5L566.8 761.9M566.8 761.9L557.7 757.8M566.8 761.9L565.5 751.9M572.7 745.5L585.2 761.6M585.2 761.6L576.0 757.6M585.2 761.6L583.7 751.7M590.9 745.5L603.5 761.0M603.5 761.0L594.4 757.3M603.5 761.0L601.8 751.3M609.1 745.5L621.9 760.4M621.9 760.4L612.8 757.0M621.9 760.4L619.9 751.0M627.3 745.5L640.6 759.7M640.6 759.7L631.5 756.8M640.6 759.7L638.3 750.4M645.5 745.5L659.3 758.9M659.3 758.9L650.2 756.4M659.3 758.9L656.5 749.8M663.6 745.5L678.0 757.9M678.0 757.9L668.9 756.0M678.0 757.9L674.8 749.2M681.8 745.5L696.8 756.9M696.8 756.9L687.7 755.5M696.8 756.9L693.1 748.4M700.0 745.5L715.5 755.8M715.5 755.8L706.4 755.1M715.5 755.8L711.4 747.7M718.2 745.5L733.9 755.6M733.9 755.6L724.7 755.0M733.9 755.6L729.6 747.5M736.4 745.5L752.2 755.4M752.2 755.4L743.1 754.9M752.2 755.4L747.8 747.4M754.5 745.5L770.8 755.0M770.8 755.0L761.5 754.8M770.8 755.0L766.1 747.1M772.7 745.5L789.5 754.4M789.5 754.4L780.2 754.6M789.5 754.4L784.4 746.6M790.9 745.5L808.0 753.7M808.0 753.7L798.7 754.2M808.0 753.7L802.6 746.1M9.1 763.6L-0.8 773.6M-0.8 773.6L1.0 767.0M-0.8 773.6L5.8 771.7M27.3 763.6L20.1 771.5M20.1 771.5L21.3 766.4M20.1 771.5L25.0 769.8M45.5 763.6L39.7 770.3M39.7 770.3L40.6 766.1M39.7 770.3L43.8 768.8M63.6 763.6L59.1 769.4M59.1 769.4L59.7 765.8M59.1 769.4L62.4 768.0M81.8 763.6L77.4 769.7M77.4 769.7L77.8 766.1M77.4 769.7L80.7 768.2M100.0 763.6L96.4 769.1M96.4 769.1L96.6 765.9M96.4 769.1L99.2 767.6M118.2 763.6L122.7 767.4M122.7 767.4L119.9 766.8M122.7 767.4L121.7 764.7M136.4 763.6L139.9 760.1M139.9 760.1L139.2 762.4M139.9 760.1L137.6 760.8M154.5 763.6L158.6 761.9M158.6 761.9L157.3 763.6M158.6 761.9L156.5 761.7M172.7 763.6L177.6 763.6M177.6 763.6L175.5 764.8M177.6 763.6L175.5 762.5M190.9 763.6L196.3 764.5M196.3 764.5L193.8 765.4M196.3 764.5L194.2 762.8M209.1 763.6L214.7 765.4M214.7 765.4L211.9 766.0M214.7 765.4L212.7 763.3M227.3 763.6L232.7 766.4M232.7 766.4L229.7 766.5M232.7 766.4L231.0 763.9M245.5 763.6L250.6 766.9M250.6 766.9L247.6 766.7M250.6 766.9L249.2 764.3M263.6 763.6L269.3 768.2M269.3 768.2L265.8 767.6M269.3 768.2L268.0 764.9M281.8 763.6L288.2 769.0M288.2 769.0L284.2 768.2M288.2 769.0L286.7 765.2M300.0 763.6L306.8 769.7M306.8 769.7L302.4 768.7M306.8 769.7L305.3 765.5M318.2 763.6L325.7 770.8M325.7 770.8L320.8 769.5M325.7 770.8L324.2 765.9M336.4 763.6L344.4 771.7M344.4 771.7L339.1 770.2M344.4 771.7L342.9 766.3M354.5 763.6L363.2 772.6M363.2 772.6L357.4 770.8M363.2 772.6L361.6 766.7M372.7 763.6L381.7 773.4M381.7 773.4L375.6 771.3M381.7 773.4L380.2 767.1M390.9 763.6L399.9 773.7M399.9 773.7L393.6 771.6M399.9 773.7L398.4 767.3M409.1 763.6L418.4 774.1M418.4 774.1L411.9 771.9M418.4 774.1L416.9 767.4M427.3 763.6L437.3 774.6M437.3 774.6L430.4 772.3M437.3 774.6L435.6 767.5M445.5 763.6L456.7 775.6M456.7 775.6L449.1 773.1M456.7 775.6L454.7 767.8M463.6 763.6L475.8 776.2M475.8 776.2L467.6 773.7M475.8 776.2L473.6 767.9M481.8 763.6L494.6 776.5M494.6 776.5L486.1 774.0M494.6 776.5L492.2 767.9M500.0 763.6L512.9 776.8M512.9 776.8L504.2 774.2M512.9 776.8L510.5 768.1M518.2 763.6L531.4 777.4M531.4 777.4L522.5 774.7M531.4 777.4L529.0 768.4M536.4 763.6L550.1 778.3M550.1 778.3L540.8 775.3M550.1 778.3L547.7 768.7M554.5 763.6L568.5 778.7M568.5 778.7L558.9 775.6M568.5 778.7L566.1 768.9M572.7 763.6L586.9 778.2M586.9 778.2L577.4 775.4M586.9 778.2L584.3 768.6M590.9 763.6L605.3 777.7M605.3 777.7L595.8 775.1M605.3 777.7L602.5 768.2M609.1 763.6L623.8 777.2M623.8 777.2L614.3 774.9M623.8 777.2L620.7 767.9M627.3 763.6L642.4 776.4M642.4 776.4L632.9 774.5M642.4 776.4L639.0 767.3M645.5 763.6L661.1 775.6M661.1 775.6L651.6 774.2M661.1 775.6L657.2 766.7M663.6 763.6L679.7 774.8M679.7 774.8L670.2 773.8M679.7 774.8L675.5 766.2M681.8 763.6L698.3 773.9M698.3 773.9L688.8 773.4M698.3 773.9L693.7 765.6M700.0 763.6L716.9 773.1M716.9 773.1L707.4 773.1M716.9 773.1L711.9 765.1M718.2 763.6L735.2 772.9M735.2 772.9L725.7 773.0M735.2 772.9L730.1 764.9M736.4 763.6L753.7 772.7M753.7 772.7L744.1 772.9M753.7 772.7L748.4 764.7M754.5 763.6L772.2 772.6M772.2 772.6L762.5 773.0M772.2 772.6L766.8 764.6M772.7 763.6L790.8 772.5M790.8 772.5L781.0 773.0M790.8 772.5L785.1 764.4M790.9 763.6L809.3 772.3M809.3 772.3L799.4 773.0M809.3 772.3L803.5 764.2" stroke="#fff" stroke-width="1.05" fill="none" stroke-linecap="butt"/>
<g filter="url(#gs)" font-family="Liberation Sans, sans-serif" font-weight="bold" font-size="24.5px" fill="#808080" stroke="#808080" stroke-width="0.45">
<text x="5.5" y="49.1" textLength="383.5" lengthAdjust="spacingAndGlyphs">modelo GEFS-WAVE (NCEP)</text>
<text x="5.5" y="72.4" textLength="494" lengthAdjust="spacingAndGlyphs">forecast date: 2025-12-21 18:00:00</text>
<text x="42.5" y="95.7" textLength="445.5" lengthAdjust="spacingAndGlyphs">valid date: 2025-12-26 06:00:00</text>
</g>
<polyline fill="none" stroke="#000" stroke-width="1.05" stroke-linejoin="round" points="241.0,29.0 234.0,30.0 236.0,36.0 235.0,50.0 229.0,60.0 223.0,69.0 228.0,75.0 227.0,86.0 225.0,95.0 216.0,97.0 212.4,100.0 216.0,106.0 217.0,114.0 213.6,120.0 220.6,129.6 216.0,136.0 211.6,143.0"/>
<polyline fill="none" stroke="#000" stroke-width="1.05" stroke-linejoin="round" points="211.6,143.0 211.6,152.0 214.0,166.0 218.0,174.0 216.0,179.0 217.0,185.0 212.0,189.0 198.0,187.6 195.6,190.0 197.0,200.0 196.0,205.0 191.0,209.0 188.0,218.0 187.0,230.0 189.0,237.0 193.0,243.0 194.4,252.0 195.0,256.0 199.0,261.0 199.0,268.0 195.0,273.0 186.0,275.4 193.0,278.0 194.4,281.0 191.0,286.0 193.0,293.0 200.0,297.0 205.0,303.0 214.0,308.0 228.0,311.0 238.0,315.0 250.0,321.0 261.0,328.0 270.0,334.0 277.5,339.7 286.0,347.0 289.7,354.7 289.7,361.0 284.0,367.0 276.6,374.0 272.8,383.8 272.8,392.0 276.6,401.6 283.0,410.0 291.6,419.0 298.0,423.5 303.8,426.5 310.0,424.6 317.0,422.0 319.7,423.5 321.0,430.6 322.5,437.0 324.0,449.5 324.0,464.5 317.5,474.5 307.5,485.8 298.8,499.5 290.0,509.5 280.0,517.0 272.5,523.0 266.0,529.5 262.0,537.0 260.8,544.5 261.0,550.8 257.5,555.8 247.5,560.8 235.0,567.0 225.0,571.5 215.0,575.8 200.0,581.0 187.5,585.5 175.0,588.5 162.5,591.5 153.8,594.5 142.5,596.5 130.0,599.0 117.5,601.5 107.5,603.0 97.5,605.5 87.5,607.0 81.0,608.0 60.0,610.5 32.5,613.8 18.8,615.8 7.5,617.0 0.0,618.0"/>
<polyline fill="none" stroke="#000" stroke-width="1.05" stroke-linejoin="round" points="211.6,143.0 214.0,146.0 217.0,158.0 218.0,168.0 223.0,173.0 224.0,178.0 221.0,185.0 215.0,189.0 204.0,189.4 200.0,191.0 201.6,200.0 201.0,206.0 197.0,210.0 199.0,215.0 195.6,220.0 195.6,230.0 196.4,242.0 199.0,250.0 205.0,255.0 212.0,264.0 219.0,267.0 227.0,274.0 234.0,281.0 237.0,288.0 246.0,288.0 254.0,285.6 260.0,285.0 265.0,286.4 274.0,285.0 282.0,286.0 290.0,288.0 300.0,295.6 309.4,302.0 326.0,308.0 342.0,311.6 345.0,312.5 344.0,315.0 348.8,319.0 355.0,320.0 356.0,318.0 361.0,322.0 367.5,319.0 372.0,318.0 379.0,313.4 386.0,310.6 397.5,310.0 407.0,312.0 418.8,313.0 423.8,317.0 428.8,320.0 437.5,319.0 445.0,321.5 448.8,325.0 453.8,323.0 465.0,318.0 477.5,313.0 487.5,309.5 496.0,306.5 495.0,302.0 493.8,299.5 497.5,297.5 494.5,295.0 497.5,297.5 500.0,299.5 500.0,304.0 506.0,303.0 508.8,299.5 516.0,293.0 525.0,287.0 533.8,282.0 535.0,277.0 538.8,272.0 545.0,264.5 550.0,258.0 553.8,250.8 556.0,242.0 560.0,237.0 563.8,235.8 570.0,232.0 576.0,228.0 585.0,219.5 592.5,213.0 600.0,208.0 610.0,199.5 617.5,190.8 622.5,179.5 628.8,164.5 633.8,152.0 640.0,138.0 646.0,132.0 652.0,126.0 658.0,120.0 664.0,113.0 672.0,106.0 680.0,100.0 690.0,92.0 700.0,85.0 710.0,78.0 720.0,71.0 728.0,65.0 737.0,57.0 744.0,48.0 752.0,39.0 760.0,31.0 764.0,27.3"/>
<polyline fill="none" stroke="#000" stroke-width="1.05" stroke-linejoin="round" points="405.0,27.5 410.0,29.5 417.5,37.0 421.0,45.8 427.5,53.0 437.5,55.8 447.5,60.8 453.8,65.8 465.0,68.0 475.0,73.0 482.5,78.0 488.8,87.0 498.8,94.5 507.5,102.0 511.0,100.0 517.5,102.0 523.8,105.8 528.8,110.8 536.0,113.0 537.5,120.8 542.5,125.8 543.8,134.5 550.0,142.0 560.0,149.5 570.0,152.0 577.5,155.8 583.8,162.0 575.0,169.5 568.8,174.5 567.5,179.5 558.8,184.5 552.5,190.8 551.0,199.5 553.0,212.0 552.0,224.5 551.0,227.0 553.0,230.8 558.8,232.0 562.5,235.8"/>
<polyline fill="none" stroke="#000" stroke-width="1.05" stroke-linejoin="round" points="700.0,27.3 701.0,34.0 703.6,40.0 700.0,43.0 693.0,45.0 690.0,49.0 690.0,53.0 683.0,56.0 674.0,57.4 668.0,60.0 664.0,65.0"/>
<polyline fill="none" stroke="#000" stroke-width="1.05" stroke-linejoin="round" points="659.0,77.0 661.0,78.0 661.6,80.0 659.0,82.0 656.0,87.0 649.0,90.0 648.0,95.0 645.6,98.0 648.0,102.0 645.6,106.0 648.0,109.0 646.0,113.0 650.0,115.0 654.0,115.0 656.0,120.0 659.0,118.0 661.0,113.0 660.0,110.0 663.0,107.0"/>
<polyline fill="none" stroke="#000" stroke-width="1.05" stroke-linejoin="round" points="737.0,27.3 738.0,37.0 740.0,42.0 738.0,46.0 736.0,41.0 731.0,41.0 726.0,43.0 726.0,53.0 724.0,60.0 720.0,67.0 714.0,72.0 707.0,75.0 704.0,73.0 705.0,78.0 702.0,82.0 700.0,79.4 697.0,85.0 690.0,90.0 683.0,93.0 677.0,94.0 674.0,97.0 666.0,96.0 659.0,96.0 657.0,98.0 660.0,100.0 668.0,100.0 674.0,97.0"/>
<path d="M9.09 27.27V772.73M81.82 27.27V772.73M154.55 27.27V772.73M227.27 27.27V772.73M300.00 27.27V772.73M372.73 27.27V772.73M445.45 27.27V772.73M518.18 27.27V772.73M590.91 27.27V772.73M663.64 27.27V772.73M736.36 27.27V772.73M0 763.64H800M0 690.91H800M0 618.18H800M0 545.45H800M0 472.73H800M0 400.00H800M0 327.27H800M0 254.55H800M0 181.82H800M0 109.09H800M0 36.36H800" stroke="#808080" stroke-width="1.1" fill="none"/>
<path d="M1.82 27.27v4.5M1.82 772.73v-4.5M9.09 27.27v9M9.09 772.73v-9M16.36 27.27v4.5M16.36 772.73v-4.5M23.64 27.27v4.5M23.64 772.73v-4.5M30.91 27.27v4.5M30.91 772.73v-4.5M38.18 27.27v4.5M38.18 772.73v-4.5M45.45 27.27v9M45.45 772.73v-9M52.73 27.27v4.5M52.73 772.73v-4.5M60.00 27.27v4.5M60.00 772.73v-4.5M67.27 27.27v4.5M67.27 772.73v-4.5M74.55 27.27v4.5M74.55 772.73v-4.5M81.82 27.27v18M81.82 772.73v-18M89.09 27.27v4.5M89.09 772.73v-4.5M96.36 27.27v4.5M96.36 772.73v-4.5M103.64 27.27v4.5M103.64 772.73v-4.5M110.91 27.27v4.5M110.91 772.73v-4.5M118.18 27.27v9M118.18 772.73v-9M125.45 27.27v4.5M125.45 772.73v-4.5M132.73 27.27v4.5M132.73 772.73v-4.5M140.00 27.27v4.5M140.00 772.73v-4.5M147.27 27.27v4.5M147.27 772.73v-4.5M154.55 27.27v18M154.55 772.73v-18M161.82 27.27v4.5M161.82 772.73v-4.5M169.09 27.27v4.5M169.09 772.73v-4.5M176.36 27.27v4.5M176.36 772.73v-4.5M183.64 27.27v4.5M183.64 772.73v-4.5M190.91 27.27v9M190.91 772.73v-9M198.18 27.27v4.5M198.18 772.73v-4.5M205.45 27.27v4.5M205.45 772.73v-4.5M212.73 27.27v4.5M212.73 772.73v-4.5M220.00 27.27v4.5M220.00 772.73v-4.5M227.27 27.27v18M227.27 772.73v-18M234.55 27.27v4.5M234.55 772.73v-4.5M241.82 27.27v4.5M241.82 772.73v-4.5M249.09 27.27v4.5M249.09 772.73v-4.5M256.36 27.27v4.5M256.36 772.73v-4.5M263.64 27.27v9M263.64 772.73v-9M270.91 27.27v4.5M270.91 772.73v-4.5M278.18 27.27v4.5M278.18 772.73v-4.5M285.45 27.27v4.5M285.45 772.73v-4.5M292.73 27.27v4.5M292.73 772.73v-4.5M300.00 27.27v18M300.00 772.73v-18M307.27 27.27v4.5M307.27 772.73v-4.5M314.55 27.27v4.5M314.55 772.73v-4.5M321.82 27.27v4.5M321.82 772.73v-4.5M329.09 27.27v4.5M329.09 772.73v-4.5M336.36 27.27v9M336.36 772.73v-9M343.64 27.27v4.5M343.64 772.73v-4.5M350.91 27.27v4.5M350.91 772.73v-4.5M358.18 27.27v4.5M358.18 772.73v-4.5M365.45 27.27v4.5M365.45 772.73v-4.5M372.73 27.27v18M372.73 772.73v-18M380.00 27.27v4.5M380.00 772.73v-4.5M387.27 27.27v4.5M387.27 772.73v-4.5M394.55 27.27v4.5M394.55 772.73v-4.5M401.82 27.27v4.5M401.82 772.73v-4.5M409.09 27.27v9M409.09 772.73v-9M416.36 27.27v4.5M416.36 772.73v-4.5M423.64 27.27v4.5M423.64 772.73v-4.5M430.91 27.27v4.5M430.91 772.73v-4.5M438.18 27.27v4.5M438.18 772.73v-4.5M445.45 27.27v18M445.45 772.73v-18M452.73 27.27v4.5M452.73 772.73v-4.5M460.00 27.27v4.5M460.00 772.73v-4.5M467.27 27.27v4.5M467.27 772.73v-4.5M474.55 27.27v4.5M474.55 772.73v-4.5M481.82 27.27v9M481.82 772.73v-9M489.09 27.27v4.5M489.09 772.73v-4.5M496.36 27.27v4.5M496.36 772.73v-4.5M503.64 27.27v4.5M503.64 772.73v-4.5M510.91 27.27v4.5M510.91 772.73v-4.5M518.18 27.27v18M518.18 772.73v-18M525.45 27.27v4.5M525.45 772.73v-4.5M532.73 27.27v4.5M532.73 772.73v-4.5M540.00 27.27v4.5M540.00 772.73v-4.5M547.27 27.27v4.5M547.27 772.73v-4.5M554.55 27.27v9M554.55 772.73v-9M561.82 27.27v4.5M561.82 772.73v-4.5M569.09 27.27v4.5M569.09 772.73v-4.5M576.36 27.27v4.5M576.36 772.73v-4.5M583.64 27.27v4.5M583.64 772.73v-4.5M590.91 27.27v18M590.91 772.73v-18M598.18 27.27v4.5M598.18 772.73v-4.5M605.45 27.27v4.5M605.45 772.73v-4.5M612.73 27.27v4.5M612.73 772.73v-4.5M620.00 27.27v4.5M620.00 772.73v-4.5M627.27 27.27v9M627.27 772.73v-9M634.55 27.27v4.5M634.55 772.73v-4.5M641.82 27.27v4.5M641.82 772.73v-4.5M649.09 27.27v4.5M649.09 772.73v-4.5M656.36 27.27v4.5M656.36 772.73v-4.5M663.64 27.27v18M663.64 772.73v-18M670.91 27.27v4.5M670.91 772.73v-4.5M678.18 27.27v4.5M678.18 772.73v-4.5M685.45 27.27v4.5M685.45 772.73v-4.5M692.73 27.27v4.5M692.73 772.73v-4.5M700.00 27.27v9M700.00 772.73v-9M707.27 27.27v4.5M707.27 772.73v-4.5M714.55 27.27v4.5M714.55 772.73v-4.5M721.82 27.27v4.5M721.82 772.73v-4.5M729.09 27.27v4.5M729.09 772.73v-4.5M736.36 27.27v18M736.36 772.73v-18M743.64 27.27v4.5M743.64 772.73v-4.5M750.91 27.27v4.5M750.91 772.73v-4.5M758.18 27.27v4.5M758.18 772.73v-4.5M765.45 27.27v4.5M765.45 772.73v-4.5M772.73 27.27v9M772.73 772.73v-9M780.00 27.27v4.5M780.00 772.73v-4.5M787.27 27.27v4.5M787.27 772.73v-4.5M794.55 27.27v4.5M794.55 772.73v-4.5M0 770.91h4.5M800 770.91h-4.5M0 763.64h18M800 763.64h-18M0 756.36h4.5M800 756.36h-4.5M0 749.09h4.5M800 749.09h-4.5M0 741.82h4.5M800 741.82h-4.5M0 734.55h4.5M800 734.55h-4.5M0 727.27h9M800 727.27h-9M0 720.00h4.5M800 720.00h-4.5M0 712.73h4.5M800 712.73h-4.5M0 705.45h4.5M800 705.45h-4.5M0 698.18h4.5M800 698.18h-4.5M0 690.91h18M800 690.91h-18M0 683.64h4.5M800 683.64h-4.5M0 676.36h4.5M800 676.36h-4.5M0 669.09h4.5M800 669.09h-4.5M0 661.82h4.5M800 661.82h-4.5M0 654.55h9M800 654.55h-9M0 647.27h4.5M800 647.27h-4.5M0 640.00h4.5M800 640.00h-4.5M0 632.73h4.5M800 632.73h-4.5M0 625.45h4.5M800 625.45h-4.5M0 618.18h18M800 618.18h-18M0 610.91h4.5M800 610.91h-4.5M0 603.64h4.5M800 603.64h-4.5M0 596.36h4.5M800 596.36h-4.5M0 589.09h4.5M800 589.09h-4.5M0 581.82h9M800 581.82h-9M0 574.55h4.5M800 574.55h-4.5M0 567.27h4.5M800 567.27h-4.5M0 560.00h4.5M800 560.00h-4.5M0 552.73h4.5M800 552.73h-4.5M0 545.45h18M800 545.45h-18M0 538.18h4.5M800 538.18h-4.5M0 530.91h4.5M800 530.91h-4.5M0 523.64h4.5M800 523.64h-4.5M0 516.36h4.5M800 516.36h-4.5M0 509.09h9M800 509.09h-9M0 501.82h4.5M800 501.82h-4.5M0 494.55h4.5M800 494.55h-4.5M0 487.27h4.5M800 487.27h-4.5M0 480.00h4.5M800 480.00h-4.5M0 472.73h18M800 472.73h-18M0 465.45h4.5M800 465.45h-4.5M0 458.18h4.5M800 458.18h-4.5M0 450.91h4.5M800 450.91h-4.5M0 443.64h4.5M800 443.64h-4.5M0 436.36h9M800 436.36h-9M0 429.09h4.5M800 429.09h-4.5M0 421.82h4.5M800 421.82h-4.5M0 414.55h4.5M800 414.55h-4.5M0 407.27h4.5M800 407.27h-4.5M0 400.00h18M800 400.00h-18M0 392.73h4.5M800 392.73h-4.5M0 385.45h4.5M800 385.45h-4.5M0 378.18h4.5M800 378.18h-4.5M0 370.91h4.5M800 370.91h-4.5M0 363.64h9M800 363.64h-9M0 356.36h4.5M800 356.36h-4.5M0 349.09h4.5M800 349.09h-4.5M0 341.82h4.5M800 341.82h-4.5M0 334.55h4.5M800 334.55h-4.5M0 327.27h18M800 327.27h-18M0 320.00h4.5M800 320.00h-4.5M0 312.73h4.5M800 312.73h-4.5M0 305.45h4.5M800 305.45h-4.5M0 298.18h4.5M800 298.18h-4.5M0 290.91h9M800 290.91h-9M0 283.64h4.5M800 283.64h-4.5M0 276.36h4.5M800 276.36h-4.5M0 269.09h4.5M800 269.09h-4.5M0 261.82h4.5M800 261.82h-4.5M0 254.55h18M800 254.55h-18M0 247.27h4.5M800 247.27h-4.5M0 240.00h4.5M800 240.00h-4.5M0 232.73h4.5M800 232.73h-4.5M0 225.45h4.5M800 225.45h-4.5M0 218.18h9M800 218.18h-9M0 210.91h4.5M800 210.91h-4.5M0 203.64h4.5M800 203.64h-4.5M0 196.36h4.5M800 196.36h-4.5M0 189.09h4.5M800 189.09h-4.5M0 181.82h18M800 181.82h-18M0 174.55h4.5M800 174.55h-4.5M0 167.27h4.5M800 167.27h-4.5M0 160.00h4.5M800 160.00h-4.5M0 152.73h4.5M800 152.73h-4.5M0 145.45h9M800 145.45h-9M0 138.18h4.5M800 138.18h-4.5M0 130.91h4.5M800 130.91h-4.5M0 123.64h4.5M800 123.64h-4.5M0 116.36h4.5M800 116.36h-4.5M0 109.09h18M800 109.09h-18M0 101.82h4.5M800 101.82h-4.5M0 94.55h4.5M800 94.55h-4.5M0 87.27h4.5M800 87.27h-4.5M0 80.00h4.5M800 80.00h-4.5M0 72.73h9M800 72.73h-9M0 65.45h4.5M800 65.45h-4.5M0 58.18h4.5M800 58.18h-4.5M0 50.91h4.5M800 50.91h-4.5M0 43.64h4.5M800 43.64h-4.5M0 36.36h9M800 36.36h-9M0 29.09h4.5M800 29.09h-4.5" stroke="#000" stroke-width="1.1" fill="none"/>
<path d="M0.5 772.73V27.67H800" fill="none" stroke="#000" stroke-width="1.1"/>
<g filter="url(#gs)" font-family="Liberation Sans, sans-serif" font-size="11.5px" fill="#8c8282">
<clipPath id="cp"><rect x="0" y="28.27" width="800" height="743.45"/></clipPath>
<text x="792" y="32.4" text-anchor="end" clip-path="url(#cp)">31S</text>
<text x="792" y="105.1" text-anchor="end">32S</text>
<text x="792" y="177.8" text-anchor="end">33S</text>
<text x="792" y="250.5" text-anchor="end">34S</text>
<text x="792" y="323.3" text-anchor="end">35S</text>
<text x="792" y="396.0" text-anchor="end">36S</text>
<text x="792" y="468.7" text-anchor="end">37S</text>
<text x="792" y="541.5" text-anchor="end">38S</text>
<text x="792" y="614.2" text-anchor="end">39S</text>
<text x="792" y="686.9" text-anchor="end">40S</text>
<text x="792" y="759.6" text-anchor="end">41S</text>
<text transform="translate(741.4,743.7) rotate(90)">51W</text>
<text transform="translate(668.6,743.7) rotate(90)">52W</text>
<text transform="translate(595.9,743.7) rotate(90)">53W</text>
<text transform="translate(523.2,743.7) rotate(90)">54W</text>
<text transform="translate(450.5,743.7) rotate(90)">55W</text>
<text transform="translate(377.7,743.7) rotate(90)">56W</text>
<text transform="translate(305.0,743.7) rotate(90)">57W</text>
<text transform="translate(232.3,743.7) rotate(90)">58W</text>
<text transform="translate(159.5,743.7) rotate(90)">59W</text>
<text transform="translate(86.8,743.7) rotate(90)">60W</text>
<text transform="translate(14.1,743.7) rotate(90)">61W</text>
</g>
<defs><linearGradient id="cb" x1="0" y1="1" x2="0" y2="0">
<stop offset="0.0000" stop-color="rgb(0, 0, 255)"/>
<stop offset="0.2600" stop-color="rgb(0, 255, 255)"/>
<stop offset="0.4000" stop-color="rgb(0, 255, 0)"/>
<stop offset="0.5333" stop-color="rgb(255, 255, 0)"/>
<stop offset="0.8333" stop-color="rgb(255, 0, 0)"/>
<stop offset="1.0000" stop-color="rgb(190, 0, 130)"/>
</linearGradient></defs>
<rect x="32.5" y="160.5" width="48.5" height="609" fill="#fff" stroke="#000" stroke-width="1"/>
<rect x="34" y="162" width="45.5" height="606" fill="url(#cb)"/>
<g filter="url(#gs)" font-family="Liberation Sans, sans-serif" font-size="15.5px" fill="#222">
<text x="87" y="772.0">0</text>
<text x="87" y="620.2">8</text>
<text x="87" y="468.5">15</text>
<text x="87" y="316.8">22</text>
<text x="87" y="165.0">30</text>
<text x="35" y="148" font-size="16px" textLength="42" lengthAdjust="spacingAndGlyphs">[m/s]</text>
</g>
</svg></body></html>
